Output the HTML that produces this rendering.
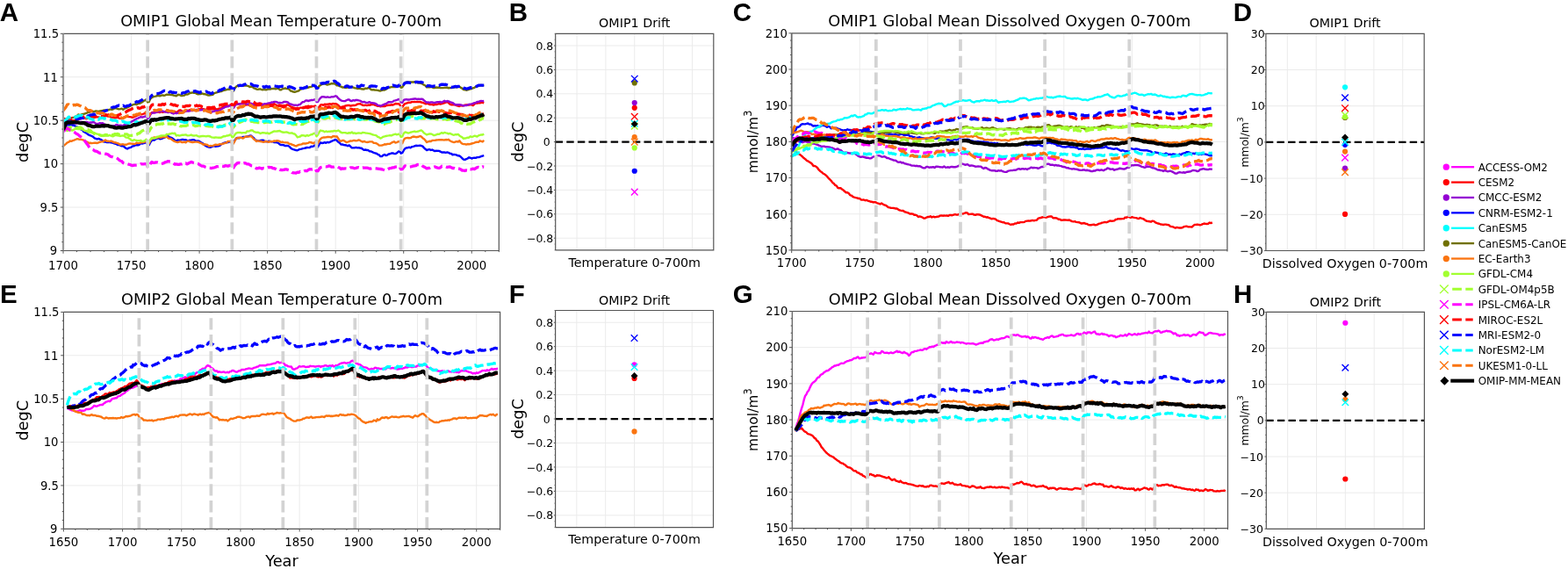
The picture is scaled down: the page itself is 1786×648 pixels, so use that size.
<!DOCTYPE html><html><head><meta charset="utf-8"><title>OMIP drift figure</title><style>html,body{margin:0;padding:0;background:#fff;width:1786px;height:648px;overflow:hidden}svg{display:block}</style></head><body><svg width="1786" height="648" viewBox="0 0 1786 648" font-family="'DejaVu Sans', 'Liberation Sans', sans-serif" fill="#000">
<rect width="1786" height="648" fill="#fff"/>
<clipPath id="c1"><rect x="72" y="38.3" width="496.3" height="247.2"/></clipPath>
<path d="M149.55 38.3V285.5M227.09 38.3V285.5M304.64 38.3V285.5M382.19 38.3V285.5M459.73 38.3V285.5M537.28 38.3V285.5M72 236.06H568.3M72 186.62H568.3M72 137.18H568.3M72 87.74H568.3" stroke="#ebebeb" stroke-width="1" fill="none"/>
<g clip-path="url(#c1)">
<path d="M72 140.68 73.55 139.14 75.1 139.08 76.65 138.8 78.2 137.85 79.75 137.27 81.31 137.3 82.86 137.31 84.41 137.11 85.96 136.92 87.51 136.07 89.06 136.32 90.61 135.26 92.16 135.15 93.71 134.93 95.26 134.14 96.81 134.31 98.37 135.12 99.92 134.64 101.47 133.89 103.02 133.86 104.57 134.18 106.12 134.01 107.67 133.77 109.22 132.99 110.77 133.32 112.32 133.47 113.88 133.9 115.43 134.18 116.98 133.95 118.53 132.72 120.08 132.05 121.63 131.98 123.18 132.62 124.73 132.56 126.28 133.52 127.83 133.67 129.38 133.87 130.94 134.21 132.49 134.17 134.04 133.35 135.59 134.59 137.14 134.89 138.69 135.09 140.24 134.2 141.79 133.18 143.34 132.72 144.89 132.48 146.44 132.99 148 133.17 149.55 133.41 151.1 133.74 152.65 133.08 154.2 132.49 155.75 131.7 157.3 131.1 158.85 130.26 160.4 130.37 161.95 130.23 163.51 129.73 165.06 129.16 166.61 129.27 168.16 133.12 169.71 132.68 171.26 130.3 172.81 128.26 174.36 127.96 175.91 127.74 177.46 127.57 179.01 127.28 180.57 127.5 182.12 127.98 183.67 127.22 185.22 127.79 186.77 127.38 188.32 127.15 189.87 126.22 191.42 125.54 192.97 126.54 194.52 126.33 196.07 127.04 197.63 127.14 199.18 127.28 200.73 127.8 202.28 127.41 203.83 125.71 205.38 125.33 206.93 126.27 208.48 127.24 210.03 126.85 211.58 126.31 213.14 125.63 214.69 126.01 216.24 125.12 217.79 124.77 219.34 125.12 220.89 125.25 222.44 125.1 223.99 125.54 225.54 124.71 227.09 124.18 228.64 124.14 230.2 124.27 231.75 124.11 233.3 125.11 234.85 124.58 236.4 124.81 237.95 124.4 239.5 124.56 241.05 124.32 242.6 124.06 244.15 124.73 245.7 124.2 247.26 124.73 248.81 123.89 250.36 123.45 251.91 123.55 253.46 121.81 255.01 120.93 256.56 120.97 258.11 121.02 259.66 120.9 261.21 120.24 262.77 119.17 264.32 122.85 265.87 122.6 267.42 119.45 268.97 117.79 270.52 118.8 272.07 118.73 273.62 118.16 275.17 118.23 276.72 118.35 278.27 118.81 279.83 119.55 281.38 119.29 282.93 119.39 284.48 120.33 286.03 120.89 287.58 121.63 289.13 120.48 290.68 119.97 292.23 120.5 293.78 119.88 295.33 120.03 296.89 119.9 298.44 119.46 299.99 120.25 301.54 120.07 303.09 119.74 304.64 119.69 306.19 119.85 307.74 119.12 309.29 119 310.84 118.75 312.4 118.22 313.95 119.3 315.5 120.17 317.05 120.76 318.6 119.84 320.15 120.32 321.7 120.53 323.25 120.04 324.8 120.33 326.35 119.57 327.9 119.44 329.46 120.31 331.01 121.26 332.56 122.09 334.11 123.87 335.66 123.67 337.21 123.29 338.76 122.84 340.31 123.69 341.86 122.65 343.41 122.63 344.96 123.18 346.52 122.08 348.07 121.5 349.62 121.3 351.17 120.65 352.72 121.34 354.27 120.9 355.82 121.26 357.37 121.16 358.92 120.79 360.47 124.41 362.03 123.84 363.58 121.93 365.13 119.53 366.68 119.15 368.23 119.76 369.78 118.58 371.33 118.98 372.88 118.77 374.43 118.53 375.98 118.25 377.53 118.87 379.09 117.9 380.64 118.3 382.19 118.3 383.74 118.56 385.29 119.83 386.84 121.47 388.39 122.38 389.94 121.43 391.49 121.38 393.04 120.67 394.59 120.24 396.15 120.01 397.7 119.99 399.25 120.6 400.8 120.26 402.35 119.9 403.9 119.95 405.45 119.69 407 118.6 408.55 118.38 410.1 118.17 411.66 119.02 413.21 119.87 414.76 120.05 416.31 119.61 417.86 120.05 419.41 119.52 420.96 119.75 422.51 119.24 424.06 118.92 425.61 118.99 427.16 119.79 428.72 120.09 430.27 120.89 431.82 120.71 433.37 121.35 434.92 120.77 436.47 121.11 438.02 121.05 439.57 120.3 441.12 119.95 442.67 119.8 444.22 119.74 445.78 119.3 447.33 119.58 448.88 118.97 450.43 117.97 451.98 118.28 453.53 118.27 455.08 118.64 456.63 122.21 458.18 122 459.73 119.72 461.29 118.18 462.84 117.67 464.39 117.04 465.94 116.78 467.49 116.89 469.04 115.92 470.59 116.09 472.14 115.89 473.69 116.11 475.24 115.85 476.79 116.02 478.35 115.94 479.9 116.5 481.45 116.81 483 117.45 484.55 118.26 486.1 118.06 487.65 117.91 489.2 118.94 490.75 119.15 492.3 119.08 493.85 119.49 495.41 119.17 496.96 118.95 498.51 118.79 500.06 118.04 501.61 118.53 503.16 118.1 504.71 117.72 506.26 117.24 507.81 116.66 509.36 116.13 510.92 117.09 512.47 118.72 514.02 119.33 515.57 119.28 517.12 119.12 518.67 119.6 520.22 120.2 521.77 120.49 523.32 121.02 524.87 120.19 526.42 120.49 527.98 120.16 529.53 119.62 531.08 119.37 532.63 119.44 534.18 119.6 535.73 119.33 537.28 119.33 538.83 120.05 540.38 118.6 541.93 117.49 543.48 117.68 545.04 117.24 546.59 117.37 548.14 116.6 549.69 116.84 551.24 117.42" stroke="#ff0000" stroke-width="2.4" fill="none" stroke-linejoin="round"/>
<path d="M72 143.2 73.55 143.69 75.1 143.32 76.65 142.07 78.2 141.4 79.75 141.49 81.31 141.01 82.86 141.13 84.41 139.69 85.96 140.46 87.51 140.69 89.06 139.35 90.61 139.18 92.16 138.95 93.71 138.91 95.26 139.49 96.81 139.18 98.37 138.83 99.92 139.33 101.47 139.92 103.02 139.48 104.57 139.55 106.12 138.83 107.67 139.6 109.22 140.87 110.77 141.01 112.32 140.93 113.88 140.12 115.43 140.53 116.98 140.12 118.53 141.26 120.08 142.52 121.63 143.23 123.18 143.23 124.73 143.5 126.28 143.11 127.83 143.19 129.38 143.24 130.94 143.15 132.49 141.91 134.04 142.47 135.59 142.9 137.14 142.61 138.69 142.96 140.24 143.34 141.79 141.7 143.34 141.83 144.89 141.03 146.44 140.02 148 139.73 149.55 138.72 151.1 137.94 152.65 136.92 154.2 136.14 155.75 135.12 157.3 134.53 158.85 133.87 160.4 133.15 161.95 133.6 163.51 133.05 165.06 132.52 166.61 132.49 168.16 135.18 169.71 134.1 171.26 130.53 172.81 128.8 174.36 128.42 175.91 128.62 177.46 128.16 179.01 127.72 180.57 126.63 182.12 127.12 183.67 126.41 185.22 126.48 186.77 127.19 188.32 127.5 189.87 127.68 191.42 128.11 192.97 127.44 194.52 127.94 196.07 128.86 197.63 129.44 199.18 128.66 200.73 129.14 202.28 128.9 203.83 127.99 205.38 127.15 206.93 127.06 208.48 127.58 210.03 127.35 211.58 126.44 213.14 126.24 214.69 126.6 216.24 126.31 217.79 125.94 219.34 126.1 220.89 125.01 222.44 125.47 223.99 124.9 225.54 125.1 227.09 125.4 228.64 125.31 230.2 124.96 231.75 124.88 233.3 125.88 234.85 125.8 236.4 126.2 237.95 127.22 239.5 128.24 241.05 127.64 242.6 126.85 244.15 126.72 245.7 125.94 247.26 126.37 248.81 126.1 250.36 125.98 251.91 124.42 253.46 123.49 255.01 122.82 256.56 121.77 258.11 121.26 259.66 121.42 261.21 120.41 262.77 119.93 264.32 123.75 265.87 123.19 267.42 120.69 268.97 118.98 270.52 118.45 272.07 118.2 273.62 118.28 275.17 117.9 276.72 117.9 278.27 117.63 279.83 117.7 281.38 118.49 282.93 118.54 284.48 117.7 286.03 117.7 287.58 118.62 289.13 119.29 290.68 118.39 292.23 118.64 293.78 118.64 295.33 117.55 296.89 118.22 298.44 119.44 299.99 118.68 301.54 118.27 303.09 118.48 304.64 117.88 306.19 117.41 307.74 117.35 309.29 116.44 310.84 116.66 312.4 115.87 313.95 115.92 315.5 116.23 317.05 117.24 318.6 116.86 320.15 117.17 321.7 117.01 323.25 115.91 324.8 115.95 326.35 116.04 327.9 116.47 329.46 118.08 331.01 118.52 332.56 119.01 334.11 119.61 335.66 119.78 337.21 119.76 338.76 120.17 340.31 119.15 341.86 118.95 343.41 117.21 344.96 116.1 346.52 115.95 348.07 114.52 349.62 114.46 351.17 115.12 352.72 114.47 354.27 114.06 355.82 114.07 357.37 113.67 358.92 113.23 360.47 115.94 362.03 115.94 363.58 113.35 365.13 111.46 366.68 110.28 368.23 110.22 369.78 110.46 371.33 110.85 372.88 110.43 374.43 110.69 375.98 110.88 377.53 110.24 379.09 110.38 380.64 109.98 382.19 109.24 383.74 109.94 385.29 111.93 386.84 113.23 388.39 114.36 389.94 114.88 391.49 115.14 393.04 115.13 394.59 114.27 396.15 113.51 397.7 113.52 399.25 114.77 400.8 115.04 402.35 114.14 403.9 114.59 405.45 113.82 407 114.02 408.55 114.42 410.1 114.69 411.66 115.59 413.21 116.39 414.76 115.96 416.31 116.64 417.86 116.95 419.41 116.69 420.96 116.16 422.51 117.08 424.06 117.25 425.61 117.51 427.16 117.78 428.72 118.55 430.27 119.81 431.82 120.08 433.37 120.62 434.92 120.08 436.47 119.31 438.02 118.71 439.57 118.15 441.12 117.14 442.67 116.11 444.22 116.2 445.78 116.36 447.33 115.83 448.88 114.6 450.43 114.4 451.98 113.94 453.53 113.26 455.08 112.96 456.63 116.42 458.18 116.82 459.73 114.16 461.29 113.36 462.84 113.17 464.39 113.51 465.94 113.56 467.49 113.19 469.04 112.87 470.59 112.7 472.14 112.54 473.69 112.56 475.24 113 476.79 112.68 478.35 112.84 479.9 112.61 481.45 113.01 483 114.31 484.55 115.66 486.1 116.82 487.65 116.45 489.2 116.91 490.75 116.49 492.3 116.46 493.85 116.84 495.41 116.89 496.96 116.52 498.51 116.15 500.06 116.29 501.61 116.01 503.16 116.83 504.71 115.78 506.26 114.83 507.81 115.68 509.36 115.05 510.92 115.34 512.47 116.15 514.02 116.58 515.57 117.12 517.12 118.14 518.67 119.25 520.22 119.15 521.77 119.3 523.32 119.3 524.87 119.46 526.42 119.8 527.98 120.49 529.53 120.17 531.08 120.07 532.63 119.56 534.18 118.85 535.73 118.62 537.28 118.39 538.83 117.8 540.38 117.22 541.93 117.05 543.48 115.92 545.04 115.97 546.59 115.28 548.14 114.91 549.69 115.12 551.24 114.95" stroke="#9400d3" stroke-width="2.4" fill="none" stroke-linejoin="round"/>
<path d="M72 145.23 73.55 143.69 75.1 143.31 76.65 141.96 78.2 142.44 79.75 142.05 81.31 142.35 82.86 142.74 84.41 142.45 85.96 144.04 87.51 144.3 89.06 144.87 90.61 145.85 92.16 147.33 93.71 147.84 95.26 149.93 96.81 150.78 98.37 151.6 99.92 152.85 101.47 153.78 103.02 154.36 104.57 155 106.12 155.89 107.67 157.3 109.22 157.81 110.77 158.46 112.32 157.89 113.88 158.55 115.43 159.22 116.98 160.6 118.53 161.54 120.08 161.64 121.63 162.06 123.18 162.1 124.73 161.95 126.28 162.31 127.83 162.47 129.38 163.01 130.94 163.61 132.49 163.98 134.04 165.06 135.59 164.96 137.14 165.65 138.69 166.4 140.24 166.19 141.79 167.55 143.34 168.72 144.89 169.5 146.44 168.61 148 168.16 149.55 167.7 151.1 166.33 152.65 166.21 154.2 165.21 155.75 165.22 157.3 165.24 158.85 164.72 160.4 163.14 161.95 163.52 163.51 163 165.06 162.82 166.61 161.81 168.16 164.65 169.71 165.17 171.26 162.18 172.81 159.96 174.36 159.34 175.91 159.45 177.46 158.21 179.01 157.87 180.57 157.26 182.12 158.25 183.67 158.06 185.22 157.35 186.77 156.83 188.32 156.15 189.87 155.5 191.42 155.07 192.97 156.16 194.52 156.67 196.07 157.36 197.63 158.39 199.18 159.9 200.73 160.3 202.28 159.56 203.83 159.62 205.38 159.64 206.93 159.05 208.48 158.95 210.03 159.38 211.58 159.29 213.14 160.17 214.69 160.12 216.24 159.72 217.79 159.65 219.34 159.24 220.89 159.11 222.44 160.23 223.99 160.77 225.54 160.51 227.09 160.84 228.64 162.2 230.2 162.78 231.75 163.88 233.3 165.53 234.85 166.31 236.4 167.13 237.95 167.65 239.5 167.92 241.05 167.18 242.6 166.37 244.15 166.34 245.7 166.89 247.26 166.46 248.81 166.34 250.36 165.88 251.91 164.31 253.46 163.65 255.01 162.93 256.56 162.32 258.11 162.31 259.66 162.16 261.21 161.55 262.77 161.18 264.32 163.42 265.87 163.08 267.42 159.72 268.97 157.66 270.52 156.87 272.07 157.39 273.62 156.83 275.17 156.91 276.72 155.91 278.27 155.88 279.83 155.92 281.38 155.47 282.93 155.08 284.48 154.68 286.03 154.56 287.58 155.91 289.13 157.13 290.68 159.32 292.23 159.98 293.78 160.16 295.33 160.46 296.89 160.01 298.44 159.77 299.99 159.66 301.54 161.03 303.09 160.99 304.64 161.46 306.19 160.65 307.74 160.87 309.29 161.26 310.84 161.3 312.4 162.15 313.95 162.1 315.5 162.26 317.05 162.98 318.6 164.44 320.15 165.17 321.7 165.05 323.25 165.21 324.8 166.13 326.35 165.82 327.9 166 329.46 166.75 331.01 168.47 332.56 169.62 334.11 170.11 335.66 170.54 337.21 171.11 338.76 171.25 340.31 170.48 341.86 169.92 343.41 169.68 344.96 169.17 346.52 168.93 348.07 168.48 349.62 168 351.17 168.11 352.72 168.06 354.27 166.82 355.82 166.95 357.37 166.43 358.92 165.17 360.47 168.32 362.03 167.5 363.58 164.66 365.13 162.3 366.68 163 368.23 162.79 369.78 162.12 371.33 162.78 372.88 161.91 374.43 162.38 375.98 161.73 377.53 160.92 379.09 160.23 380.64 159.54 382.19 159 383.74 160.08 385.29 161.72 386.84 162.63 388.39 164.62 389.94 164.39 391.49 165.15 393.04 165.22 394.59 165.44 396.15 166.26 397.7 165.37 399.25 166.91 400.8 168.33 402.35 168.39 403.9 168.29 405.45 167.78 407 168.37 408.55 168.25 410.1 168.5 411.66 168.69 413.21 170.02 414.76 170.81 416.31 170.49 417.86 171.06 419.41 171.07 420.96 172.29 422.51 172.4 424.06 173.05 425.61 173.93 427.16 174.33 428.72 174.74 430.27 175.8 431.82 176.45 433.37 178.13 434.92 178.12 436.47 176.76 438.02 176.05 439.57 177.01 441.12 176.58 442.67 175.55 444.22 175.24 445.78 174.53 447.33 174.39 448.88 174.97 450.43 175.08 451.98 174.3 453.53 172.8 455.08 172.07 456.63 174.69 458.18 174.18 459.73 171.41 461.29 169.22 462.84 168.36 464.39 168.27 465.94 167.73 467.49 168.27 469.04 167.23 470.59 166.86 472.14 166.42 473.69 165.81 475.24 165.95 476.79 165.87 478.35 165.64 479.9 165.98 481.45 166.64 483 168.32 484.55 169.78 486.1 171.03 487.65 170.44 489.2 170.16 490.75 170.95 492.3 170.56 493.85 171.39 495.41 172.12 496.96 171.65 498.51 171.82 500.06 171.89 501.61 172.64 503.16 173.46 504.71 173.44 506.26 173.53 507.81 173.83 509.36 173.45 510.92 173.87 512.47 174.79 514.02 174.96 515.57 176.23 517.12 175.88 518.67 176.16 520.22 176.61 521.77 177.29 523.32 177.46 524.87 178.66 526.42 180.24 527.98 181.58 529.53 181.92 531.08 181.18 532.63 180.49 534.18 179.31 535.73 179.75 537.28 180.53 538.83 179.92 540.38 179.69 541.93 179.87 543.48 179.15 545.04 179.11 546.59 178.75 548.14 177.97 549.69 177.57 551.24 177.16" stroke="#0000ff" stroke-width="2.4" fill="none" stroke-linejoin="round"/>
<path d="M72 142.74 73.55 141.19 75.1 139.73 76.65 137.2 78.2 135.51 79.75 135.18 81.31 134.32 82.86 133.85 84.41 133.63 85.96 132.81 87.51 132.28 89.06 130.49 90.61 130.91 92.16 130.61 93.71 130.06 95.26 129.98 96.81 129.45 98.37 128.96 99.92 128.01 101.47 127.83 103.02 127.23 104.57 126.92 106.12 127.2 107.67 126.99 109.22 126.33 110.77 126.57 112.32 126.86 113.88 126.55 115.43 126.29 116.98 126 118.53 125.39 120.08 125.77 121.63 125.69 123.18 125.24 124.73 124.85 126.28 124.45 127.83 124.75 129.38 124.08 130.94 122.98 132.49 123.35 134.04 123.98 135.59 124.33 137.14 124.17 138.69 123.62 140.24 124.87 141.79 123.72 143.34 123.2 144.89 122.52 146.44 121.65 148 120.98 149.55 120.04 151.1 119.38 152.65 118.92 154.2 118.57 155.75 119.19 157.3 117.94 158.85 117.83 160.4 117.12 161.95 116.27 163.51 114.99 165.06 114.41 166.61 113.35 168.16 116.44 169.71 115.92 171.26 112.55 172.81 111.05 174.36 110.31 175.91 109.93 177.46 109.65 179.01 109.06 180.57 109.14 182.12 109.27 183.67 108.62 185.22 108.43 186.77 108.73 188.32 108.34 189.87 107.66 191.42 107.77 192.97 107.68 194.52 107.95 196.07 107.82 197.63 108.61 199.18 108.89 200.73 109.32 202.28 108.18 203.83 107.74 205.38 108.56 206.93 109.13 208.48 108.84 210.03 108.57 211.58 107.27 213.14 107.57 214.69 107.09 216.24 106.04 217.79 105.75 219.34 105.43 220.89 105.83 222.44 105.75 223.99 106.85 225.54 107.26 227.09 106.99 228.64 107.09 230.2 106.49 231.75 107.04 233.3 107.19 234.85 107.7 236.4 108.26 237.95 108.65 239.5 108.27 241.05 108.1 242.6 107.8 244.15 106.06 245.7 105.6 247.26 105.26 248.81 104.6 250.36 104.26 251.91 104.1 253.46 103.46 255.01 102.7 256.56 102.55 258.11 102.09 259.66 101.6 261.21 101.88 262.77 101.46 264.32 103.68 265.87 103.7 267.42 100.58 268.97 98.78 270.52 97.63 272.07 97.99 273.62 96.95 275.17 97.1 276.72 97.75 278.27 97.39 279.83 97.64 281.38 97.6 282.93 98.08 284.48 99.08 286.03 98.56 287.58 98.97 289.13 100.4 290.68 100.77 292.23 101.62 293.78 101.87 295.33 101.43 296.89 101.53 298.44 102.28 299.99 102.07 301.54 102.12 303.09 102.28 304.64 101.72 306.19 101.41 307.74 101.46 309.29 101.11 310.84 100.9 312.4 100.95 313.95 101.39 315.5 100.84 317.05 100.71 318.6 102.23 320.15 102.42 321.7 101.18 323.25 101.03 324.8 100.45 326.35 101.11 327.9 100.95 329.46 101.77 331.01 103.47 332.56 103.84 334.11 104.64 335.66 104.74 337.21 104.34 338.76 103.8 340.31 103.36 341.86 101.89 343.41 101.44 344.96 100.17 346.52 99.96 348.07 99.6 349.62 100.05 351.17 99.74 352.72 99.2 354.27 98.79 355.82 98.24 357.37 97.96 358.92 97.46 360.47 100.79 362.03 100.29 363.58 97.98 365.13 96.82 366.68 96.03 368.23 95.64 369.78 95.11 371.33 96.1 372.88 96.5 374.43 96.19 375.98 95.76 377.53 95.02 379.09 95.33 380.64 95.07 382.19 96 383.74 97.2 385.29 97.2 386.84 98.1 388.39 98.61 389.94 99.43 391.49 99.36 393.04 99.89 394.59 99.94 396.15 99.46 397.7 99.84 399.25 99.26 400.8 98.8 402.35 99.69 403.9 100.24 405.45 100.38 407 100.96 408.55 100.68 410.1 100.81 411.66 101.28 413.21 101.49 414.76 101.44 416.31 100.55 417.86 100.89 419.41 100.15 420.96 100.43 422.51 102 424.06 102.43 425.61 102.21 427.16 102.59 428.72 102.64 430.27 102.91 431.82 103.21 433.37 103.47 434.92 102.88 436.47 102.49 438.02 102.59 439.57 101.63 441.12 100.79 442.67 99.57 444.22 99.64 445.78 99 447.33 99.17 448.88 99.13 450.43 99.17 451.98 98.08 453.53 97.33 455.08 96.77 456.63 99.73 458.18 99.47 459.73 96.98 461.29 94.25 462.84 93.72 464.39 93.42 465.94 93.69 467.49 93.34 469.04 93.43 470.59 93.34 472.14 93.47 473.69 92.84 475.24 94.23 476.79 94.6 478.35 94.54 479.9 95 481.45 95.66 483 96.78 484.55 97.51 486.1 99.36 487.65 99.09 489.2 99.27 490.75 98.96 492.3 99.44 493.85 100.04 495.41 99.93 496.96 99.49 498.51 99.71 500.06 99.71 501.61 100.1 503.16 100.08 504.71 100.1 506.26 99.88 507.81 99.73 509.36 99.74 510.92 100.26 512.47 100.03 514.02 100.14 515.57 99.76 517.12 99.58 518.67 99.1 520.22 99.22 521.77 99.09 523.32 98.71 524.87 99.83 526.42 100.66 527.98 102.06 529.53 102.22 531.08 102.7 532.63 102.39 534.18 101.78 535.73 101.35 537.28 100.98 538.83 100.23 540.38 99.81 541.93 98.83 543.48 98.27 545.04 97.93 546.59 97.29 548.14 97 549.69 97.4 551.24 97.06" stroke="#707000" stroke-width="2.4" fill="none" stroke-linejoin="round"/>
<path d="M72 166.41 73.55 165.1 75.1 163.88 76.65 162.32 78.2 161.87 79.75 160.51 81.31 160.82 82.86 160.17 84.41 159.67 85.96 158.97 87.51 158.25 89.06 158.32 90.61 158.86 92.16 158.92 93.71 159.16 95.26 159.59 96.81 160.6 98.37 161.42 99.92 161.86 101.47 162.98 103.02 162.75 104.57 163.14 106.12 162.83 107.67 162.67 109.22 162.78 110.77 162.96 112.32 162.29 113.88 161.72 115.43 161.37 116.98 161.4 118.53 160.34 120.08 159.47 121.63 160.7 123.18 160.66 124.73 161.07 126.28 160.52 127.83 161.19 129.38 161.95 130.94 162.24 132.49 162.65 134.04 163.17 135.59 163.87 137.14 164.73 138.69 164.38 140.24 164.3 141.79 164.78 143.34 164.8 144.89 164.26 146.44 163.62 148 163.46 149.55 163.67 151.1 163.81 152.65 163.92 154.2 163.69 155.75 162.58 157.3 163.1 158.85 162.93 160.4 162.37 161.95 161.93 163.51 162.1 165.06 161.32 166.61 160.5 168.16 163.46 169.71 163.52 171.26 159.85 172.81 158.4 174.36 156.83 175.91 156.45 177.46 156.63 179.01 157.03 180.57 156.08 182.12 156.48 183.67 156.72 185.22 156.1 186.77 156.08 188.32 156.2 189.87 155.53 191.42 157.28 192.97 157.84 194.52 157.91 196.07 159.21 197.63 160.32 199.18 161.05 200.73 161.57 202.28 161.98 203.83 161.54 205.38 161.06 206.93 162.05 208.48 162.01 210.03 161.6 211.58 162.32 213.14 160.92 214.69 160.69 216.24 161.43 217.79 161.71 219.34 161.96 220.89 161.74 222.44 161.6 223.99 161.6 225.54 161.73 227.09 162.34 228.64 163.01 230.2 163.7 231.75 164.76 233.3 164.16 234.85 164.8 236.4 164.99 237.95 166.52 239.5 166.06 241.05 166.13 242.6 165.91 244.15 165.26 245.7 164.74 247.26 164.96 248.81 164.88 250.36 164.06 251.91 164.46 253.46 163.7 255.01 163.43 256.56 162.82 258.11 162.49 259.66 160.89 261.21 161.13 262.77 160.75 264.32 163.78 265.87 163.51 267.42 160.71 268.97 157.68 270.52 157.28 272.07 156.7 273.62 156.58 275.17 156.98 276.72 157.58 278.27 156.48 279.83 155.66 281.38 155.57 282.93 155.6 284.48 155.33 286.03 154.98 287.58 156.8 289.13 158.49 290.68 159.6 292.23 161.02 293.78 160.32 295.33 160.7 296.89 160.98 298.44 161.43 299.99 161.83 301.54 161.3 303.09 161.14 304.64 161.33 306.19 161.92 307.74 161.16 309.29 161.3 310.84 161.12 312.4 160.46 313.95 160.71 315.5 160.13 317.05 160.48 318.6 160.84 320.15 162.1 321.7 161.55 323.25 162.09 324.8 162.32 326.35 162.39 327.9 162.52 329.46 163.81 331.01 163.85 332.56 164.78 334.11 165.09 335.66 165.82 337.21 166.43 338.76 165.69 340.31 164.92 341.86 164.68 343.41 164.43 344.96 163.39 346.52 163.44 348.07 163.57 349.62 163.11 351.17 162.81 352.72 161.86 354.27 162.26 355.82 162.74 357.37 163.24 358.92 161.78 360.47 164.9 362.03 163.21 363.58 160.25 365.13 158.1 366.68 156.94 368.23 156.57 369.78 156.54 371.33 156.41 372.88 156.02 374.43 155.88 375.98 156.19 377.53 156.61 379.09 155.25 380.64 155.26 382.19 155.53 383.74 155.32 385.29 157.62 386.84 160.04 388.39 160.83 389.94 159.92 391.49 160.06 393.04 160.98 394.59 162.15 396.15 161.67 397.7 161.15 399.25 160.37 400.8 160.61 402.35 160 403.9 160.01 405.45 160.42 407 160.15 408.55 159.41 410.1 159.97 411.66 160.91 413.21 161.66 414.76 160.9 416.31 161.59 417.86 161.93 419.41 161.82 420.96 161.4 422.51 161.39 424.06 161.39 425.61 162.85 427.16 162.9 428.72 163.28 430.27 164.2 431.82 165.54 433.37 165.66 434.92 165.51 436.47 165.17 438.02 164.28 439.57 164.55 441.12 163.98 442.67 163.92 444.22 163.87 445.78 162.82 447.33 161.88 448.88 161.31 450.43 162.5 451.98 162.18 453.53 161.23 455.08 161.14 456.63 163.2 458.18 163.26 459.73 159.66 461.29 157.54 462.84 157.14 464.39 157.05 465.94 157.22 467.49 157.17 469.04 156.14 470.59 155.54 472.14 155.69 473.69 156.2 475.24 155.97 476.79 155.71 478.35 154.96 479.9 155.64 481.45 157.16 483 158.28 484.55 159.9 486.1 161.94 487.65 161.29 489.2 160.77 490.75 161.05 492.3 159.93 493.85 159.89 495.41 159.85 496.96 159.48 498.51 159.35 500.06 159.23 501.61 159.31 503.16 159.1 504.71 159.33 506.26 159.44 507.81 159.04 509.36 159.3 510.92 158.79 512.47 160.26 514.02 161.01 515.57 161.61 517.12 162.06 518.67 161.54 520.22 161.18 521.77 161.61 523.32 160.27 524.87 162.32 526.42 163.67 527.98 164.14 529.53 164.08 531.08 164.66 532.63 164.04 534.18 164.29 535.73 164 537.28 163.51 538.83 163.02 540.38 162.54 541.93 161.97 543.48 161.8 545.04 161.83 546.59 160.29 548.14 160.86 549.69 161.43 551.24 159.79" stroke="#fa7410" stroke-width="2.4" fill="none" stroke-linejoin="round"/>
<path d="M72 148.7 73.55 147.74 75.1 148.03 76.65 149.06 78.2 148.14 79.75 148.57 81.31 148.2 82.86 148.46 84.41 147.43 85.96 146.51 87.51 146.8 89.06 146.99 90.61 147.04 92.16 146.54 93.71 146.64 95.26 147.96 96.81 149.01 98.37 148.86 99.92 150.06 101.47 150.56 103.02 150.48 104.57 150.74 106.12 151.17 107.67 151.27 109.22 152.23 110.77 152.59 112.32 153.02 113.88 154.01 115.43 154.58 116.98 154.2 118.53 154.74 120.08 154.22 121.63 154.45 123.18 154.68 124.73 153.9 126.28 154.52 127.83 155.24 129.38 154.95 130.94 154 132.49 154.05 134.04 154.36 135.59 154.68 137.14 154.95 138.69 154.55 140.24 154.45 141.79 155.04 143.34 156.5 144.89 156.59 146.44 157.14 148 158.16 149.55 159.68 151.1 160.2 152.65 159.21 154.2 159.65 155.75 159.98 157.3 160.16 158.85 160.26 160.4 159.83 161.95 161.02 163.51 160.69 165.06 160.05 166.61 158.75 168.16 161.68 169.71 161.53 171.26 158.88 172.81 156.95 174.36 157.41 175.91 157.54 177.46 157.11 179.01 155.73 180.57 155.6 182.12 154.83 183.67 154.46 185.22 154.36 186.77 154.33 188.32 154.48 189.87 152.81 191.42 153.13 192.97 152.54 194.52 152.3 196.07 151.59 197.63 152.2 199.18 151.66 200.73 154.54 202.28 153.93 203.83 154.45 205.38 154.36 206.93 153.82 208.48 153.8 210.03 153.59 211.58 153.36 213.14 154.26 214.69 154.36 216.24 154.14 217.79 153.49 219.34 154.38 220.89 154.44 222.44 154.38 223.99 154.15 225.54 155.17 227.09 155.66 228.64 155.29 230.2 155.05 231.75 155.02 233.3 155.17 234.85 155.38 236.4 154.89 237.95 155.01 239.5 155.48 241.05 156.33 242.6 156.66 244.15 156.73 245.7 156.37 247.26 156.67 248.81 156.73 250.36 156.7 251.91 156.74 253.46 155.86 255.01 155.08 256.56 155.27 258.11 154.51 259.66 154.43 261.21 153.99 262.77 152.85 264.32 156.26 265.87 155.95 267.42 153.47 268.97 151.65 270.52 151.03 272.07 150.95 273.62 150.86 275.17 151.46 276.72 151.16 278.27 151.16 279.83 151.37 281.38 149.56 282.93 149.65 284.48 149.07 286.03 148.42 287.58 148.43 289.13 149.78 290.68 150.47 292.23 150.79 293.78 150.63 295.33 151.35 296.89 152.04 298.44 151.29 299.99 151.24 301.54 151.41 303.09 151.77 304.64 151.39 306.19 152.31 307.74 151.56 309.29 150.86 310.84 150.08 312.4 149.35 313.95 149.66 315.5 149.44 317.05 149.2 318.6 149 320.15 149.88 321.7 150.53 323.25 150.72 324.8 150.66 326.35 150.33 327.9 150.96 329.46 151.58 331.01 151.53 332.56 151.37 334.11 152.25 335.66 152.44 337.21 154.13 338.76 156.3 340.31 155.88 341.86 155.49 343.41 154.3 344.96 154.2 346.52 154.36 348.07 155.11 349.62 153.92 351.17 154.73 352.72 154 354.27 153.27 355.82 153.01 357.37 151.84 358.92 151.65 360.47 155.35 362.03 153.52 363.58 150.59 365.13 148.53 366.68 149.02 368.23 149.3 369.78 150.3 371.33 149.48 372.88 150.07 374.43 149.63 375.98 149.76 377.53 149.44 379.09 149.56 380.64 148.83 382.19 149.22 383.74 149.27 385.29 148.48 386.84 149.46 388.39 150.76 389.94 151.29 391.49 151.16 393.04 151.09 394.59 151.48 396.15 151.75 397.7 151.21 399.25 151.53 400.8 150.49 402.35 151.82 403.9 151.4 405.45 152.08 407 151.61 408.55 151.37 410.1 151.61 411.66 151.7 413.21 150.92 414.76 151.09 416.31 151.45 417.86 151.64 419.41 151.83 420.96 152.08 422.51 152.47 424.06 153.29 425.61 153.64 427.16 153.93 428.72 154.32 430.27 155.86 431.82 156.39 433.37 157.59 434.92 156.78 436.47 155.78 438.02 155.39 439.57 154.96 441.12 154.59 442.67 154.38 444.22 154.1 445.78 154.45 447.33 153.61 448.88 153.16 450.43 152.68 451.98 153.35 453.53 152.81 455.08 152.44 456.63 156.1 458.18 155.42 459.73 152.02 461.29 150.5 462.84 150.78 464.39 151.44 465.94 151.47 467.49 150.77 469.04 150.31 470.59 149.95 472.14 149.55 473.69 150.2 475.24 149.79 476.79 149.47 478.35 148.87 479.9 148.34 481.45 149.69 483 151.57 484.55 152.48 486.1 153.42 487.65 152.84 489.2 152.51 490.75 152.34 492.3 153.02 493.85 153.96 495.41 153.95 496.96 153.43 498.51 152.64 500.06 152.9 501.61 152 503.16 151.18 504.71 151.82 506.26 150.93 507.81 151.44 509.36 151.69 510.92 152.47 512.47 151.88 514.02 152.72 515.57 153.33 517.12 153.76 518.67 153.13 520.22 153.28 521.77 152.87 523.32 154.45 524.87 155.4 526.42 156.33 527.98 157.85 529.53 157.46 531.08 157.2 532.63 156.68 534.18 156.74 535.73 155.27 537.28 155.86 538.83 155.56 540.38 154.67 541.93 155.04 543.48 155.58 545.04 154.37 546.59 153.87 548.14 153.42 549.69 153.52 551.24 152.65" stroke="#a2ff30" stroke-width="2.4" fill="none" stroke-linejoin="round"/>
<path d="M72 146.89 73.55 146.34 75.1 146.74 76.65 145.66 78.2 145.72 79.75 145.87 81.31 144.72 82.86 144.65 84.41 144.94 85.96 145.87 87.51 145.31 89.06 145.48 90.61 144.98 92.16 145.32 93.71 146.78 95.26 147.54 96.81 147.05 98.37 147.16 99.92 147.38 101.47 148.19 103.02 148.57 104.57 150.5 106.12 151.17 107.67 152.64 109.22 152.68 110.77 152.96 112.32 153.19 113.88 153.7 115.43 154.26 116.98 154.48 118.53 154 120.08 153.44 121.63 153.61 123.18 153.99 124.73 154.04 126.28 153.34 127.83 153.74 129.38 153.35 130.94 152.54 132.49 152.81 134.04 152.38 135.59 153.23 137.14 153.31 138.69 152.93 140.24 152.82 141.79 152.96 143.34 152.86 144.89 152.86 146.44 154.26 148 154.28 149.55 154.38 151.1 154.03 152.65 154.14 154.2 153.66 155.75 153.17 157.3 151.91 158.85 151.76 160.4 150.3 161.95 149.05 163.51 148.34 165.06 147.55 166.61 147.11 168.16 150.78 169.71 149.58 171.26 146.94 172.81 144.57 174.36 143.33 175.91 142.27 177.46 142.1 179.01 141.47 180.57 141.14 182.12 141.27 183.67 140.95 185.22 141.23 186.77 140.16 188.32 139.76 189.87 141.02 191.42 140.99 192.97 140.92 194.52 141.37 196.07 140.95 197.63 140.9 199.18 141.86 200.73 141.51 202.28 142.74 203.83 142.62 205.38 143.66 206.93 143.75 208.48 143.46 210.03 143.46 211.58 143.35 213.14 142.72 214.69 142.22 216.24 142.39 217.79 142.81 219.34 142.45 220.89 142.71 222.44 143.58 223.99 143.27 225.54 143.07 227.09 142.35 228.64 143.19 230.2 143.02 231.75 142.83 233.3 142.53 234.85 143.4 236.4 143.57 237.95 143.89 239.5 143.9 241.05 143.62 242.6 144.11 244.15 144.54 245.7 144.38 247.26 144.19 248.81 143.9 250.36 143.41 251.91 143.73 253.46 144.02 255.01 142.99 256.56 142.04 258.11 142.01 259.66 141.57 261.21 141.41 262.77 141.27 264.32 145.06 265.87 145 267.42 142.87 268.97 141.6 270.52 139.79 272.07 139.55 273.62 139.15 275.17 138.53 276.72 137.7 278.27 136.52 279.83 136.12 281.38 136.7 282.93 136.59 284.48 137.83 286.03 138.28 287.58 138.31 289.13 138.91 290.68 139.03 292.23 138.92 293.78 139.64 295.33 139.66 296.89 139.67 298.44 139.68 299.99 139.63 301.54 139.65 303.09 139.2 304.64 138.99 306.19 139.17 307.74 139.1 309.29 139.14 310.84 138.42 312.4 138.37 313.95 138.16 315.5 138.33 317.05 138.89 318.6 138.87 320.15 139.12 321.7 139.06 323.25 139.16 324.8 138.99 326.35 138.73 327.9 138.65 329.46 139.23 331.01 140.45 332.56 141.49 334.11 141.87 335.66 141.56 337.21 141.51 338.76 141.74 340.31 140.84 341.86 140.84 343.41 141.72 344.96 141.31 346.52 140.27 348.07 139.72 349.62 138.62 351.17 138.41 352.72 138.08 354.27 137.73 355.82 137.34 357.37 136.93 358.92 136.94 360.47 139.99 362.03 139.27 363.58 136.73 365.13 134.1 366.68 133.94 368.23 134.81 369.78 135 371.33 134.76 372.88 133.93 374.43 133.72 375.98 134.47 377.53 133.91 379.09 133.47 380.64 133.64 382.19 134.24 383.74 134.48 385.29 135.08 386.84 134.67 388.39 135.44 389.94 135.37 391.49 135.79 393.04 135.22 394.59 135.79 396.15 135.7 397.7 135.91 399.25 135.5 400.8 134.97 402.35 135.14 403.9 135.66 405.45 135.58 407 135.4 408.55 135.33 410.1 136.02 411.66 135.8 413.21 135.22 414.76 135.98 416.31 135.88 417.86 136 419.41 135.25 420.96 135.36 422.51 135.69 424.06 136.23 425.61 136.98 427.16 137.98 428.72 138.43 430.27 138.66 431.82 138.62 433.37 140.04 434.92 140.74 436.47 141.28 438.02 141.24 439.57 140.02 441.12 139.77 442.67 139.48 444.22 139.2 445.78 138.07 447.33 137.41 448.88 136.47 450.43 136.64 451.98 136.14 453.53 135.26 455.08 134.57 456.63 137.8 458.18 137 459.73 134.41 461.29 132.91 462.84 133.15 464.39 133.12 465.94 133.18 467.49 132.81 469.04 132.69 470.59 132.29 472.14 132.99 473.69 133.34 475.24 133.36 476.79 134.62 478.35 134.39 479.9 134.9 481.45 134.76 483 134.89 484.55 134.34 486.1 134.59 487.65 135.06 489.2 134.15 490.75 135.13 492.3 134.79 493.85 134.93 495.41 134.97 496.96 135.63 498.51 135.9 500.06 135.61 501.61 135.51 503.16 135.88 504.71 135.74 506.26 135.64 507.81 135.71 509.36 136.4 510.92 135.85 512.47 135.56 514.02 136.15 515.57 136.18 517.12 136.36 518.67 137.55 520.22 137.96 521.77 138.29 523.32 138.58 524.87 140.05 526.42 140.48 527.98 141.67 529.53 141.68 531.08 140.99 532.63 141.4 534.18 141.01 535.73 141.05 537.28 140.13 538.83 139.16 540.38 138.66 541.93 137.97 543.48 138.05 545.04 137.7 546.59 136.41 548.14 135.84 549.69 134.54 551.24 134.85" stroke="#a2ff30" stroke-width="3.3" fill="none" stroke-linejoin="round" stroke-dasharray="10.6 4.3"/>
<path d="M72 149.66 73.55 148.45 75.1 146.62 76.65 145.99 78.2 147.21 79.75 148.1 81.31 148.67 82.86 149.4 84.41 150.31 85.96 151.52 87.51 152.62 89.06 153.33 90.61 154.83 92.16 155.96 93.71 156.93 95.26 158.56 96.81 160.84 98.37 162.9 99.92 164.92 101.47 167.35 103.02 169.24 104.57 170.01 106.12 170.54 107.67 171.85 109.22 172.14 110.77 172.64 112.32 173.76 113.88 174.44 115.43 174.08 116.98 174.72 118.53 174.91 120.08 175.25 121.63 175.39 123.18 176.09 124.73 177.46 126.28 178.27 127.83 178.55 129.38 179.15 130.94 179.52 132.49 179.69 134.04 180.65 135.59 182.12 137.14 183.24 138.69 183.58 140.24 185.45 141.79 186.13 143.34 186.1 144.89 186.61 146.44 187.16 148 187.47 149.55 188.12 151.1 188.6 152.65 188.17 154.2 188.11 155.75 188.04 157.3 187.71 158.85 187.14 160.4 186.56 161.95 186.79 163.51 186.79 165.06 186.65 166.61 186.53 168.16 189.93 169.71 189.53 171.26 186.54 172.81 184.43 174.36 185.27 175.91 185.4 177.46 184.91 179.01 184.83 180.57 185.3 182.12 186.02 183.67 186.31 185.22 186.07 186.77 185.58 188.32 184.52 189.87 184.28 191.42 183.65 192.97 183.93 194.52 184.03 196.07 185.25 197.63 185.87 199.18 187.1 200.73 186.78 202.28 187.26 203.83 187.35 205.38 186.91 206.93 186.95 208.48 186.43 210.03 186.88 211.58 185.87 213.14 186.95 214.69 186.03 216.24 185.15 217.79 184.38 219.34 184.94 220.89 185.5 222.44 185.75 223.99 186.1 225.54 186.33 227.09 187.51 228.64 188.39 230.2 189.16 231.75 189.05 233.3 190.01 234.85 190.39 236.4 191.1 237.95 191.21 239.5 191.3 241.05 191.54 242.6 191.02 244.15 190.77 245.7 190.34 247.26 189.59 248.81 189.63 250.36 189.07 251.91 189.08 253.46 189.24 255.01 189.57 256.56 188.73 258.11 188.91 259.66 189.23 261.21 188.65 262.77 188.22 264.32 191.46 265.87 191.18 267.42 188.47 268.97 186.9 270.52 185.57 272.07 185.4 273.62 185.77 275.17 186.49 276.72 185.97 278.27 185.63 279.83 185.9 281.38 186.81 282.93 186.79 284.48 187.6 286.03 188.69 287.58 188.84 289.13 190 290.68 190.81 292.23 191.93 293.78 191.69 295.33 191.11 296.89 191.53 298.44 192.11 299.99 191.49 301.54 191.67 303.09 191.07 304.64 190.96 306.19 190.33 307.74 190.63 309.29 190.63 310.84 191.66 312.4 191.77 313.95 192.4 315.5 193.15 317.05 192.31 318.6 193.41 320.15 193.5 321.7 193.64 323.25 193.46 324.8 192.86 326.35 192.87 327.9 193.45 329.46 193.87 331.01 195.07 332.56 196.4 334.11 196.8 335.66 196.92 337.21 197.2 338.76 196.22 340.31 196.41 341.86 195.43 343.41 195.87 344.96 195.45 346.52 194.74 348.07 194.33 349.62 194.78 351.17 193.51 352.72 192.61 354.27 192.83 355.82 192.77 357.37 192.08 358.92 192.05 360.47 195.05 362.03 194.94 363.58 192.36 365.13 190.65 366.68 190.38 368.23 189.92 369.78 189.79 371.33 189.87 372.88 189.69 374.43 188.93 375.98 189.12 377.53 190.17 379.09 190.2 380.64 190.03 382.19 189.6 383.74 189.35 385.29 190.4 386.84 191.11 388.39 192.52 389.94 191.8 391.49 192.04 393.04 191.8 394.59 191.95 396.15 191.73 397.7 191.98 399.25 190.89 400.8 190.95 402.35 191.2 403.9 191.74 405.45 191.37 407 190.94 408.55 190.7 410.1 191.14 411.66 191.28 413.21 190.98 414.76 191.08 416.31 191.06 417.86 191.23 419.41 191.41 420.96 192.03 422.51 192.02 424.06 191.55 425.61 191.79 427.16 191.69 428.72 191.85 430.27 192.09 431.82 192.44 433.37 192.5 434.92 192.75 436.47 193.26 438.02 193.66 439.57 194.11 441.12 193.22 442.67 192.28 444.22 191.58 445.78 191.41 447.33 190.82 448.88 190.82 450.43 190.06 451.98 189.96 453.53 190.51 455.08 189.61 456.63 192.73 458.18 192.65 459.73 190.75 461.29 188.85 462.84 189.35 464.39 189.83 465.94 190.16 467.49 189.97 469.04 189.65 470.59 189.05 472.14 188.85 473.69 188.66 475.24 187.42 476.79 187.54 478.35 187.53 479.9 187.53 481.45 189.24 483 189.96 484.55 190.88 486.1 191.84 487.65 191.48 489.2 191.38 490.75 190.48 492.3 190.24 493.85 190.36 495.41 189.84 496.96 190.69 498.51 191.07 500.06 191.31 501.61 190.91 503.16 189.28 504.71 189.66 506.26 189.36 507.81 189.9 509.36 190.48 510.92 190.13 512.47 189.97 514.02 190.79 515.57 191.48 517.12 191.52 518.67 192.18 520.22 192.54 521.77 192.24 523.32 192.27 524.87 192.91 526.42 194.09 527.98 194.09 529.53 194.49 531.08 193.92 532.63 194.13 534.18 192.48 535.73 192.74 537.28 192.65 538.83 192.21 540.38 192.59 541.93 191.55 543.48 190.72 545.04 190.37 546.59 190.81 548.14 190.97 549.69 190.01 551.24 190.14" stroke="#ff00ff" stroke-width="3.3" fill="none" stroke-linejoin="round" stroke-dasharray="10.6 4.3"/>
<path d="M72 135.65 73.55 135.51 75.1 135.85 76.65 135.43 78.2 134.56 79.75 134.54 81.31 134.71 82.86 135.07 84.41 135.52 85.96 134.34 87.51 133.91 89.06 133.79 90.61 134.12 92.16 133.8 93.71 133.4 95.26 133.29 96.81 132.76 98.37 132.65 99.92 132.99 101.47 132.95 103.02 132.33 104.57 131.74 106.12 132.67 107.67 133.18 109.22 132.71 110.77 132.3 112.32 132.41 113.88 132.42 115.43 132.52 116.98 132.68 118.53 132.04 120.08 130.55 121.63 131.14 123.18 131.1 124.73 130.51 126.28 131.28 127.83 132.22 129.38 131.87 130.94 132.18 132.49 132 134.04 131.34 135.59 130.84 137.14 129.94 138.69 129.19 140.24 128.59 141.79 128.23 143.34 127.65 144.89 126.49 146.44 125.55 148 125.08 149.55 124.44 151.1 123.53 152.65 123.01 154.2 122.36 155.75 123 157.3 122.58 158.85 123.51 160.4 123.02 161.95 121.9 163.51 122.02 165.06 121.4 166.61 120.91 168.16 124.14 169.71 124.7 171.26 122.08 172.81 119.83 174.36 119.05 175.91 119.01 177.46 119.24 179.01 119.23 180.57 119.48 182.12 119.36 183.67 119.53 185.22 118.45 186.77 119.26 188.32 118.28 189.87 118.06 191.42 117.78 192.97 117.97 194.52 118.71 196.07 119.03 197.63 119.85 199.18 119.35 200.73 120.44 202.28 120.52 203.83 121.37 205.38 121.29 206.93 121.31 208.48 121.26 210.03 121.62 211.58 120.54 213.14 120.34 214.69 120.55 216.24 120.23 217.79 120.93 219.34 120.12 220.89 121.03 222.44 120.66 223.99 119.89 225.54 120.81 227.09 120.21 228.64 120.73 230.2 121.7 231.75 122.31 233.3 122.64 234.85 122.51 236.4 122.73 237.95 122.33 239.5 122.56 241.05 122.73 242.6 122.17 244.15 122.27 245.7 121.46 247.26 120.61 248.81 119.8 250.36 119.88 251.91 119.38 253.46 119.13 255.01 118.85 256.56 118.36 258.11 118.35 259.66 118.11 261.21 117.32 262.77 116.78 264.32 119.72 265.87 119.61 267.42 118.21 268.97 116.08 270.52 116.39 272.07 115.66 273.62 115.78 275.17 116.16 276.72 116.01 278.27 116 279.83 116.43 281.38 115.35 282.93 115.45 284.48 115.79 286.03 115.98 287.58 115.21 289.13 116.17 290.68 117.86 292.23 118.38 293.78 118.41 295.33 118.42 296.89 118.06 298.44 119.25 299.99 120.15 301.54 120.81 303.09 120.82 304.64 120.47 306.19 120.29 307.74 120.44 309.29 120.2 310.84 120.68 312.4 120.18 313.95 120.03 315.5 120.56 317.05 120.44 318.6 120.2 320.15 120.39 321.7 121.45 323.25 121.97 324.8 121.49 326.35 122.1 327.9 122.17 329.46 123 331.01 123 332.56 122.98 334.11 123.02 335.66 123.43 337.21 124.37 338.76 123.81 340.31 124.11 341.86 123.27 343.41 123.17 344.96 122.49 346.52 122.7 348.07 121.88 349.62 122.64 351.17 122.59 352.72 121.85 354.27 121.54 355.82 120.91 357.37 121.43 358.92 121.13 360.47 124.98 362.03 123.98 363.58 122.29 365.13 120.67 366.68 121.44 368.23 121.46 369.78 121.74 371.33 122.22 372.88 122.46 374.43 121.82 375.98 122.17 377.53 122.46 379.09 122.55 380.64 121.74 382.19 122.07 383.74 122.11 385.29 122.77 386.84 122.74 388.39 122.89 389.94 123.2 391.49 123.54 393.04 123.68 394.59 123.23 396.15 123.14 397.7 124.02 399.25 124.44 400.8 124.42 402.35 125.31 403.9 124.76 405.45 125.4 407 124.73 408.55 124.56 410.1 125.04 411.66 125.29 413.21 126.04 414.76 125.78 416.31 125.46 417.86 126.19 419.41 126.76 420.96 126.01 422.51 125.02 424.06 124.89 425.61 126.52 427.16 126.44 428.72 127.62 430.27 128.34 431.82 128.8 433.37 130.07 434.92 130.2 436.47 130.99 438.02 130.58 439.57 129.9 441.12 128.48 442.67 127.75 444.22 127.65 445.78 126.99 447.33 126.47 448.88 126.97 450.43 127.14 451.98 127.44 453.53 127.29 455.08 127.49 456.63 130.74 458.18 131.5 459.73 129.3 461.29 127.73 462.84 127.15 464.39 126.71 465.94 126.47 467.49 126.54 469.04 125.58 470.59 125.4 472.14 125.61 473.69 125.71 475.24 125.47 476.79 125.81 478.35 126.68 479.9 126.16 481.45 126.59 483 126.02 484.55 126.08 486.1 126.9 487.65 127.33 489.2 127.19 490.75 127.01 492.3 128.05 493.85 126.73 495.41 127.42 496.96 127 498.51 126.26 500.06 127.33 501.61 127.07 503.16 127.59 504.71 127.49 506.26 128.21 507.81 128.36 509.36 129.14 510.92 128.79 512.47 128.63 514.02 128.07 515.57 129.11 517.12 129.48 518.67 129.55 520.22 129.5 521.77 130.01 523.32 130.11 524.87 130.32 526.42 130.36 527.98 131.6 529.53 131.36 531.08 131.04 532.63 130.31 534.18 131.03 535.73 131.34 537.28 131.43 538.83 131.69 540.38 131.94 541.93 131.11 543.48 130.18 545.04 129.38 546.59 130.25 548.14 129.84 549.69 130.26 551.24 129.91" stroke="#ff0000" stroke-width="3.3" fill="none" stroke-linejoin="round" stroke-dasharray="10.6 4.3"/>
<path d="M72 140.91 73.55 139.97 75.1 139.59 76.65 138.76 78.2 138.38 79.75 138.94 81.31 138.15 82.86 137.84 84.41 136.81 85.96 136 87.51 136.14 89.06 135.3 90.61 134.67 92.16 134.77 93.71 134.29 95.26 134.35 96.81 133.57 98.37 133.71 99.92 132.13 101.47 131.61 103.02 130.89 104.57 130.96 106.12 130.05 107.67 130.43 109.22 129.57 110.77 129.74 112.32 129.2 113.88 129.02 115.43 128.67 116.98 127.41 118.53 126.73 120.08 126.32 121.63 125.55 123.18 125.33 124.73 124.93 126.28 123.79 127.83 122.25 129.38 121.92 130.94 122.15 132.49 121.32 134.04 120.56 135.59 119.93 137.14 120.05 138.69 121.02 140.24 120.27 141.79 121.16 143.34 121.28 144.89 120.47 146.44 120.45 148 119.56 149.55 118.58 151.1 117.92 152.65 116.8 154.2 116.63 155.75 115.74 157.3 116.13 158.85 115.5 160.4 114.44 161.95 113.66 163.51 112.45 165.06 112.11 166.61 111.62 168.16 113.39 169.71 112.95 171.26 110.52 172.81 108.72 174.36 107.74 175.91 107.03 177.46 106.73 179.01 106.73 180.57 106.45 182.12 105.98 183.67 105.28 185.22 104.4 186.77 103.39 188.32 103.46 189.87 102.92 191.42 103.35 192.97 105.01 194.52 104.39 196.07 105.41 197.63 105.22 199.18 105.56 200.73 105.58 202.28 105.77 203.83 106.1 205.38 106.01 206.93 106.45 208.48 105.59 210.03 105.63 211.58 104.91 213.14 104.17 214.69 103.98 216.24 103.1 217.79 103.67 219.34 104.09 220.89 103.99 222.44 103.62 223.99 104.43 225.54 104.83 227.09 105.48 228.64 104.7 230.2 104.45 231.75 104.29 233.3 104.69 234.85 104.19 236.4 105.23 237.95 105.56 239.5 106.32 241.05 106.61 242.6 105.24 244.15 104.25 245.7 104.09 247.26 103.64 248.81 103.94 250.36 102.49 251.91 102.61 253.46 101.44 255.01 100.88 256.56 99.74 258.11 98.84 259.66 98.83 261.21 99.29 262.77 98.85 264.32 101.86 265.87 102.36 267.42 98.73 268.97 97.54 270.52 97.86 272.07 97.33 273.62 97.17 275.17 97.5 276.72 97.09 278.27 96.05 279.83 95.93 281.38 95.05 282.93 95.39 284.48 95.51 286.03 95.53 287.58 96.8 289.13 97.6 290.68 97.7 292.23 97.96 293.78 98.24 295.33 98.89 296.89 98.78 298.44 99.36 299.99 98.77 301.54 99.4 303.09 98.25 304.64 99.04 306.19 98.89 307.74 99.01 309.29 98.53 310.84 97.92 312.4 97.85 313.95 98.11 315.5 98.28 317.05 99.12 318.6 98.54 320.15 98.47 321.7 98.1 323.25 98.34 324.8 98.86 326.35 99.46 327.9 99.28 329.46 98.73 331.01 99.02 332.56 99.65 334.11 100.23 335.66 100.95 337.21 101.57 338.76 101.18 340.31 100.77 341.86 100.35 343.41 100.36 344.96 100.78 346.52 100.02 348.07 99.93 349.62 98.54 351.17 98.12 352.72 97.92 354.27 97.44 355.82 97.26 357.37 97.38 358.92 97.05 360.47 100.52 362.03 100.17 363.58 97.77 365.13 95.37 366.68 94.88 368.23 94.52 369.78 94.8 371.33 94.17 372.88 93.7 374.43 93.3 375.98 93.72 377.53 93.33 379.09 92.76 380.64 92.25 382.19 92.75 383.74 94.6 385.29 95.17 386.84 96.77 388.39 97.75 389.94 97.5 391.49 97.95 393.04 98.69 394.59 97.88 396.15 97.92 397.7 99.31 399.25 99.09 400.8 99.14 402.35 99.55 403.9 98.88 405.45 98.39 407 98 408.55 98.84 410.1 98.32 411.66 96.96 413.21 97.44 414.76 97.57 416.31 97.91 417.86 98.22 419.41 98.26 420.96 98.79 422.51 97.86 424.06 98.01 425.61 98.16 427.16 98.17 428.72 98.5 430.27 99.45 431.82 100.21 433.37 100.55 434.92 101.32 436.47 100.42 438.02 100.65 439.57 100.68 441.12 99.63 442.67 99.27 444.22 99.03 445.78 97.53 447.33 97.02 448.88 97.36 450.43 97.82 451.98 98.54 453.53 98.22 455.08 96.75 456.63 99.12 458.18 98.33 459.73 96.08 461.29 94.52 462.84 94.11 464.39 93.88 465.94 94.16 467.49 94.5 469.04 94.84 470.59 94.08 472.14 94.33 473.69 93.37 475.24 93.33 476.79 93.68 478.35 93.65 479.9 93.39 481.45 94.19 483 95.34 484.55 96.7 486.1 97.98 487.65 97.66 489.2 97.66 490.75 98.25 492.3 98.33 493.85 98.14 495.41 97.98 496.96 98 498.51 97.2 500.06 97.42 501.61 96.64 503.16 96.12 504.71 96.23 506.26 96.49 507.81 96.22 509.36 96.8 510.92 97.4 512.47 98.19 514.02 99.45 515.57 99.23 517.12 98.82 518.67 98.43 520.22 98.92 521.77 98.35 523.32 98.42 524.87 98.15 526.42 99.51 527.98 100.27 529.53 100.48 531.08 101.14 532.63 100.9 534.18 100.42 535.73 99.62 537.28 100.08 538.83 99.41 540.38 98.97 541.93 98.63 543.48 97.97 545.04 97.07 546.59 97.13 548.14 97.07 549.69 97.04 551.24 97.07" stroke="#0000ff" stroke-width="3.3" fill="none" stroke-linejoin="round" stroke-dasharray="10.6 4.3"/>
<path d="M72 138.44 73.55 137.85 75.1 136.16 76.65 135.02 78.2 133.18 79.75 133.59 81.31 132.63 82.86 132.61 84.41 132.3 85.96 133.36 87.51 132.98 89.06 132.03 90.61 131.73 92.16 131.28 93.71 131.52 95.26 132.31 96.81 132.31 98.37 133.64 99.92 133.33 101.47 134.32 103.02 135.48 104.57 135.75 106.12 136.48 107.67 136.04 109.22 136.16 110.77 135.35 112.32 136.08 113.88 134.24 115.43 134.51 116.98 134.23 118.53 135.19 120.08 134.92 121.63 135.35 123.18 135.99 124.73 135.8 126.28 136.3 127.83 137 129.38 137.04 130.94 137.05 132.49 137.49 134.04 138.87 135.59 138.43 137.14 139.19 138.69 138.21 140.24 138.3 141.79 138.94 143.34 139.78 144.89 139.79 146.44 140.15 148 139.5 149.55 139.14 151.1 139.74 152.65 139.72 154.2 139.51 155.75 138.61 157.3 139.64 158.85 139.97 160.4 139.22 161.95 139.04 163.51 137.94 165.06 138.19 166.61 137.91 168.16 140.89 169.71 139.6 171.26 137.23 172.81 135.2 174.36 136.07 175.91 135.76 177.46 136.71 179.01 136.62 180.57 135.88 182.12 136.47 183.67 136.73 185.22 136.39 186.77 135.29 188.32 136.06 189.87 136.66 191.42 136.96 192.97 136.49 194.52 136.03 196.07 135.7 197.63 135.46 199.18 135.88 200.73 137.22 202.28 138.27 203.83 138.12 205.38 137.97 206.93 138.71 208.48 138.99 210.03 139.51 211.58 139.39 213.14 139.21 214.69 140.02 216.24 139.39 217.79 139.91 219.34 139.43 220.89 139.71 222.44 139.65 223.99 139.8 225.54 139.66 227.09 140.68 228.64 140.57 230.2 140.59 231.75 140.77 233.3 142.03 234.85 141.83 236.4 141.59 237.95 141.4 239.5 142.17 241.05 142.42 242.6 142.6 244.15 143.12 245.7 144.33 247.26 144.38 248.81 144.73 250.36 144.16 251.91 144.08 253.46 143.8 255.01 143.27 256.56 142.86 258.11 141.49 259.66 141.74 261.21 140.93 262.77 139.91 264.32 143.12 265.87 142.87 267.42 140.17 268.97 138.58 270.52 138.59 272.07 138.02 273.62 137.46 275.17 137.23 276.72 136.99 278.27 136.72 279.83 137.38 281.38 138.17 282.93 136.65 284.48 136.78 286.03 136.49 287.58 136.33 289.13 136.89 290.68 137.42 292.23 137 293.78 137.65 295.33 138.07 296.89 137.72 298.44 138.25 299.99 138.27 301.54 137.89 303.09 137.65 304.64 138.04 306.19 137.98 307.74 139.14 309.29 138.85 310.84 138.35 312.4 138.91 313.95 138.37 315.5 138.28 317.05 138.1 318.6 138.31 320.15 138.25 321.7 139.54 323.25 139.14 324.8 139.14 326.35 139.5 327.9 140.43 329.46 139.86 331.01 139.47 332.56 140.33 334.11 140.07 335.66 139.75 337.21 139.36 338.76 139.64 340.31 139.51 341.86 137.76 343.41 138.39 344.96 138.68 346.52 138.5 348.07 137.71 349.62 137.86 351.17 136.27 352.72 137.41 354.27 136.82 355.82 136.24 357.37 136.27 358.92 136.69 360.47 138.78 362.03 138.2 363.58 135 365.13 132.84 366.68 132.94 368.23 133.75 369.78 133.11 371.33 132.5 372.88 132.21 374.43 132.03 375.98 131.74 377.53 131.85 379.09 131.61 380.64 131.88 382.19 132.33 383.74 134.11 385.29 133.73 386.84 135.07 388.39 135.08 389.94 135.28 391.49 135.7 393.04 136.21 394.59 135.56 396.15 135.11 397.7 135.32 399.25 135.49 400.8 135.39 402.35 135.47 403.9 135.33 405.45 134.86 407 135.23 408.55 136.12 410.1 136.25 411.66 135.59 413.21 135.46 414.76 135.17 416.31 134.61 417.86 134.58 419.41 134.68 420.96 135.88 422.51 136.2 424.06 135.78 425.61 136.17 427.16 136.82 428.72 136.88 430.27 137.62 431.82 137.62 433.37 138.64 434.92 139.66 436.47 139.02 438.02 138.86 439.57 138.61 441.12 138.34 442.67 138.34 444.22 137.12 445.78 136.86 447.33 136.55 448.88 133.96 450.43 134.69 451.98 134.67 453.53 135.31 455.08 135.2 456.63 138.89 458.18 139.05 459.73 136.63 461.29 135.44 462.84 135.08 464.39 133.96 465.94 133.98 467.49 134.16 469.04 134.83 470.59 134.52 472.14 134.54 473.69 134.84 475.24 135.14 476.79 133.82 478.35 133.98 479.9 133.6 481.45 134.26 483 134.95 484.55 134.97 486.1 134.17 487.65 133.84 489.2 134.62 490.75 134.53 492.3 133.91 493.85 134.26 495.41 134.3 496.96 133.56 498.51 133.8 500.06 133.37 501.61 133.83 503.16 134 504.71 134.35 506.26 133.27 507.81 134.07 509.36 134.33 510.92 135.66 512.47 135.71 514.02 135.9 515.57 135.19 517.12 134.28 518.67 134.1 520.22 134.51 521.77 133.63 523.32 134.52 524.87 135.28 526.42 135.1 527.98 136.36 529.53 135.36 531.08 135.12 532.63 134.12 534.18 133.81 535.73 133.85 537.28 132.8 538.83 132.83 540.38 131.81 541.93 131.34 543.48 131.67 545.04 131.47 546.59 131.36 548.14 130.17 549.69 130.98 551.24 129.92" stroke="#00ffff" stroke-width="3.3" fill="none" stroke-linejoin="round" stroke-dasharray="10.6 4.3"/>
<path d="M72 125.86 73.55 124.01 75.1 121.92 76.65 119.05 78.2 118.87 79.75 119.9 81.31 120.53 82.86 120.08 84.41 119.35 85.96 119.84 87.51 119.12 89.06 119.48 90.61 120.32 92.16 120.91 93.71 121.95 95.26 122.19 96.81 122.54 98.37 124.06 99.92 125.53 101.47 125.74 103.02 125.68 104.57 126.44 106.12 127.43 107.67 127.61 109.22 127.38 110.77 128.54 112.32 128.96 113.88 128.78 115.43 128.85 116.98 128.67 118.53 129.65 120.08 129.58 121.63 129.48 123.18 130.03 124.73 131.49 126.28 130.14 127.83 130.13 129.38 131.14 130.94 131.61 132.49 131.89 134.04 132.37 135.59 132.78 137.14 133.58 138.69 134.27 140.24 134.65 141.79 133.64 143.34 132.95 144.89 131.94 146.44 131.97 148 131.58 149.55 131.64 151.1 131.75 152.65 131.04 154.2 130.77 155.75 130.13 157.3 130.15 158.85 129.28 160.4 129.25 161.95 128.95 163.51 128.93 165.06 128.59 166.61 127.69 168.16 131.62 169.71 131.12 171.26 128.17 172.81 126.75 174.36 126.06 175.91 125.4 177.46 125.87 179.01 125.79 180.57 124.98 182.12 124.79 183.67 125.09 185.22 124.87 186.77 125.15 188.32 125.16 189.87 125.57 191.42 126.27 192.97 126.42 194.52 126.37 196.07 126.45 197.63 126.95 199.18 127.19 200.73 127.77 202.28 128.23 203.83 128.63 205.38 128.41 206.93 128.33 208.48 128.22 210.03 126.18 211.58 125.45 213.14 125.62 214.69 125.81 216.24 125.84 217.79 125.13 219.34 125.17 220.89 125.04 222.44 125.95 223.99 126.08 225.54 125.42 227.09 125.78 228.64 125.77 230.2 126.4 231.75 126.15 233.3 125.96 234.85 125.93 236.4 126.86 237.95 127.16 239.5 127.84 241.05 128.46 242.6 128.44 244.15 128.76 245.7 128.59 247.26 128.81 248.81 128.36 250.36 127.68 251.91 127.87 253.46 127.12 255.01 127.32 256.56 126.79 258.11 125.72 259.66 125.98 261.21 125.54 262.77 125.37 264.32 128.6 265.87 128.02 267.42 125.1 268.97 123.93 270.52 123.22 272.07 122.66 273.62 121.66 275.17 121.76 276.72 121.7 278.27 120.16 279.83 119.21 281.38 118.95 282.93 118.94 284.48 119.34 286.03 119.97 287.58 121.35 289.13 122.32 290.68 122.23 292.23 123.15 293.78 123.39 295.33 123.03 296.89 122.42 298.44 122.54 299.99 122.15 301.54 121.13 303.09 121.6 304.64 121.49 306.19 121.44 307.74 121.09 309.29 121.1 310.84 121.26 312.4 122.01 313.95 122.53 315.5 122.54 317.05 124.51 318.6 124.4 320.15 124.03 321.7 124.66 323.25 124.1 324.8 123.89 326.35 124.39 327.9 123.9 329.46 124.39 331.01 125.08 332.56 125.8 334.11 126.56 335.66 127.17 337.21 129.11 338.76 129.35 340.31 128.68 341.86 128.29 343.41 127.98 344.96 127.74 346.52 127.85 348.07 127.59 349.62 127.89 351.17 127.8 352.72 126.77 354.27 127.78 355.82 127.88 357.37 127.22 358.92 125.83 360.47 128.6 362.03 127.57 363.58 124.9 365.13 123.5 366.68 123.34 368.23 123.73 369.78 124.04 371.33 123.55 372.88 123.4 374.43 123.05 375.98 122.59 377.53 122.16 379.09 121.4 380.64 121.35 382.19 121.12 383.74 121.98 385.29 123.34 386.84 124.1 388.39 124.71 389.94 125.76 391.49 125.77 393.04 125.57 394.59 126.16 396.15 126.25 397.7 125.88 399.25 126.04 400.8 125.67 402.35 125.13 403.9 124.87 405.45 124.84 407 124.69 408.55 125.32 410.1 125.83 411.66 125.99 413.21 126.52 414.76 126.85 416.31 127.53 417.86 128.56 419.41 127.95 420.96 128.75 422.51 128.83 424.06 128.99 425.61 129.56 427.16 131.35 428.72 131.66 430.27 133.07 431.82 133.08 433.37 132.1 434.92 131.79 436.47 131.95 438.02 131.79 439.57 130.7 441.12 130.24 442.67 129.65 444.22 128.96 445.78 128.52 447.33 128.04 448.88 126.62 450.43 126.52 451.98 125.42 453.53 125.15 455.08 125.52 456.63 128.33 458.18 127.84 459.73 125.75 461.29 123.77 462.84 123.04 464.39 123.08 465.94 123.01 467.49 122.82 469.04 122.36 470.59 123.37 472.14 123.24 473.69 122.59 475.24 122.28 476.79 121.91 478.35 121.52 479.9 121.72 481.45 123.25 483 124.14 484.55 125.32 486.1 126.44 487.65 126.17 489.2 128.08 490.75 127.68 492.3 127.57 493.85 127.73 495.41 126.94 496.96 126.08 498.51 126.74 500.06 126.1 501.61 126.36 503.16 125.89 504.71 126.8 506.26 126.65 507.81 126.11 509.36 125.81 510.92 126.17 512.47 126.06 514.02 126.79 515.57 127.09 517.12 128.06 518.67 128.54 520.22 128.81 521.77 130.25 523.32 130.09 524.87 130.72 526.42 131.18 527.98 131.22 529.53 131.28 531.08 132.52 532.63 132.01 534.18 132.38 535.73 132.35 537.28 132.88 538.83 133.01 540.38 131.4 541.93 130.74 543.48 130.44 545.04 129.07 546.59 128.25 548.14 128.12 549.69 127.98 551.24 128.16" stroke="#fa7410" stroke-width="3.3" fill="none" stroke-linejoin="round" stroke-dasharray="10.6 4.3"/>
<path d="M72 147.87 73.55 144.18 75.1 140.05 76.65 139.34 78.2 139.69 79.75 139.58 81.31 139.33 82.86 139.35 84.41 139.23 85.96 139.14 87.51 139.26 89.06 139.56 90.61 140.04 92.16 140.25 93.71 140.05 95.26 140.02 96.81 140.58 98.37 141.3 99.92 142.45 101.47 143.02 103.02 143.16 104.57 143.9 106.12 144.25 107.67 144.14 109.22 143.6 110.77 143.56 112.32 143.74 113.88 143.75 115.43 143.34 116.98 143.07 118.53 143.57 120.08 142.74 121.63 143.24 123.18 143.06 124.73 143.84 126.28 144.19 127.83 144.54 129.38 144.74 130.94 145.48 132.49 145.53 134.04 145.45 135.59 145.02 137.14 145.42 138.69 145.68 140.24 145.67 141.79 145.02 143.34 144.81 144.89 144.59 146.44 144.12 148 144.27 149.55 143.82 151.1 142.69 152.65 142.03 154.2 142.38 155.75 141.89 157.3 141.5 158.85 140.75 160.4 140.29 161.95 139.8 163.51 139.05 165.06 138.31 166.61 138.03 168.16 141.22 169.71 140.61 171.26 138.25 172.81 136.29 174.36 136.85 175.91 136.05 177.46 136.66 179.01 136.11 180.57 135.76 182.12 135.3 183.67 135.05 185.22 134.96 186.77 134.61 188.32 134.3 189.87 134.15 191.42 134.01 192.97 134.38 194.52 135.17 196.07 134.95 197.63 135.3 199.18 135.53 200.73 135.47 202.28 135.28 203.83 135.08 205.38 134.99 206.93 134.9 208.48 135.58 210.03 136.1 211.58 135.73 213.14 135.99 214.69 134.93 216.24 135.31 217.79 134.75 219.34 134.75 220.89 134.81 222.44 135.29 223.99 135.98 225.54 136.09 227.09 136.65 228.64 136.9 230.2 136.88 231.75 136.63 233.3 136.33 234.85 136.5 236.4 137.15 237.95 137.68 239.5 137.99 241.05 137.61 242.6 137.22 244.15 137.54 245.7 137.11 247.26 136.97 248.81 136.22 250.36 135.77 251.91 135.5 253.46 135.17 255.01 135.11 256.56 134.34 258.11 134.46 259.66 134.44 261.21 134.05 262.77 133.56 264.32 137.02 265.87 136.85 267.42 134.11 268.97 132.92 270.52 132.17 272.07 131.88 273.62 132.16 275.17 131.76 276.72 130.95 278.27 131.21 279.83 130.11 281.38 130.07 282.93 129.58 284.48 129.83 286.03 129.82 287.58 130.89 289.13 131.63 290.68 132.68 292.23 132.69 293.78 132.63 295.33 133.13 296.89 133.63 298.44 133.25 299.99 133.21 301.54 133.2 303.09 133.51 304.64 133.23 306.19 132.96 307.74 132.97 309.29 132.92 310.84 132.47 312.4 132.42 313.95 132.47 315.5 132.43 317.05 132.51 318.6 132.34 320.15 132.54 321.7 132.98 323.25 132.91 324.8 133.2 326.35 133.14 327.9 133.49 329.46 133.61 331.01 134.17 332.56 134.54 334.11 135.5 335.66 136.16 337.21 135.46 338.76 135.19 340.31 134.77 341.86 134.86 343.41 134.56 344.96 135 346.52 134.8 348.07 134.81 349.62 134.25 351.17 134.41 352.72 133.4 354.27 132.81 355.82 132.93 357.37 132.67 358.92 132.45 360.47 135.28 362.03 134.81 363.58 131.55 365.13 130.12 366.68 130.08 368.23 130.07 369.78 129.67 371.33 129.44 372.88 129.04 374.43 128.62 375.98 128.73 377.53 129.01 379.09 128.6 380.64 128.02 382.19 127.97 383.74 128.85 385.29 130.25 386.84 131.67 388.39 132.97 389.94 132.79 391.49 132.93 393.04 133.4 394.59 133.44 396.15 133.57 397.7 133.49 399.25 132.91 400.8 132.89 402.35 133.19 403.9 132.92 405.45 132.11 407 131.74 408.55 131.96 410.1 132.63 411.66 133.29 413.21 133.08 414.76 133.82 416.31 133.93 417.86 134.06 419.41 133.89 420.96 134.33 422.51 133.76 424.06 134 425.61 134.95 427.16 135.47 428.72 136.26 430.27 137.51 431.82 137.69 433.37 137.64 434.92 136.97 436.47 136.27 438.02 135.51 439.57 135.68 441.12 135.29 442.67 135.19 444.22 134.64 445.78 134.15 447.33 134 448.88 134.11 450.43 133.81 451.98 134.11 453.53 133.44 455.08 132.76 456.63 136.72 458.18 136.24 459.73 133.08 461.29 130.65 462.84 129.8 464.39 129.38 465.94 129.47 467.49 129.34 469.04 129.04 470.59 129.01 472.14 128.95 473.69 129.19 475.24 128.82 476.79 128.93 478.35 128.32 479.9 128.58 481.45 129.63 483 130.29 484.55 131.33 486.1 132.46 487.65 132.45 489.2 133.04 490.75 133.66 492.3 133.27 493.85 133.75 495.41 133.56 496.96 133.04 498.51 133.42 500.06 133 501.61 132.9 503.16 132.45 504.71 131.99 506.26 131.26 507.81 131.15 509.36 132.57 510.92 132.76 512.47 133.15 514.02 133.57 515.57 134.47 517.12 134.27 518.67 134.23 520.22 134.21 521.77 134.19 523.32 134.62 524.87 135.08 526.42 135.47 527.98 136.64 529.53 137.01 531.08 136.92 532.63 136.44 534.18 135.55 535.73 135.89 537.28 135.39 538.83 134.59 540.38 134.3 541.93 134.44 543.48 133.21 545.04 132.72 546.59 132.15 548.14 131.41 549.69 131.34 551.24 130.35" stroke="#000" stroke-width="4.2" fill="none" stroke-linejoin="round"/>
</g>
<path d="M168.16 285.5V38.3M264.32 285.5V38.3M360.47 285.5V38.3M456.63 285.5V38.3" stroke="#d3d3d3" stroke-width="3.7" stroke-dasharray="13.3 5.6" fill="none"/>
<path d="M72 38.3H568.3V285.5H72" stroke="#555555" stroke-width="1.2" fill="none"/>
<path d="M72 38.3V285.5" stroke="#9a9a9a" stroke-width="2.2" fill="none"/>
<path d="M68.8 285.5H72M68.8 236.06H72M68.8 186.62H72M68.8 137.18H72M68.8 87.74H72M68.8 38.3H72M70.4 275.61H72M70.4 265.72H72M70.4 255.84H72M70.4 245.95H72M70.4 226.17H72M70.4 216.28H72M70.4 206.4H72M70.4 196.51H72M70.4 176.73H72M70.4 166.84H72M70.4 156.96H72M70.4 147.07H72M70.4 127.29H72M70.4 117.4H72M70.4 107.52H72M70.4 97.63H72M70.4 77.85H72M70.4 67.96H72M70.4 58.08H72M70.4 48.19H72" stroke="#555555" stroke-width="1" fill="none"/>
<text x="65.1" y="290.3" font-size="13.2" text-anchor="end">9</text>
<text x="66.5" y="240.86" font-size="13.2" text-anchor="end">9.5</text>
<text x="66.1" y="191.42" font-size="13.2" text-anchor="end">10</text>
<text x="67.1" y="141.98" font-size="13.2" text-anchor="end">10.5</text>
<text x="65.9" y="92.54" font-size="13.2" text-anchor="end">11</text>
<text x="67.1" y="43.1" font-size="13.2" text-anchor="end">11.5</text>
<path d="M72 285.5V288.7M149.55 285.5V288.7M227.09 285.5V288.7M304.64 285.5V288.7M382.19 285.5V288.7M459.73 285.5V288.7M537.28 285.5V288.7M87.51 285.5V287.1M103.02 285.5V287.1M118.53 285.5V287.1M134.04 285.5V287.1M165.06 285.5V287.1M180.57 285.5V287.1M196.07 285.5V287.1M211.58 285.5V287.1M242.6 285.5V287.1M258.11 285.5V287.1M273.62 285.5V287.1M289.13 285.5V287.1M320.15 285.5V287.1M335.66 285.5V287.1M351.17 285.5V287.1M366.68 285.5V287.1M397.7 285.5V287.1M413.21 285.5V287.1M428.72 285.5V287.1M444.22 285.5V287.1M475.24 285.5V287.1M490.75 285.5V287.1M506.26 285.5V287.1M521.77 285.5V287.1M552.79 285.5V287.1M568.3 285.5V287.1" stroke="#555555" stroke-width="1" fill="none"/>
<text x="72" y="307" font-size="13.3" text-anchor="middle">1700</text>
<text x="149.55" y="307" font-size="13.3" text-anchor="middle">1750</text>
<text x="227.09" y="307" font-size="13.3" text-anchor="middle">1800</text>
<text x="304.64" y="307" font-size="13.3" text-anchor="middle">1850</text>
<text x="382.19" y="307" font-size="13.3" text-anchor="middle">1900</text>
<text x="459.73" y="307" font-size="13.3" text-anchor="middle">1950</text>
<text x="537.28" y="307" font-size="13.3" text-anchor="middle">2000</text>
<text x="320.15" y="30.2" font-size="17.8" text-anchor="middle">OMIP1 Global Mean Temperature 0-700m</text>
<text x="32.2" y="161.9" font-size="17.8" text-anchor="middle" transform="rotate(-90 32.2 161.9)">degC</text>
<clipPath id="c2"><rect x="901.7" y="37.8" width="496.2" height="247.1"/></clipPath>
<path d="M979.23 37.8V284.9M1056.76 37.8V284.9M1134.29 37.8V284.9M1211.83 37.8V284.9M1289.36 37.8V284.9M1366.89 37.8V284.9M901.7 243.72H1397.9M901.7 202.53H1397.9M901.7 161.35H1397.9M901.7 120.17H1397.9M901.7 78.98H1397.9" stroke="#ebebeb" stroke-width="1" fill="none"/>
<g clip-path="url(#c2)">
<path d="M901.7 171.91 903.25 171.48 904.8 171.17 906.35 171.9 907.9 173.84 909.45 174.93 911 175.9 912.55 177.18 914.11 178.5 915.66 180.1 917.21 181.13 918.76 182.81 920.31 183.43 921.86 184.51 923.41 185.41 924.96 186.73 926.51 188.96 928.06 189.01 929.61 189.77 931.16 191.2 932.71 193.47 934.26 194.98 935.81 195.91 937.36 197.46 938.92 198.25 940.47 199.37 942.02 200.82 943.57 202.86 945.12 204.24 946.67 205.82 948.22 207.9 949.77 208.9 951.32 210.91 952.87 211.54 954.42 214.02 955.97 214.31 957.52 214.19 959.07 215.59 960.62 216.58 962.17 217.99 963.73 219.22 965.28 219.18 966.83 220.21 968.38 222.42 969.93 222.69 971.48 224.21 973.03 224.69 974.58 225.11 976.13 225.36 977.68 226.06 979.23 226.03 980.78 227.46 982.33 227.59 983.88 227.46 985.43 228.26 986.98 227.9 988.54 228.54 990.09 229.12 991.64 229.68 993.19 229.8 994.74 230.44 996.29 230.18 997.84 230.51 999.39 231.43 1000.94 231.72 1002.49 232.44 1004.04 231.39 1005.59 232.49 1007.14 233.36 1008.69 233.72 1010.24 234.73 1011.79 236.08 1013.35 236.4 1014.9 236.92 1016.45 236.85 1018 236.93 1019.55 237.48 1021.1 237.46 1022.65 238.17 1024.2 239.26 1025.75 239.63 1027.3 239.95 1028.85 240.07 1030.4 241.25 1031.95 241.65 1033.5 242.1 1035.05 242.72 1036.6 243.58 1038.15 243.31 1039.71 243.59 1041.26 244.7 1042.81 244.76 1044.36 245.43 1045.91 247.04 1047.46 246.34 1049.01 246.83 1050.56 247.53 1052.11 248.55 1053.66 248.59 1055.21 247.67 1056.76 247.06 1058.31 247.07 1059.86 246.28 1061.41 247.5 1062.97 246.72 1064.52 247.24 1066.07 247.17 1067.62 246.79 1069.17 246.65 1070.72 245.61 1072.27 245.44 1073.82 245.69 1075.37 245.57 1076.92 245.59 1078.47 245.5 1080.02 245.83 1081.57 245.01 1083.12 244.95 1084.67 245.23 1086.22 244.72 1087.78 244.19 1089.33 244.49 1090.88 244.62 1092.43 243.88 1093.98 243.23 1095.53 243.33 1097.08 243.55 1098.63 242.77 1100.18 242.15 1101.73 242.41 1103.28 244.12 1104.83 243.87 1106.38 243.75 1107.93 243.61 1109.48 244.66 1111.03 244.77 1112.59 244.26 1114.14 244.25 1115.69 244.45 1117.24 245.1 1118.79 245.85 1120.34 246.82 1121.89 246.72 1123.44 247.56 1124.99 247.27 1126.54 248.2 1128.09 248.68 1129.64 249.29 1131.19 248.94 1132.74 249.19 1134.29 249.84 1135.84 251.14 1137.39 251.58 1138.95 252.27 1140.5 252.56 1142.05 253.24 1143.6 253.29 1145.15 254.22 1146.7 254.37 1148.25 254.38 1149.8 255.24 1151.35 255.87 1152.9 255.39 1154.45 255.5 1156 254.53 1157.55 254.61 1159.1 253.49 1160.65 253.83 1162.21 253.08 1163.76 253.15 1165.31 253.17 1166.86 252.87 1168.41 251.82 1169.96 251.61 1171.51 251.53 1173.06 251.66 1174.61 251.28 1176.16 250.89 1177.71 251.37 1179.26 250.91 1180.81 250.81 1182.36 248.96 1183.91 248.25 1185.46 248 1187.02 247.5 1188.57 247.07 1190.12 247.38 1191.67 247.74 1193.22 247.16 1194.77 246.61 1196.32 246.34 1197.87 246.56 1199.42 248.26 1200.97 248.21 1202.52 248.22 1204.07 248.59 1205.62 249.75 1207.17 249.75 1208.72 250.81 1210.27 250.69 1211.83 250.44 1213.38 250.5 1214.93 250.64 1216.48 250.73 1218.03 250.56 1219.58 251.37 1221.13 252.17 1222.68 252.4 1224.23 252.23 1225.78 252.88 1227.33 253.13 1228.88 253.18 1230.43 253.83 1231.98 254.63 1233.53 254.28 1235.08 254 1236.64 254.91 1238.19 255.06 1239.74 256.1 1241.29 256.26 1242.84 256.26 1244.39 255.89 1245.94 255.59 1247.49 256.39 1249.04 256.07 1250.59 255.36 1252.14 254.71 1253.69 254.32 1255.24 253.63 1256.79 253.4 1258.34 252.87 1259.89 253.2 1261.45 252.91 1263 252.06 1264.55 251.42 1266.1 251.81 1267.65 251.65 1269.2 251.31 1270.75 250.02 1272.3 249.73 1273.85 249.23 1275.4 249.2 1276.95 249.2 1278.5 249.16 1280.05 249.05 1281.6 247.57 1283.15 247.8 1284.7 246.82 1286.26 247.19 1287.81 247.96 1289.36 247.2 1290.91 247.65 1292.46 247.92 1294.01 248.15 1295.56 248.71 1297.11 249.03 1298.66 248.07 1300.21 248.68 1301.76 249.13 1303.31 249.93 1304.86 251.14 1306.41 251.86 1307.96 252.03 1309.51 252.24 1311.07 252.64 1312.62 251.59 1314.17 251.86 1315.72 253.07 1317.27 253.85 1318.82 254.49 1320.37 254.77 1321.92 255.48 1323.47 255.67 1325.02 256.03 1326.57 255.62 1328.12 255.61 1329.67 256.07 1331.22 256.17 1332.77 257.69 1334.32 258.14 1335.88 258.21 1337.43 259.07 1338.98 259.54 1340.53 258.91 1342.08 259.39 1343.63 259.43 1345.18 259.43 1346.73 259.37 1348.28 258.35 1349.83 257.88 1351.38 257.63 1352.93 258.21 1354.48 258.39 1356.03 258.41 1357.58 258.57 1359.13 257.12 1360.69 255.83 1362.24 255.87 1363.79 255.57 1365.34 255.92 1366.89 256.26 1368.44 255.81 1369.99 255.07 1371.54 254.52 1373.09 254.86 1374.64 255 1376.19 254.74 1377.74 253.53 1379.29 254.1 1380.84 253.37" stroke="#ff0000" stroke-width="2.4" fill="none" stroke-linejoin="round"/>
<path d="M901.7 156.92 903.25 157.15 904.8 157.57 906.35 158.51 907.9 159.13 909.45 160.98 911 161.44 912.55 161.67 914.11 162.22 915.66 161.71 917.21 161.14 918.76 161.63 920.31 162.11 921.86 162.01 923.41 162.69 924.96 163.64 926.51 163.44 928.06 163.79 929.61 164.34 931.16 164.91 932.71 165.68 934.26 166.14 935.81 166.96 937.36 166.62 938.92 166.61 940.47 167.31 942.02 167.29 943.57 167.35 945.12 167.74 946.67 168.32 948.22 168.54 949.77 169.34 951.32 170.37 952.87 169.75 954.42 169.34 955.97 170.64 957.52 170.91 959.07 172.27 960.62 173.9 962.17 173.72 963.73 173.69 965.28 173.98 966.83 174.34 968.38 174.54 969.93 174.4 971.48 175.02 973.03 174.44 974.58 175.44 976.13 176.41 977.68 177.84 979.23 178.49 980.78 178.88 982.33 178.44 983.88 178.74 985.43 179.25 986.98 179.73 988.54 179.67 990.09 180.24 991.64 180.42 993.19 179.66 994.74 178.4 996.29 178.25 997.84 177.9 999.39 177.38 1000.94 177.12 1002.49 177.56 1004.04 178.49 1005.59 178.59 1007.14 178.11 1008.69 178.79 1010.24 179.95 1011.79 179.96 1013.35 180.79 1014.9 181.43 1016.45 181.89 1018 182.59 1019.55 182.64 1021.1 183.35 1022.65 184.59 1024.2 184.69 1025.75 184.43 1027.3 185.57 1028.85 185.14 1030.4 186.37 1031.95 186.53 1033.5 187 1035.05 187.36 1036.6 187.65 1038.15 188.49 1039.71 188.66 1041.26 188.61 1042.81 189.16 1044.36 188.79 1045.91 189.36 1047.46 189.11 1049.01 189.88 1050.56 190.78 1052.11 191.41 1053.66 191.29 1055.21 189.9 1056.76 190 1058.31 190.78 1059.86 190.33 1061.41 190.53 1062.97 190.14 1064.52 190.95 1066.07 189.78 1067.62 189.79 1069.17 189.86 1070.72 190.3 1072.27 190.35 1073.82 190.44 1075.37 189.39 1076.92 190.68 1078.47 190.65 1080.02 190.26 1081.57 190.82 1083.12 189.95 1084.67 190.02 1086.22 190.29 1087.78 190.29 1089.33 190 1090.88 189.41 1092.43 188.42 1093.98 187.72 1095.53 186.35 1097.08 186.83 1098.63 187.5 1100.18 187.71 1101.73 187.13 1103.28 188.08 1104.83 188.79 1106.38 188.44 1107.93 188.62 1109.48 189.07 1111.03 189.68 1112.59 189.65 1114.14 189.52 1115.69 189.66 1117.24 189.64 1118.79 191 1120.34 191.98 1121.89 190.96 1123.44 191.21 1124.99 192.36 1126.54 193.1 1128.09 193.92 1129.64 194.22 1131.19 194.17 1132.74 194.19 1134.29 194.81 1135.84 194.89 1137.39 194.13 1138.95 194.59 1140.5 194.14 1142.05 195.15 1143.6 195.66 1145.15 195.88 1146.7 195.79 1148.25 194.66 1149.8 194.41 1151.35 194.09 1152.9 194.08 1154.45 193.82 1156 193.71 1157.55 193.54 1159.1 192.59 1160.65 192.11 1162.21 192.82 1163.76 192.3 1165.31 192.23 1166.86 192.56 1168.41 192.19 1169.96 193.02 1171.51 192.08 1173.06 191.59 1174.61 190.61 1176.16 191.23 1177.71 190.99 1179.26 191.15 1180.81 191.09 1182.36 191.82 1183.91 191.31 1185.46 190.47 1187.02 189.85 1188.57 189.94 1190.12 188.04 1191.67 187.26 1193.22 186.59 1194.77 186.68 1196.32 187.81 1197.87 187.61 1199.42 187.77 1200.97 188.51 1202.52 187.98 1204.07 188.51 1205.62 188.32 1207.17 188.93 1208.72 189.09 1210.27 189.93 1211.83 190.03 1213.38 190.43 1214.93 191.2 1216.48 191.15 1218.03 191.88 1219.58 192.17 1221.13 192.56 1222.68 192.18 1224.23 192.48 1225.78 192.61 1227.33 193.02 1228.88 193.49 1230.43 193.79 1231.98 193.86 1233.53 193.47 1235.08 193.46 1236.64 194.02 1238.19 193.74 1239.74 194.06 1241.29 194.48 1242.84 195.04 1244.39 195.12 1245.94 194.34 1247.49 194.62 1249.04 193.58 1250.59 193.45 1252.14 193.99 1253.69 193.56 1255.24 193.51 1256.79 194.28 1258.34 193.4 1259.89 192.76 1261.45 191.47 1263 191.93 1264.55 192.69 1266.1 192.6 1267.65 192.49 1269.2 193.71 1270.75 193.17 1272.3 192.76 1273.85 192.44 1275.4 191.71 1276.95 192.03 1278.5 192.41 1280.05 192.47 1281.6 192.32 1283.15 191.31 1284.7 190.52 1286.26 190.82 1287.81 188.98 1289.36 188.08 1290.91 188.37 1292.46 188.05 1294.01 188.06 1295.56 188.05 1297.11 188.27 1298.66 188.91 1300.21 189.81 1301.76 190.17 1303.31 190.73 1304.86 190.58 1306.41 189.54 1307.96 189.82 1309.51 189.62 1311.07 190.45 1312.62 191.21 1314.17 191.41 1315.72 191.89 1317.27 192.67 1318.82 193.55 1320.37 193.37 1321.92 194.17 1323.47 194.16 1325.02 194.93 1326.57 193.96 1328.12 194.49 1329.67 195.28 1331.22 195.17 1332.77 194.66 1334.32 195.08 1335.88 195.88 1337.43 196.81 1338.98 197.58 1340.53 197.6 1342.08 196.61 1343.63 196.07 1345.18 196.35 1346.73 196.58 1348.28 196.23 1349.83 196.79 1351.38 195.97 1352.93 195.68 1354.48 195.55 1356.03 195.22 1357.58 194.46 1359.13 193.93 1360.69 194.18 1362.24 194.44 1363.79 195.16 1365.34 194.74 1366.89 193.17 1368.44 192.74 1369.99 192.29 1371.54 192.26 1373.09 192.8 1374.64 192.97 1376.19 193.15 1377.74 192.5 1379.29 192.59 1380.84 192.79" stroke="#9400d3" stroke-width="2.4" fill="none" stroke-linejoin="round"/>
<path d="M901.7 155.86 903.25 153 904.8 150.47 906.35 148.04 907.9 144.78 909.45 144.77 911 143.72 912.55 141.84 914.11 141.17 915.66 141.37 917.21 141.34 918.76 140.93 920.31 140.5 921.86 141.61 923.41 141.46 924.96 142.63 926.51 143.64 928.06 143.04 929.61 143.63 931.16 143.08 932.71 144 934.26 144 935.81 142.85 937.36 142.8 938.92 143.13 940.47 143.73 942.02 144.77 943.57 143.91 945.12 144.4 946.67 146.25 948.22 145.86 949.77 145.62 951.32 145.99 952.87 145.67 954.42 146.59 955.97 146.96 957.52 147.54 959.07 148.04 960.62 148.82 962.17 148.21 963.73 148.26 965.28 147.24 966.83 147.97 968.38 148 969.93 148.14 971.48 147.83 973.03 147.78 974.58 148.34 976.13 148.22 977.68 148.33 979.23 148.27 980.78 148.38 982.33 148.95 983.88 148.72 985.43 148.82 986.98 148.9 988.54 149.25 990.09 149.74 991.64 149.87 993.19 150.11 994.74 150.68 996.29 150.3 997.84 150.91 999.39 152.27 1000.94 152.23 1002.49 152.51 1004.04 151.9 1005.59 152.05 1007.14 153.48 1008.69 153.6 1010.24 153.45 1011.79 153.52 1013.35 152.98 1014.9 152.78 1016.45 153.05 1018 153.64 1019.55 152.65 1021.1 154.21 1022.65 153.72 1024.2 153.66 1025.75 152.71 1027.3 152.72 1028.85 153.37 1030.4 154.05 1031.95 153.85 1033.5 153.78 1035.05 153.96 1036.6 155.34 1038.15 155.23 1039.71 155.95 1041.26 156.11 1042.81 156.92 1044.36 157.01 1045.91 156.58 1047.46 156.23 1049.01 157 1050.56 157.13 1052.11 157.36 1053.66 157.9 1055.21 157.67 1056.76 157.74 1058.31 157.17 1059.86 156.59 1061.41 156.26 1062.97 156.38 1064.52 157.5 1066.07 157.72 1067.62 157.71 1069.17 157.36 1070.72 157.64 1072.27 158.68 1073.82 159.08 1075.37 158.99 1076.92 158.87 1078.47 159.26 1080.02 159.23 1081.57 159.59 1083.12 159.76 1084.67 159.93 1086.22 159.26 1087.78 158.61 1089.33 159.48 1090.88 158.77 1092.43 158.4 1093.98 158.54 1095.53 158.93 1097.08 158.87 1098.63 159.41 1100.18 158.85 1101.73 158.7 1103.28 158.98 1104.83 159.89 1106.38 160.49 1107.93 160.56 1109.48 161.16 1111.03 161.32 1112.59 161.26 1114.14 161.06 1115.69 161.48 1117.24 161.38 1118.79 161.66 1120.34 161.46 1121.89 161.61 1123.44 161.93 1124.99 162.03 1126.54 162.57 1128.09 162.82 1129.64 162.89 1131.19 163.45 1132.74 162.87 1134.29 163.75 1135.84 163.02 1137.39 163.92 1138.95 164.59 1140.5 165.17 1142.05 165.08 1143.6 165.26 1145.15 165.46 1146.7 165.2 1148.25 165.1 1149.8 165.28 1151.35 165.13 1152.9 164.86 1154.45 164.84 1156 164.8 1157.55 165.33 1159.1 164.63 1160.65 164.3 1162.21 164.73 1163.76 164.41 1165.31 164.02 1166.86 164.24 1168.41 164.61 1169.96 165.21 1171.51 164.62 1173.06 164.6 1174.61 164.91 1176.16 165.24 1177.71 165.65 1179.26 165.68 1180.81 165.45 1182.36 164.87 1183.91 164.92 1185.46 165.88 1187.02 166.33 1188.57 166.21 1190.12 164.24 1191.67 162.82 1193.22 163 1194.77 162.34 1196.32 162.47 1197.87 163.29 1199.42 162.85 1200.97 163.93 1202.52 164.15 1204.07 165.68 1205.62 165.7 1207.17 166.15 1208.72 166.48 1210.27 167.38 1211.83 167.22 1213.38 167.54 1214.93 167.37 1216.48 166.73 1218.03 167.13 1219.58 167.5 1221.13 167.43 1222.68 167.34 1224.23 167.89 1225.78 168.22 1227.33 168.3 1228.88 169.78 1230.43 169.45 1231.98 169.89 1233.53 169.16 1235.08 170.05 1236.64 169.73 1238.19 169.44 1239.74 169.41 1241.29 169.58 1242.84 169.46 1244.39 168.97 1245.94 169 1247.49 168.58 1249.04 168.6 1250.59 168.54 1252.14 168.16 1253.69 168.37 1255.24 168.3 1256.79 168.13 1258.34 167.62 1259.89 166.61 1261.45 168.26 1263 168.71 1264.55 168.74 1266.1 169.26 1267.65 169.5 1269.2 169.7 1270.75 169.27 1272.3 169.17 1273.85 170.15 1275.4 171.05 1276.95 171.78 1278.5 171.13 1280.05 171.54 1281.6 172.52 1283.15 172.21 1284.7 171.98 1286.26 171 1287.81 169.01 1289.36 169.38 1290.91 169.86 1292.46 169.8 1294.01 169.56 1295.56 169.66 1297.11 170.14 1298.66 170.88 1300.21 170.94 1301.76 171.18 1303.31 171.32 1304.86 171.24 1306.41 171.18 1307.96 171.79 1309.51 172.09 1311.07 172.56 1312.62 173.96 1314.17 174.1 1315.72 173.29 1317.27 173.76 1318.82 173.93 1320.37 174.98 1321.92 175.02 1323.47 175.49 1325.02 175.57 1326.57 175.59 1328.12 174.5 1329.67 175.25 1331.22 176.15 1332.77 175.63 1334.32 176.35 1335.88 175.41 1337.43 175.61 1338.98 175.84 1340.53 176.27 1342.08 176.3 1343.63 175.57 1345.18 176.27 1346.73 175.02 1348.28 174.55 1349.83 174.25 1351.38 173.29 1352.93 173.1 1354.48 173.49 1356.03 174.53 1357.58 174.88 1359.13 174.67 1360.69 175.21 1362.24 174.24 1363.79 175.21 1365.34 176.08 1366.89 175.44 1368.44 175.99 1369.99 175.24 1371.54 175.4 1373.09 175.64 1374.64 176.03 1376.19 176.33 1377.74 177.05 1379.29 177.21 1380.84 176.95" stroke="#0000ff" stroke-width="2.4" fill="none" stroke-linejoin="round"/>
<path d="M901.7 178.77 903.25 176.57 904.8 175.14 906.35 172.83 907.9 170.03 909.45 166.91 911 163.4 912.55 160.59 914.11 156.62 915.66 154.77 917.21 152.82 918.76 151.33 920.31 150.58 921.86 150.46 923.41 149.72 924.96 149.49 926.51 148.61 928.06 146.93 929.61 146.04 931.16 144.65 932.71 144.84 934.26 143.11 935.81 142.36 937.36 140.93 938.92 140.89 940.47 141.19 942.02 141.01 943.57 140.82 945.12 140.7 946.67 139.66 948.22 138.85 949.77 138.32 951.32 138.15 952.87 137.57 954.42 136.57 955.97 136.73 957.52 135.97 959.07 135.96 960.62 135.21 962.17 134.08 963.73 134.18 965.28 134.2 966.83 133.59 968.38 132.81 969.93 131.73 971.48 132.26 973.03 131.09 974.58 131.49 976.13 133.17 977.68 133.54 979.23 133.2 980.78 133.23 982.33 132.49 983.88 132.17 985.43 130.35 986.98 130.31 988.54 128.94 990.09 128.91 991.64 129.37 993.19 129.34 994.74 128.61 996.29 127.88 997.84 126.99 999.39 125.98 1000.94 125.87 1002.49 125.87 1004.04 125.24 1005.59 125.29 1007.14 125.76 1008.69 125.23 1010.24 125.87 1011.79 126.42 1013.35 125.94 1014.9 126.1 1016.45 125.81 1018 124.69 1019.55 125.28 1021.1 125.44 1022.65 124.62 1024.2 124.42 1025.75 124.01 1027.3 124.53 1028.85 124.07 1030.4 124.34 1031.95 124.31 1033.5 123.3 1035.05 124 1036.6 123.96 1038.15 124.46 1039.71 125.38 1041.26 125.39 1042.81 125.05 1044.36 125.03 1045.91 124.71 1047.46 125.2 1049.01 125.66 1050.56 124.05 1052.11 124.01 1053.66 123.57 1055.21 123.43 1056.76 122.42 1058.31 122.34 1059.86 122.18 1061.41 120.76 1062.97 120.13 1064.52 119.68 1066.07 118.67 1067.62 118.34 1069.17 117.77 1070.72 118.09 1072.27 117.82 1073.82 119.02 1075.37 121 1076.92 121.01 1078.47 120.19 1080.02 118.88 1081.57 119.08 1083.12 118.76 1084.67 117.98 1086.22 116.97 1087.78 116.49 1089.33 115.65 1090.88 115.82 1092.43 115.02 1093.98 114.42 1095.53 114.53 1097.08 114.16 1098.63 114.55 1100.18 114.8 1101.73 114.64 1103.28 114.11 1104.83 113.95 1106.38 115.35 1107.93 116.11 1109.48 116.59 1111.03 115.69 1112.59 115.26 1114.14 115.08 1115.69 115.6 1117.24 114.54 1118.79 114.6 1120.34 114.18 1121.89 113.68 1123.44 114.63 1124.99 114.28 1126.54 114.8 1128.09 114.73 1129.64 113.97 1131.19 114.87 1132.74 114.86 1134.29 113.97 1135.84 115.35 1137.39 116.76 1138.95 116.21 1140.5 116.13 1142.05 116.05 1143.6 115.62 1145.15 116.1 1146.7 115.16 1148.25 114.94 1149.8 115.95 1151.35 115.93 1152.9 115.61 1154.45 115.49 1156 114.97 1157.55 114.19 1159.1 113.76 1160.65 112.87 1162.21 111.83 1163.76 112.11 1165.31 111.59 1166.86 111.78 1168.41 112.09 1169.96 113.08 1171.51 114.25 1173.06 114.09 1174.61 113.47 1176.16 113.09 1177.71 112.62 1179.26 112.63 1180.81 111.95 1182.36 112.39 1183.91 111.83 1185.46 111.7 1187.02 111.69 1188.57 111.14 1190.12 110.85 1191.67 109.96 1193.22 110.4 1194.77 110.79 1196.32 111.01 1197.87 110.72 1199.42 111.44 1200.97 110.8 1202.52 110.62 1204.07 109.92 1205.62 109.71 1207.17 109.53 1208.72 109.85 1210.27 110.12 1211.83 109.92 1213.38 110.06 1214.93 111.34 1216.48 111.8 1218.03 111.85 1219.58 112.4 1221.13 112.55 1222.68 112.23 1224.23 111.95 1225.78 112.41 1227.33 111.78 1228.88 112.32 1230.43 112.59 1231.98 113.45 1233.53 113.98 1235.08 113.48 1236.64 113.42 1238.19 114.22 1239.74 114 1241.29 113.07 1242.84 112.66 1244.39 112.59 1245.94 111.82 1247.49 111.15 1249.04 110.82 1250.59 110.25 1252.14 110.16 1253.69 110.27 1255.24 109.48 1256.79 109.11 1258.34 108.13 1259.89 108.06 1261.45 107.25 1263 108.47 1264.55 109.87 1266.1 110.49 1267.65 110.99 1269.2 111.28 1270.75 110.62 1272.3 109.42 1273.85 108.95 1275.4 109.53 1276.95 109.63 1278.5 109.37 1280.05 108.7 1281.6 108.59 1283.15 107.47 1284.7 108.04 1286.26 107.73 1287.81 106.83 1289.36 106.75 1290.91 106.05 1292.46 105.65 1294.01 106.07 1295.56 106.98 1297.11 107.59 1298.66 107.96 1300.21 107.62 1301.76 107.97 1303.31 108.89 1304.86 108.1 1306.41 107.65 1307.96 107.17 1309.51 107.32 1311.07 106.87 1312.62 107.85 1314.17 107.7 1315.72 107.55 1317.27 108.32 1318.82 109.33 1320.37 109.42 1321.92 108.58 1323.47 109.25 1325.02 109.95 1326.57 109.74 1328.12 110.44 1329.67 110.46 1331.22 110.88 1332.77 111.28 1334.32 110.82 1335.88 110.69 1337.43 110.88 1338.98 111.15 1340.53 110.5 1342.08 110.05 1343.63 110.13 1345.18 110.27 1346.73 108.88 1348.28 108.79 1349.83 109.25 1351.38 109.69 1352.93 108.36 1354.48 107.53 1356.03 107.11 1357.58 107.06 1359.13 107.3 1360.69 107.7 1362.24 107.97 1363.79 108.32 1365.34 108.09 1366.89 108.15 1368.44 108.69 1369.99 108.44 1371.54 108.04 1373.09 107.3 1374.64 107.11 1376.19 105.83 1377.74 106.12 1379.29 106.4 1380.84 105.98" stroke="#00ffff" stroke-width="2.4" fill="none" stroke-linejoin="round"/>
<path d="M901.7 159.64 903.25 160.47 904.8 160.89 906.35 160.42 907.9 160 909.45 159.46 911 159.4 912.55 159.52 914.11 159.04 915.66 159.36 917.21 158.91 918.76 158.84 920.31 157.44 921.86 158.42 923.41 157.79 924.96 157.97 926.51 157.15 928.06 158.09 929.61 157.39 931.16 156.13 932.71 155.75 934.26 155.97 935.81 155.45 937.36 156 938.92 155.8 940.47 154.48 942.02 154.12 943.57 154.03 945.12 154.22 946.67 154.25 948.22 153.88 949.77 153.28 951.32 153.15 952.87 153.67 954.42 153.28 955.97 152.78 957.52 152.75 959.07 153.66 960.62 153.53 962.17 152.2 963.73 152.94 965.28 153.22 966.83 152.92 968.38 152.28 969.93 152.45 971.48 150.91 973.03 151.92 974.58 151.7 976.13 151.72 977.68 152.29 979.23 152.19 980.78 151.77 982.33 151.08 983.88 151.5 985.43 151.04 986.98 151.18 988.54 150.87 990.09 151.35 991.64 150.94 993.19 151.69 994.74 150.63 996.29 150.6 997.84 150.08 999.39 150.31 1000.94 150.7 1002.49 150.39 1004.04 151.12 1005.59 151.26 1007.14 151.39 1008.69 150.89 1010.24 150.7 1011.79 150.72 1013.35 150.68 1014.9 149.87 1016.45 149.57 1018 150.31 1019.55 150.19 1021.1 150.76 1022.65 150.96 1024.2 151.48 1025.75 151.36 1027.3 150.91 1028.85 151.53 1030.4 151.88 1031.95 151.58 1033.5 151.29 1035.05 151.97 1036.6 151.27 1038.15 151.42 1039.71 151.67 1041.26 151.84 1042.81 152.15 1044.36 152.48 1045.91 151.91 1047.46 151.73 1049.01 152.16 1050.56 152.39 1052.11 152.32 1053.66 151.74 1055.21 151.68 1056.76 151.46 1058.31 151.69 1059.86 151.19 1061.41 150.91 1062.97 151.32 1064.52 151.86 1066.07 151.04 1067.62 150.66 1069.17 150.99 1070.72 149.43 1072.27 149.78 1073.82 149.75 1075.37 149.75 1076.92 149 1078.47 149.03 1080.02 148.42 1081.57 147.74 1083.12 148.37 1084.67 148.6 1086.22 148.02 1087.78 148.1 1089.33 146.91 1090.88 147.11 1092.43 147.54 1093.98 146.63 1095.53 145.51 1097.08 144.72 1098.63 144.61 1100.18 144.23 1101.73 144.32 1103.28 145.05 1104.83 145.44 1106.38 145.2 1107.93 145.54 1109.48 146.61 1111.03 146.6 1112.59 146.55 1114.14 146.52 1115.69 146.12 1117.24 145.76 1118.79 145.24 1120.34 146.57 1121.89 146.26 1123.44 145.61 1124.99 145.89 1126.54 146.74 1128.09 146.04 1129.64 145.48 1131.19 145.26 1132.74 146.02 1134.29 146.53 1135.84 147.47 1137.39 147.03 1138.95 146.88 1140.5 146.87 1142.05 147.06 1143.6 147.6 1145.15 147.37 1146.7 146.51 1148.25 146.5 1149.8 146.14 1151.35 146.53 1152.9 147.04 1154.45 146.87 1156 147.35 1157.55 147.58 1159.1 146.89 1160.65 146.04 1162.21 146.9 1163.76 146.46 1165.31 146.96 1166.86 146.06 1168.41 145.09 1169.96 145.22 1171.51 144.75 1173.06 144.6 1174.61 144.6 1176.16 145.54 1177.71 145.05 1179.26 145.84 1180.81 145 1182.36 144.59 1183.91 144.82 1185.46 145.27 1187.02 144.39 1188.57 144.2 1190.12 143.24 1191.67 143.13 1193.22 142.38 1194.77 142.17 1196.32 143.62 1197.87 144.23 1199.42 144.03 1200.97 143.74 1202.52 143.56 1204.07 143.25 1205.62 142.86 1207.17 142.97 1208.72 143.72 1210.27 144.21 1211.83 145.05 1213.38 144.73 1214.93 144.16 1216.48 144.6 1218.03 145.28 1219.58 144.16 1221.13 144.48 1222.68 145.23 1224.23 145.13 1225.78 144.26 1227.33 145.39 1228.88 144.37 1230.43 144.71 1231.98 145.72 1233.53 145.48 1235.08 146.67 1236.64 146.69 1238.19 146.33 1239.74 145.39 1241.29 146.1 1242.84 146.04 1244.39 146.49 1245.94 145.14 1247.49 145.67 1249.04 145.46 1250.59 144.61 1252.14 144.7 1253.69 144.15 1255.24 143.12 1256.79 143.21 1258.34 144 1259.89 142.34 1261.45 142.44 1263 142.78 1264.55 142.88 1266.1 143.79 1267.65 143.76 1269.2 144.23 1270.75 144.13 1272.3 144.56 1273.85 144.95 1275.4 144.76 1276.95 144.6 1278.5 144.93 1280.05 145.06 1281.6 144.38 1283.15 143.66 1284.7 143.79 1286.26 143.16 1287.81 141.56 1289.36 141.36 1290.91 141.37 1292.46 141.55 1294.01 140.91 1295.56 140.25 1297.11 141.1 1298.66 141.24 1300.21 141.45 1301.76 141.69 1303.31 142.08 1304.86 142.21 1306.41 141.82 1307.96 142.26 1309.51 142.22 1311.07 143.06 1312.62 142.94 1314.17 142.84 1315.72 142.47 1317.27 142.38 1318.82 142.98 1320.37 143.32 1321.92 143.84 1323.47 143.64 1325.02 144.03 1326.57 143.52 1328.12 144.24 1329.67 144.4 1331.22 144.51 1332.77 143.6 1334.32 145.14 1335.88 144.42 1337.43 144.47 1338.98 144.93 1340.53 144.13 1342.08 144.63 1343.63 144.87 1345.18 144.89 1346.73 143.77 1348.28 144.44 1349.83 144.91 1351.38 144.61 1352.93 144.6 1354.48 143.78 1356.03 143.4 1357.58 141.29 1359.13 141.65 1360.69 142.54 1362.24 142.15 1363.79 143.49 1365.34 142.84 1366.89 142.45 1368.44 142.74 1369.99 142.1 1371.54 142.01 1373.09 141.75 1374.64 141.59 1376.19 142.21 1377.74 140.86 1379.29 141.71 1380.84 141.09" stroke="#707000" stroke-width="2.4" fill="none" stroke-linejoin="round"/>
<path d="M901.7 150.87 903.25 150.56 904.8 150.97 906.35 150.76 907.9 150.25 909.45 149.78 911 149.11 912.55 148.68 914.11 149.3 915.66 150.33 917.21 150.23 918.76 150.09 920.31 150.44 921.86 151.2 923.41 151.87 924.96 153.12 926.51 152.68 928.06 153.18 929.61 153.21 931.16 152.84 932.71 153.55 934.26 153.42 935.81 153.31 937.36 153.68 938.92 153.3 940.47 153.66 942.02 153.97 943.57 154.04 945.12 153.51 946.67 153.37 948.22 154.42 949.77 154.03 951.32 153.66 952.87 154.29 954.42 154.61 955.97 154.28 957.52 153.69 959.07 153.21 960.62 152.17 962.17 152.12 963.73 152.88 965.28 152.98 966.83 153.01 968.38 153.13 969.93 153.28 971.48 153.73 973.03 153.46 974.58 153.58 976.13 153.7 977.68 152.93 979.23 152.78 980.78 152.66 982.33 152.38 983.88 153.04 985.43 153.11 986.98 152.79 988.54 152.63 990.09 152.47 991.64 153.39 993.19 153.88 994.74 154.37 996.29 155.34 997.84 155.04 999.39 153.82 1000.94 154.06 1002.49 153.85 1004.04 153.28 1005.59 153.2 1007.14 154.22 1008.69 154.71 1010.24 154.6 1011.79 155 1013.35 155.6 1014.9 155.4 1016.45 155.5 1018 154.79 1019.55 155.19 1021.1 155.19 1022.65 155.91 1024.2 156.05 1025.75 156.84 1027.3 156.5 1028.85 156.48 1030.4 156.71 1031.95 157.17 1033.5 157.49 1035.05 157.52 1036.6 157.17 1038.15 157.72 1039.71 158.39 1041.26 158.3 1042.81 157.38 1044.36 158.39 1045.91 158.5 1047.46 158.66 1049.01 158.07 1050.56 157.85 1052.11 158.1 1053.66 157.33 1055.21 157.3 1056.76 157.18 1058.31 157.55 1059.86 157.32 1061.41 156.76 1062.97 156.53 1064.52 156.76 1066.07 156.44 1067.62 154.96 1069.17 154.94 1070.72 154.84 1072.27 155.28 1073.82 155.49 1075.37 155.49 1076.92 156.11 1078.47 156.27 1080.02 156.14 1081.57 156.08 1083.12 156.25 1084.67 155.57 1086.22 155.53 1087.78 155.06 1089.33 154.85 1090.88 154.88 1092.43 155.54 1093.98 155.72 1095.53 155.79 1097.08 155.76 1098.63 155.29 1100.18 154.66 1101.73 155.62 1103.28 155.36 1104.83 155.66 1106.38 155.02 1107.93 155.89 1109.48 154.93 1111.03 154.69 1112.59 155.32 1114.14 156.67 1115.69 156.96 1117.24 157.54 1118.79 157.45 1120.34 158.55 1121.89 158.99 1123.44 159.34 1124.99 158.87 1126.54 159.33 1128.09 159.31 1129.64 159.54 1131.19 159.36 1132.74 158.8 1134.29 158.83 1135.84 159.3 1137.39 159.18 1138.95 159.36 1140.5 159.82 1142.05 159.58 1143.6 159.54 1145.15 159.35 1146.7 159.65 1148.25 160.41 1149.8 160 1151.35 158.81 1152.9 158.98 1154.45 158.61 1156 158.45 1157.55 157.91 1159.1 158.41 1160.65 157.55 1162.21 157.08 1163.76 157.73 1165.31 157.64 1166.86 157.83 1168.41 157.54 1169.96 156.86 1171.51 156.87 1173.06 156.92 1174.61 156.88 1176.16 156.89 1177.71 156.54 1179.26 156.49 1180.81 156.81 1182.36 157.3 1183.91 158.02 1185.46 157.03 1187.02 156.67 1188.57 156.77 1190.12 156.61 1191.67 156.77 1193.22 157.18 1194.77 157.06 1196.32 157.05 1197.87 157.1 1199.42 157.03 1200.97 157.86 1202.52 158.37 1204.07 158.56 1205.62 159.41 1207.17 159.57 1208.72 158.55 1210.27 158.69 1211.83 158.9 1213.38 158.94 1214.93 159.52 1216.48 159.71 1218.03 159.41 1219.58 159.59 1221.13 159.72 1222.68 160.28 1224.23 160.12 1225.78 160.13 1227.33 161.9 1228.88 161.65 1230.43 161 1231.98 161.58 1233.53 161.76 1235.08 162 1236.64 161.34 1238.19 160.79 1239.74 161.87 1241.29 161.53 1242.84 160.13 1244.39 160.08 1245.94 160.74 1247.49 161.06 1249.04 160.26 1250.59 159.47 1252.14 159.6 1253.69 158.7 1255.24 158.37 1256.79 158.53 1258.34 158.4 1259.89 157.69 1261.45 157.74 1263 158.11 1264.55 157.54 1266.1 157.34 1267.65 158.09 1269.2 157.26 1270.75 157.28 1272.3 158.13 1273.85 158.31 1275.4 158.87 1276.95 159.07 1278.5 158.98 1280.05 159.56 1281.6 159.46 1283.15 158.98 1284.7 157.62 1286.26 156.78 1287.81 157.4 1289.36 157.38 1290.91 157.39 1292.46 157.46 1294.01 157.99 1295.56 158.34 1297.11 158.37 1298.66 159.27 1300.21 159.36 1301.76 159.93 1303.31 158.67 1304.86 158.84 1306.41 160.16 1307.96 159.76 1309.51 159.82 1311.07 159.61 1312.62 159.77 1314.17 159.87 1315.72 159.39 1317.27 160.26 1318.82 161.42 1320.37 162.23 1321.92 162.08 1323.47 162 1325.02 162.44 1326.57 162.16 1328.12 162.95 1329.67 162.01 1331.22 162.28 1332.77 162.47 1334.32 162.81 1335.88 162.15 1337.43 161.97 1338.98 162.59 1340.53 161.93 1342.08 162.77 1343.63 162.99 1345.18 162.62 1346.73 161.16 1348.28 161.38 1349.83 160.97 1351.38 160.51 1352.93 159.95 1354.48 159.73 1356.03 160.12 1357.58 159.37 1359.13 160.38 1360.69 159.8 1362.24 158.86 1363.79 159.81 1365.34 158.78 1366.89 158.01 1368.44 157.86 1369.99 158.45 1371.54 158.47 1373.09 158.62 1374.64 158.69 1376.19 158.23 1377.74 159.12 1379.29 159.24 1380.84 159.54" stroke="#fa7410" stroke-width="2.4" fill="none" stroke-linejoin="round"/>
<path d="M901.7 172.99 903.25 171.66 904.8 171.32 906.35 170.45 907.9 169.62 909.45 169.62 911 168.7 912.55 168.44 914.11 167.4 915.66 167.81 917.21 167.32 918.76 166.56 920.31 165.82 921.86 164.62 923.41 164.04 924.96 162.65 926.51 162.09 928.06 160.61 929.61 161.04 931.16 160.62 932.71 160.2 934.26 159.84 935.81 160.41 937.36 160.65 938.92 160.25 940.47 160.59 942.02 160.43 943.57 159.55 945.12 159.22 946.67 159.14 948.22 158.15 949.77 157.88 951.32 157.91 952.87 157.09 954.42 156.93 955.97 156.85 957.52 156.63 959.07 156.62 960.62 156.45 962.17 156.44 963.73 155.95 965.28 155.15 966.83 154.52 968.38 153.91 969.93 154.19 971.48 153.17 973.03 153.24 974.58 153.29 976.13 153.44 977.68 153.59 979.23 153.36 980.78 152.69 982.33 151.95 983.88 151.77 985.43 152.07 986.98 152.74 988.54 153.11 990.09 153.22 991.64 153.58 993.19 152.96 994.74 151.47 996.29 150.8 997.84 150.81 999.39 150.37 1000.94 150.23 1002.49 149.7 1004.04 149.57 1005.59 149.42 1007.14 148.99 1008.69 148.93 1010.24 148.97 1011.79 148.85 1013.35 149.07 1014.9 148.83 1016.45 149.49 1018 149.37 1019.55 149.07 1021.1 149.2 1022.65 149.28 1024.2 149.6 1025.75 150.11 1027.3 151.04 1028.85 150.8 1030.4 150.5 1031.95 150.95 1033.5 150.18 1035.05 149.55 1036.6 150.47 1038.15 149.33 1039.71 149.86 1041.26 150.59 1042.81 151.04 1044.36 151.59 1045.91 151.64 1047.46 151.58 1049.01 150.73 1050.56 151.74 1052.11 151.94 1053.66 152.13 1055.21 151.69 1056.76 151 1058.31 151.47 1059.86 150.98 1061.41 150.95 1062.97 150.58 1064.52 149.57 1066.07 149.92 1067.62 150.49 1069.17 150.08 1070.72 149.74 1072.27 150.99 1073.82 150.98 1075.37 150.73 1076.92 151.05 1078.47 151.29 1080.02 151 1081.57 151.06 1083.12 151.49 1084.67 151.17 1086.22 150.35 1087.78 150.36 1089.33 150.57 1090.88 150.27 1092.43 150.28 1093.98 148.5 1095.53 147.14 1097.08 145.98 1098.63 145.72 1100.18 144.76 1101.73 145.38 1103.28 145.01 1104.83 145.49 1106.38 145.31 1107.93 146.48 1109.48 146.59 1111.03 146.3 1112.59 146.27 1114.14 145.87 1115.69 145.94 1117.24 146.71 1118.79 147.39 1120.34 147.66 1121.89 147.56 1123.44 147.5 1124.99 147.32 1126.54 147.82 1128.09 147.53 1129.64 147.06 1131.19 147.2 1132.74 146.96 1134.29 147.71 1135.84 148.18 1137.39 147.39 1138.95 147.12 1140.5 147.07 1142.05 147.14 1143.6 146.67 1145.15 146.64 1146.7 147.32 1148.25 147.43 1149.8 147.49 1151.35 147.72 1152.9 147.28 1154.45 147.61 1156 147.39 1157.55 148.51 1159.1 148.17 1160.65 146.85 1162.21 147.46 1163.76 146.31 1165.31 147.18 1166.86 146.93 1168.41 146.44 1169.96 146.89 1171.51 147.35 1173.06 147.23 1174.61 147.19 1176.16 146.45 1177.71 146.52 1179.26 146.73 1180.81 147.14 1182.36 147.35 1183.91 147 1185.46 147.26 1187.02 146.49 1188.57 145.55 1190.12 145.08 1191.67 144.74 1193.22 144.14 1194.77 144.49 1196.32 145.01 1197.87 144.43 1199.42 144.97 1200.97 145.47 1202.52 145.34 1204.07 145.22 1205.62 145.01 1207.17 144.77 1208.72 145.15 1210.27 144.91 1211.83 144.6 1213.38 144.66 1214.93 144.45 1216.48 145.48 1218.03 146.05 1219.58 145.87 1221.13 144.98 1222.68 145.15 1224.23 145.51 1225.78 145.64 1227.33 145.65 1228.88 145.62 1230.43 144.93 1231.98 144.33 1233.53 144.77 1235.08 144.55 1236.64 145.29 1238.19 145.92 1239.74 146.2 1241.29 146.49 1242.84 145.27 1244.39 145.25 1245.94 146.13 1247.49 145.93 1249.04 145.38 1250.59 145.89 1252.14 146.11 1253.69 146.33 1255.24 145.87 1256.79 145.61 1258.34 145.93 1259.89 144.53 1261.45 144.64 1263 144.53 1264.55 144.88 1266.1 143.98 1267.65 144.05 1269.2 144.19 1270.75 144.7 1272.3 144.42 1273.85 145 1275.4 145.35 1276.95 145.78 1278.5 145.49 1280.05 144.28 1281.6 144.05 1283.15 144.03 1284.7 143.9 1286.26 143.16 1287.81 142.95 1289.36 142.91 1290.91 143.17 1292.46 142.7 1294.01 142.27 1295.56 142.13 1297.11 142.52 1298.66 142.38 1300.21 143 1301.76 143.56 1303.31 143.34 1304.86 143.42 1306.41 143.44 1307.96 143.84 1309.51 144.94 1311.07 144.03 1312.62 144.11 1314.17 144.89 1315.72 145.32 1317.27 146.08 1318.82 145.35 1320.37 144.9 1321.92 144.44 1323.47 144.39 1325.02 144.56 1326.57 143.86 1328.12 143.47 1329.67 144.39 1331.22 144.38 1332.77 144.93 1334.32 144.88 1335.88 146.05 1337.43 145.83 1338.98 145.57 1340.53 145.96 1342.08 145.57 1343.63 145.99 1345.18 145.05 1346.73 145.18 1348.28 144.38 1349.83 144.49 1351.38 145.08 1352.93 144.15 1354.48 144.03 1356.03 142.98 1357.58 143.27 1359.13 143.69 1360.69 143.3 1362.24 143.66 1363.79 143.49 1365.34 143.41 1366.89 144.1 1368.44 144 1369.99 143.76 1371.54 143.89 1373.09 144.07 1374.64 143.24 1376.19 142.6 1377.74 141.99 1379.29 141.49 1380.84 141.6" stroke="#a2ff30" stroke-width="2.4" fill="none" stroke-linejoin="round"/>
<path d="M901.7 172.65 903.25 171.36 904.8 170.33 906.35 170.45 907.9 169.61 909.45 168.84 911 168.73 912.55 167.23 914.11 166.97 915.66 166.13 917.21 166.53 918.76 165.81 920.31 164.72 921.86 165.36 923.41 164.98 924.96 164.54 926.51 162.94 928.06 161.87 929.61 162.1 931.16 161.97 932.71 160.85 934.26 160.78 935.81 159.98 937.36 159.8 938.92 160.29 940.47 158.7 942.02 157.63 943.57 157.36 945.12 157.43 946.67 157.37 948.22 156.87 949.77 157.1 951.32 156.35 952.87 156.02 954.42 156.51 955.97 156.06 957.52 155.81 959.07 154.81 960.62 155.56 962.17 155.66 963.73 154.62 965.28 154.36 966.83 153.62 968.38 153.24 969.93 153.96 971.48 153.99 973.03 154.54 974.58 154.22 976.13 154.33 977.68 153.88 979.23 153.77 980.78 154.21 982.33 153.89 983.88 154.24 985.43 154.3 986.98 153.94 988.54 154.12 990.09 153.82 991.64 155.08 993.19 154.59 994.74 153.95 996.29 153.66 997.84 154.06 999.39 154.66 1000.94 155.37 1002.49 155.67 1004.04 155.98 1005.59 156.55 1007.14 156.1 1008.69 155.41 1010.24 156.62 1011.79 157.56 1013.35 157.29 1014.9 157.33 1016.45 158.07 1018 158.69 1019.55 158.41 1021.1 158.58 1022.65 158.52 1024.2 158.18 1025.75 159.45 1027.3 159.33 1028.85 158.64 1030.4 158.31 1031.95 159.23 1033.5 159.98 1035.05 160.29 1036.6 160.15 1038.15 160.7 1039.71 161.55 1041.26 161.05 1042.81 161.1 1044.36 161.44 1045.91 160.61 1047.46 160.9 1049.01 160.78 1050.56 161.13 1052.11 161.41 1053.66 161.19 1055.21 160.6 1056.76 160.3 1058.31 160.04 1059.86 159.88 1061.41 160.22 1062.97 160.03 1064.52 159.73 1066.07 160.29 1067.62 159.82 1069.17 159.66 1070.72 158.89 1072.27 158.17 1073.82 159.06 1075.37 159.17 1076.92 158.54 1078.47 158.48 1080.02 157.78 1081.57 157.1 1083.12 157.24 1084.67 157.26 1086.22 156.24 1087.78 156.32 1089.33 156.16 1090.88 155.14 1092.43 154.19 1093.98 152.24 1095.53 151.66 1097.08 151.35 1098.63 151.47 1100.18 151.66 1101.73 151.3 1103.28 151.04 1104.83 150.95 1106.38 151.38 1107.93 151.65 1109.48 152.7 1111.03 153.04 1112.59 151.78 1114.14 152.53 1115.69 152.45 1117.24 152.71 1118.79 151.86 1120.34 151.99 1121.89 152.47 1123.44 152.75 1124.99 152.08 1126.54 152.15 1128.09 152.81 1129.64 153.64 1131.19 153.87 1132.74 153.38 1134.29 153.62 1135.84 154.24 1137.39 153.86 1138.95 153.85 1140.5 153.9 1142.05 154.48 1143.6 153.36 1145.15 152.23 1146.7 152.38 1148.25 151.61 1149.8 152.37 1151.35 152.66 1152.9 151.33 1154.45 151.5 1156 151.51 1157.55 151.58 1159.1 152.16 1160.65 151.66 1162.21 151.43 1163.76 150.42 1165.31 149.39 1166.86 149.51 1168.41 149.3 1169.96 149.85 1171.51 150.24 1173.06 150.5 1174.61 150.55 1176.16 149.88 1177.71 149.8 1179.26 150.4 1180.81 149.16 1182.36 148.88 1183.91 148.28 1185.46 148.6 1187.02 148.46 1188.57 148.68 1190.12 148.31 1191.67 147.63 1193.22 147.66 1194.77 147.62 1196.32 147.66 1197.87 147.62 1199.42 147.82 1200.97 147.64 1202.52 147.89 1204.07 147.76 1205.62 147.58 1207.17 147.34 1208.72 146.45 1210.27 146.03 1211.83 146.21 1213.38 146.9 1214.93 147.1 1216.48 147.93 1218.03 148.59 1219.58 148.48 1221.13 149.2 1222.68 148.76 1224.23 147.71 1225.78 148.13 1227.33 148.88 1228.88 148.7 1230.43 149.08 1231.98 149.89 1233.53 149.52 1235.08 150.14 1236.64 148.99 1238.19 148.85 1239.74 148.42 1241.29 147.83 1242.84 147.59 1244.39 147.71 1245.94 147.49 1247.49 147.19 1249.04 147.18 1250.59 147.47 1252.14 147.59 1253.69 147.28 1255.24 146.24 1256.79 146.22 1258.34 146.62 1259.89 146.99 1261.45 146.34 1263 145.92 1264.55 145.55 1266.1 145.52 1267.65 144.71 1269.2 144.91 1270.75 144.62 1272.3 144.66 1273.85 145.31 1275.4 144.44 1276.95 144.98 1278.5 143.94 1280.05 144.44 1281.6 144.6 1283.15 144.11 1284.7 144.01 1286.26 142.61 1287.81 141.96 1289.36 142.56 1290.91 143.52 1292.46 143.95 1294.01 143.8 1295.56 143.32 1297.11 143.6 1298.66 143.14 1300.21 143.66 1301.76 143.77 1303.31 144 1304.86 144.1 1306.41 143.81 1307.96 143.8 1309.51 144.59 1311.07 143.74 1312.62 144.21 1314.17 144.76 1315.72 143.84 1317.27 144.51 1318.82 144.23 1320.37 143.6 1321.92 144.08 1323.47 144.7 1325.02 144.56 1326.57 144.33 1328.12 143.72 1329.67 144.65 1331.22 144.99 1332.77 144.85 1334.32 144.62 1335.88 144.85 1337.43 145.39 1338.98 145.07 1340.53 145.25 1342.08 145.75 1343.63 144.74 1345.18 144.17 1346.73 144.31 1348.28 144.04 1349.83 144.08 1351.38 144.2 1352.93 145.29 1354.48 144.29 1356.03 143.9 1357.58 144.42 1359.13 144.33 1360.69 143.77 1362.24 144.41 1363.79 142.99 1365.34 143.83 1366.89 143.82 1368.44 144.42 1369.99 144.83 1371.54 145.02 1373.09 143.83 1374.64 143.06 1376.19 143.07 1377.74 142.53 1379.29 142.69 1380.84 142.75" stroke="#a2ff30" stroke-width="3.3" fill="none" stroke-linejoin="round" stroke-dasharray="10.6 4.3"/>
<path d="M901.7 161.53 903.25 160.3 904.8 158.49 906.35 157.51 907.9 156.45 909.45 154.34 911 153.57 912.55 152.69 914.11 152.78 915.66 151.96 917.21 150.87 918.76 151.31 920.31 151.75 921.86 151.74 923.41 151.49 924.96 150.62 926.51 150.79 928.06 149.87 929.61 150.7 931.16 151.18 932.71 151.51 934.26 151.99 935.81 151.39 937.36 152.47 938.92 152.87 940.47 152.93 942.02 153.52 943.57 153.83 945.12 154.01 946.67 153.99 948.22 155.47 949.77 156.4 951.32 156.44 952.87 157.18 954.42 157.84 955.97 158.7 957.52 158.24 959.07 158.25 960.62 158.68 962.17 158.62 963.73 157.43 965.28 157.9 966.83 158.19 968.38 159.17 969.93 159.84 971.48 159.55 973.03 160.84 974.58 161.05 976.13 163.51 977.68 163.97 979.23 163.51 980.78 163.58 982.33 164.33 983.88 165.04 985.43 164.55 986.98 164.43 988.54 164.91 990.09 165.03 991.64 164.49 993.19 163.39 994.74 162.87 996.29 162.92 997.84 163.5 999.39 164.53 1000.94 164.58 1002.49 164.45 1004.04 164.13 1005.59 166.08 1007.14 166.77 1008.69 167 1010.24 166.92 1011.79 166.88 1013.35 166.96 1014.9 167.58 1016.45 167.86 1018 168.67 1019.55 169 1021.1 169.57 1022.65 169.85 1024.2 169.7 1025.75 169.87 1027.3 170.08 1028.85 169.99 1030.4 170.78 1031.95 170.29 1033.5 171.11 1035.05 171.68 1036.6 171.92 1038.15 172.39 1039.71 171.79 1041.26 172.36 1042.81 172.86 1044.36 172.67 1045.91 172.51 1047.46 172.79 1049.01 173.16 1050.56 173.93 1052.11 174.22 1053.66 174.27 1055.21 173.89 1056.76 173.5 1058.31 173.54 1059.86 173.47 1061.41 173.61 1062.97 174.21 1064.52 173.66 1066.07 172.92 1067.62 172.07 1069.17 172.1 1070.72 172.95 1072.27 172.87 1073.82 172.65 1075.37 172.96 1076.92 173.23 1078.47 172.49 1080.02 173.24 1081.57 173.33 1083.12 173.78 1084.67 173.95 1086.22 174.64 1087.78 175.6 1089.33 175.34 1090.88 175.56 1092.43 175.53 1093.98 175.45 1095.53 174.54 1097.08 174.35 1098.63 174.78 1100.18 174.11 1101.73 175.08 1103.28 175.25 1104.83 176.14 1106.38 175.79 1107.93 176.06 1109.48 176.37 1111.03 177.15 1112.59 177.89 1114.14 178.32 1115.69 178.53 1117.24 178.11 1118.79 177.94 1120.34 178.29 1121.89 179.09 1123.44 179.5 1124.99 179.79 1126.54 180.33 1128.09 180.08 1129.64 179.91 1131.19 179.62 1132.74 180.04 1134.29 180.38 1135.84 181.12 1137.39 181.42 1138.95 180.85 1140.5 181.26 1142.05 180.38 1143.6 180.29 1145.15 180.05 1146.7 181.03 1148.25 180.79 1149.8 180.72 1151.35 181.16 1152.9 181.13 1154.45 180.15 1156 180.5 1157.55 181.19 1159.1 180.25 1160.65 179.82 1162.21 179.74 1163.76 179.76 1165.31 179.84 1166.86 180.57 1168.41 180.15 1169.96 180.07 1171.51 179.72 1173.06 180.54 1174.61 180.86 1176.16 180.81 1177.71 180.63 1179.26 180.47 1180.81 180.39 1182.36 180.78 1183.91 180.41 1185.46 180 1187.02 180.6 1188.57 180.89 1190.12 180.75 1191.67 179.26 1193.22 179.49 1194.77 179.99 1196.32 179.83 1197.87 180.01 1199.42 180.55 1200.97 181.33 1202.52 181.15 1204.07 181.37 1205.62 181.01 1207.17 181.44 1208.72 181.94 1210.27 182.53 1211.83 183.24 1213.38 183.84 1214.93 184.82 1216.48 183.92 1218.03 183.85 1219.58 183.82 1221.13 183.64 1222.68 184.12 1224.23 184.49 1225.78 185.26 1227.33 185.8 1228.88 186.56 1230.43 185.81 1231.98 185.35 1233.53 185.52 1235.08 185.91 1236.64 186.3 1238.19 185.88 1239.74 185.79 1241.29 186.6 1242.84 187.7 1244.39 187.66 1245.94 187.25 1247.49 186.93 1249.04 185.88 1250.59 185.93 1252.14 185.52 1253.69 185.96 1255.24 185.86 1256.79 186.06 1258.34 185.56 1259.89 184.86 1261.45 184.72 1263 184.95 1264.55 184.84 1266.1 184.78 1267.65 185.13 1269.2 185.62 1270.75 185.58 1272.3 185.59 1273.85 185.56 1275.4 185.64 1276.95 186.41 1278.5 186.39 1280.05 186.12 1281.6 186.51 1283.15 185.79 1284.7 186.07 1286.26 184.9 1287.81 184.3 1289.36 183.69 1290.91 184.48 1292.46 183.45 1294.01 182.9 1295.56 182.77 1297.11 183.52 1298.66 184.94 1300.21 185.26 1301.76 186.11 1303.31 185.59 1304.86 187.4 1306.41 186.69 1307.96 186.86 1309.51 186.58 1311.07 186.89 1312.62 186.38 1314.17 186.79 1315.72 187.42 1317.27 188.06 1318.82 187.74 1320.37 187.75 1321.92 187.52 1323.47 188.84 1325.02 188.65 1326.57 189.29 1328.12 189.62 1329.67 188.6 1331.22 188.56 1332.77 189.22 1334.32 189.78 1335.88 189.19 1337.43 189.44 1338.98 189.23 1340.53 189.22 1342.08 189.92 1343.63 189.21 1345.18 188.68 1346.73 188.7 1348.28 187.99 1349.83 188.13 1351.38 188.79 1352.93 189.06 1354.48 187.97 1356.03 188.14 1357.58 186.92 1359.13 187.52 1360.69 187.09 1362.24 187.17 1363.79 186.96 1365.34 187.36 1366.89 187.83 1368.44 188.13 1369.99 187.84 1371.54 187.84 1373.09 188.27 1374.64 188.3 1376.19 187.96 1377.74 187.98 1379.29 187.69 1380.84 187.89" stroke="#ff00ff" stroke-width="3.3" fill="none" stroke-linejoin="round" stroke-dasharray="10.6 4.3"/>
<path d="M901.7 164.87 903.25 163.41 904.8 162.36 906.35 161.48 907.9 159.55 909.45 158.23 911 156.57 912.55 157.02 914.11 156.47 915.66 156.78 917.21 155.82 918.76 156.2 920.31 155.44 921.86 155.74 923.41 155.86 924.96 154.77 926.51 154.81 928.06 155.63 929.61 155.77 931.16 154.95 932.71 153.86 934.26 153.66 935.81 153.23 937.36 152.64 938.92 153.23 940.47 154.29 942.02 153.86 943.57 154.15 945.12 153.52 946.67 154.06 948.22 153.88 949.77 154.05 951.32 153.92 952.87 154.16 954.42 153.07 955.97 153.15 957.52 151.96 959.07 151.81 960.62 151.72 962.17 151.04 963.73 150.85 965.28 149.74 966.83 149.09 968.38 149.24 969.93 149.17 971.48 148.48 973.03 147.91 974.58 147.95 976.13 147.66 977.68 148.43 979.23 147.48 980.78 146.31 982.33 146.11 983.88 146.54 985.43 146.28 986.98 145.97 988.54 144.39 990.09 144.99 991.64 144.38 993.19 143.11 994.74 142.49 996.29 141.23 997.84 141.34 999.39 140.5 1000.94 140.03 1002.49 140.38 1004.04 139.87 1005.59 139.84 1007.14 140.78 1008.69 141.33 1010.24 142.1 1011.79 142.06 1013.35 142.07 1014.9 141.35 1016.45 140.72 1018 140.71 1019.55 141.61 1021.1 142.06 1022.65 141.38 1024.2 141.84 1025.75 141.77 1027.3 141.55 1028.85 142.11 1030.4 142.29 1031.95 142.95 1033.5 142.94 1035.05 143.84 1036.6 142.92 1038.15 144.11 1039.71 143.1 1041.26 143.04 1042.81 143.34 1044.36 142.1 1045.91 142.19 1047.46 142.55 1049.01 142.47 1050.56 141.46 1052.11 142.29 1053.66 141.99 1055.21 141.35 1056.76 140.55 1058.31 140.56 1059.86 139.76 1061.41 138.92 1062.97 139.06 1064.52 139.06 1066.07 139.58 1067.62 139.05 1069.17 138.08 1070.72 137.87 1072.27 136.97 1073.82 136.17 1075.37 136.44 1076.92 136.97 1078.47 137.58 1080.02 137.21 1081.57 136.15 1083.12 135.05 1084.67 135.75 1086.22 135.32 1087.78 134.37 1089.33 135.04 1090.88 134.2 1092.43 133.74 1093.98 132.1 1095.53 131.36 1097.08 131.6 1098.63 131.72 1100.18 132.64 1101.73 133.02 1103.28 133.71 1104.83 134.51 1106.38 133.99 1107.93 134.28 1109.48 134.03 1111.03 134.56 1112.59 135.4 1114.14 135.27 1115.69 135.02 1117.24 135.22 1118.79 136.21 1120.34 134.86 1121.89 135.12 1123.44 135.41 1124.99 135.19 1126.54 136.06 1128.09 136.39 1129.64 136.3 1131.19 136.13 1132.74 135.06 1134.29 134.73 1135.84 134.8 1137.39 135.71 1138.95 136.95 1140.5 137.05 1142.05 136.55 1143.6 136.65 1145.15 136.62 1146.7 137.3 1148.25 136.86 1149.8 136.27 1151.35 136.47 1152.9 136.4 1154.45 136.19 1156 135.45 1157.55 135.18 1159.1 134.94 1160.65 135.07 1162.21 135.04 1163.76 135.32 1165.31 133.94 1166.86 133.58 1168.41 133.64 1169.96 133.92 1171.51 133.64 1173.06 133.31 1174.61 133.49 1176.16 132.79 1177.71 132.64 1179.26 132.04 1180.81 132.2 1182.36 132.47 1183.91 132.02 1185.46 131.33 1187.02 130.42 1188.57 130.25 1190.12 129.87 1191.67 130.33 1193.22 129.86 1194.77 129.96 1196.32 130.94 1197.87 130.05 1199.42 129.54 1200.97 129.75 1202.52 131.36 1204.07 131.62 1205.62 132.33 1207.17 132.16 1208.72 132.4 1210.27 131.25 1211.83 131.51 1213.38 131.73 1214.93 132.25 1216.48 133.01 1218.03 132.56 1219.58 133.13 1221.13 133.48 1222.68 134.3 1224.23 134.23 1225.78 135.39 1227.33 135.8 1228.88 136.36 1230.43 135.85 1231.98 135.38 1233.53 133.66 1235.08 134.34 1236.64 133.78 1238.19 133.66 1239.74 133.88 1241.29 133.68 1242.84 134.58 1244.39 134.71 1245.94 134.29 1247.49 133.78 1249.04 134.51 1250.59 134.44 1252.14 134.34 1253.69 133.54 1255.24 132.68 1256.79 132.46 1258.34 131.87 1259.89 131.06 1261.45 131 1263 131.38 1264.55 130.15 1266.1 130.95 1267.65 131.28 1269.2 132.01 1270.75 131.4 1272.3 130.8 1273.85 130.46 1275.4 131.23 1276.95 131.46 1278.5 131.11 1280.05 130.75 1281.6 130.59 1283.15 129.34 1284.7 128.46 1286.26 128.76 1287.81 128.82 1289.36 128.34 1290.91 128.18 1292.46 128.13 1294.01 128.89 1295.56 130.23 1297.11 129.96 1298.66 130.23 1300.21 129.29 1301.76 130.34 1303.31 130.22 1304.86 130.25 1306.41 131.04 1307.96 131.95 1309.51 132.16 1311.07 132.54 1312.62 133.82 1314.17 133.97 1315.72 133.56 1317.27 133.45 1318.82 133.7 1320.37 134.75 1321.92 134.03 1323.47 134.59 1325.02 134.11 1326.57 133.62 1328.12 133.74 1329.67 134.1 1331.22 134.32 1332.77 134.38 1334.32 135.12 1335.88 135.22 1337.43 135.29 1338.98 136.08 1340.53 135.22 1342.08 134.47 1343.63 134.95 1345.18 134.13 1346.73 133.82 1348.28 133.64 1349.83 133.66 1351.38 132.99 1352.93 132.77 1354.48 133.11 1356.03 132.23 1357.58 132.6 1359.13 132.15 1360.69 132.42 1362.24 132.19 1363.79 131.52 1365.34 131.23 1366.89 131.82 1368.44 132.42 1369.99 132.49 1371.54 132.47 1373.09 132.8 1374.64 132.56 1376.19 131.77 1377.74 131.64 1379.29 131.73 1380.84 131.87" stroke="#ff0000" stroke-width="3.3" fill="none" stroke-linejoin="round" stroke-dasharray="10.6 4.3"/>
<path d="M901.7 172.19 903.25 170.32 904.8 167.62 906.35 165.76 907.9 163.83 909.45 160.84 911 160.94 912.55 160.84 914.11 158.92 915.66 158.56 917.21 158.34 918.76 157.99 920.31 157.88 921.86 157.55 923.41 157.57 924.96 157.68 926.51 157.81 928.06 158.24 929.61 158.86 931.16 158.57 932.71 158.66 934.26 158.68 935.81 157.94 937.36 157.6 938.92 156.93 940.47 157.14 942.02 156.96 943.57 156.57 945.12 156.81 946.67 156.69 948.22 156.31 949.77 155.86 951.32 155.59 952.87 154.86 954.42 154.8 955.97 154.39 957.52 154.63 959.07 154.49 960.62 153.78 962.17 153.37 963.73 151.99 965.28 152.45 966.83 151.89 968.38 151.53 969.93 151.11 971.48 149.61 973.03 150.26 974.58 150.79 976.13 150.18 977.68 149.79 979.23 149.75 980.78 149.08 982.33 149.41 983.88 147.86 985.43 147.52 986.98 147.89 988.54 147.34 990.09 146.94 991.64 146.05 993.19 145.14 994.74 144.62 996.29 143.77 997.84 143.17 999.39 143.39 1000.94 143.66 1002.49 142.81 1004.04 142.53 1005.59 142.92 1007.14 143.61 1008.69 142.73 1010.24 143.28 1011.79 142.91 1013.35 143.87 1014.9 144.2 1016.45 145.06 1018 145.29 1019.55 145.24 1021.1 144.83 1022.65 144.32 1024.2 144.15 1025.75 144.29 1027.3 144.35 1028.85 145.04 1030.4 145.28 1031.95 144.68 1033.5 145.54 1035.05 145.42 1036.6 144.05 1038.15 144.45 1039.71 144.59 1041.26 145.01 1042.81 146.21 1044.36 144.75 1045.91 144.68 1047.46 144.76 1049.01 145.66 1050.56 144.96 1052.11 144.63 1053.66 143.76 1055.21 142.6 1056.76 142.88 1058.31 142.89 1059.86 141.97 1061.41 141.92 1062.97 141.37 1064.52 140.31 1066.07 140.22 1067.62 140.55 1069.17 140.15 1070.72 139.48 1072.27 139.67 1073.82 139.6 1075.37 138.73 1076.92 137.33 1078.47 136.77 1080.02 137.16 1081.57 137.34 1083.12 137 1084.67 136.74 1086.22 136.57 1087.78 136.23 1089.33 134.99 1090.88 134.94 1092.43 133.89 1093.98 133.62 1095.53 132.2 1097.08 132.78 1098.63 132.5 1100.18 132.64 1101.73 133.68 1103.28 134.15 1104.83 134.94 1106.38 135.8 1107.93 135.6 1109.48 135.13 1111.03 135.57 1112.59 135.97 1114.14 136.14 1115.69 135.75 1117.24 135.84 1118.79 136.2 1120.34 136.04 1121.89 135.83 1123.44 136.46 1124.99 136.72 1126.54 136.08 1128.09 136.45 1129.64 136.69 1131.19 137.31 1132.74 136.93 1134.29 136.23 1135.84 136.62 1137.39 137.32 1138.95 137.08 1140.5 137.75 1142.05 137.34 1143.6 137.11 1145.15 137.46 1146.7 137.48 1148.25 136.09 1149.8 135.72 1151.35 135.5 1152.9 134.9 1154.45 135.01 1156 133.81 1157.55 133.41 1159.1 132.39 1160.65 133.07 1162.21 132.05 1163.76 132.33 1165.31 131.46 1166.86 131.05 1168.41 131.37 1169.96 130.52 1171.51 130.39 1173.06 130.77 1174.61 130.83 1176.16 129.79 1177.71 129.89 1179.26 129.99 1180.81 129.68 1182.36 129.28 1183.91 129.9 1185.46 129.77 1187.02 129.06 1188.57 127.88 1190.12 126.87 1191.67 126.86 1193.22 126.92 1194.77 127.4 1196.32 127.34 1197.87 127.77 1199.42 128.79 1200.97 128.54 1202.52 128.34 1204.07 127.98 1205.62 128.33 1207.17 127.28 1208.72 127.71 1210.27 128.43 1211.83 128.92 1213.38 128.84 1214.93 129.16 1216.48 129.14 1218.03 129.21 1219.58 129.7 1221.13 129.46 1222.68 129.3 1224.23 129.82 1225.78 131.15 1227.33 131.17 1228.88 130.39 1230.43 130.84 1231.98 131.16 1233.53 130.83 1235.08 131.86 1236.64 131.67 1238.19 131.76 1239.74 131.27 1241.29 131.12 1242.84 130.88 1244.39 131.28 1245.94 131.92 1247.49 131.61 1249.04 131.04 1250.59 129.82 1252.14 128.5 1253.69 128.65 1255.24 128.47 1256.79 128.08 1258.34 127.76 1259.89 128.91 1261.45 128.18 1263 127.52 1264.55 127.27 1266.1 127.29 1267.65 126.87 1269.2 127.19 1270.75 127.39 1272.3 126.62 1273.85 126.65 1275.4 126.26 1276.95 125.75 1278.5 125.67 1280.05 126.18 1281.6 124.72 1283.15 124.36 1284.7 123.3 1286.26 122.24 1287.81 121.76 1289.36 121.33 1290.91 122.84 1292.46 122.92 1294.01 123.17 1295.56 123.58 1297.11 123.02 1298.66 123.66 1300.21 125.24 1301.76 125.73 1303.31 126.38 1304.86 126.81 1306.41 126.77 1307.96 127.13 1309.51 127.63 1311.07 127.65 1312.62 126.85 1314.17 127.55 1315.72 128.37 1317.27 128.46 1318.82 127.41 1320.37 126.73 1321.92 127.43 1323.47 127.65 1325.02 127.84 1326.57 127.81 1328.12 128.12 1329.67 129.39 1331.22 129.52 1332.77 129.76 1334.32 129.16 1335.88 129.81 1337.43 129.43 1338.98 129.45 1340.53 128.93 1342.08 128.7 1343.63 128.7 1345.18 129.04 1346.73 129.51 1348.28 128.57 1349.83 127.43 1351.38 126.77 1352.93 125.81 1354.48 125.24 1356.03 124.32 1357.58 124.9 1359.13 125.46 1360.69 124.95 1362.24 124.53 1363.79 124.14 1365.34 124.42 1366.89 124.06 1368.44 124.3 1369.99 124.39 1371.54 125.03 1373.09 124.67 1374.64 124.03 1376.19 123.84 1377.74 123.72 1379.29 123.5 1380.84 123.34" stroke="#0000ff" stroke-width="3.3" fill="none" stroke-linejoin="round" stroke-dasharray="10.6 4.3"/>
<path d="M901.7 178.15 903.25 176.7 904.8 176.59 906.35 175.73 907.9 175.2 909.45 173.91 911 173.81 912.55 172.56 914.11 171.04 915.66 171 917.21 169.6 918.76 168.54 920.31 169.91 921.86 169.07 923.41 169.26 924.96 168.51 926.51 168.39 928.06 168.63 929.61 168.87 931.16 169.99 932.71 169.21 934.26 169.79 935.81 169.7 937.36 170.43 938.92 170.67 940.47 170.59 942.02 170.04 943.57 170.5 945.12 169.99 946.67 170.12 948.22 171.92 949.77 172.49 951.32 172.12 952.87 172.41 954.42 172.34 955.97 173.22 957.52 173.36 959.07 173.71 960.62 174.38 962.17 174.99 963.73 174.29 965.28 174.44 966.83 175.06 968.38 175.08 969.93 174.82 971.48 174.53 973.03 173.95 974.58 174.09 976.13 174.15 977.68 175.38 979.23 174.45 980.78 175.13 982.33 174.81 983.88 175.03 985.43 175.17 986.98 175.91 988.54 175.43 990.09 175.12 991.64 175.36 993.19 175.55 994.74 175.45 996.29 174.72 997.84 173.78 999.39 173.35 1000.94 173.22 1002.49 172.89 1004.04 172.82 1005.59 174.13 1007.14 174.16 1008.69 173.89 1010.24 174.31 1011.79 173.93 1013.35 174.73 1014.9 174.31 1016.45 175.1 1018 174.96 1019.55 175.53 1021.1 176.46 1022.65 176.61 1024.2 175.8 1025.75 176.21 1027.3 175.33 1028.85 176.15 1030.4 176.54 1031.95 176.68 1033.5 176.45 1035.05 177.28 1036.6 177.46 1038.15 177.67 1039.71 176.9 1041.26 177.71 1042.81 177.67 1044.36 177.99 1045.91 178.53 1047.46 178.1 1049.01 178.33 1050.56 178.21 1052.11 177.35 1053.66 177.02 1055.21 177.49 1056.76 178.16 1058.31 178.43 1059.86 177.94 1061.41 178.53 1062.97 177.47 1064.52 176.46 1066.07 177.04 1067.62 177.43 1069.17 176.67 1070.72 176.5 1072.27 176.52 1073.82 176 1075.37 176.55 1076.92 177.63 1078.47 176.89 1080.02 177.18 1081.57 176.59 1083.12 175.92 1084.67 175.94 1086.22 176.04 1087.78 176.09 1089.33 175.79 1090.88 175.1 1092.43 174.18 1093.98 173.22 1095.53 173.22 1097.08 173.76 1098.63 172.46 1100.18 172.93 1101.73 173.09 1103.28 173.37 1104.83 173.82 1106.38 174.05 1107.93 174.03 1109.48 175.01 1111.03 175.27 1112.59 175.29 1114.14 176.21 1115.69 176.27 1117.24 175.79 1118.79 176.11 1120.34 176.18 1121.89 177.37 1123.44 176.65 1124.99 176.94 1126.54 177.01 1128.09 177.44 1129.64 177.46 1131.19 177.34 1132.74 176.99 1134.29 177.92 1135.84 178.22 1137.39 177.58 1138.95 177.97 1140.5 178.31 1142.05 178.79 1143.6 178.36 1145.15 178.41 1146.7 178.09 1148.25 178.81 1149.8 178.43 1151.35 177.94 1152.9 177.32 1154.45 177.07 1156 177.43 1157.55 176.7 1159.1 177 1160.65 176.66 1162.21 176.26 1163.76 175.99 1165.31 177.3 1166.86 177.11 1168.41 177.14 1169.96 176.74 1171.51 177.86 1173.06 177.05 1174.61 176.55 1176.16 176.87 1177.71 176.15 1179.26 176.95 1180.81 177.92 1182.36 177.45 1183.91 176.27 1185.46 175.85 1187.02 176.11 1188.57 175.35 1190.12 174.87 1191.67 174.55 1193.22 174.46 1194.77 174.22 1196.32 173.58 1197.87 174.5 1199.42 174.4 1200.97 175.26 1202.52 174.96 1204.07 175.97 1205.62 175.64 1207.17 176.31 1208.72 175.16 1210.27 175.88 1211.83 175.41 1213.38 175.36 1214.93 176.13 1216.48 175.95 1218.03 176.43 1219.58 176.1 1221.13 175.74 1222.68 176.1 1224.23 176.47 1225.78 177.29 1227.33 177.15 1228.88 176.74 1230.43 175.89 1231.98 176.6 1233.53 176.89 1235.08 177.02 1236.64 177.63 1238.19 176.81 1239.74 177.29 1241.29 177.45 1242.84 178.1 1244.39 177.69 1245.94 176.81 1247.49 176.18 1249.04 176.73 1250.59 176.33 1252.14 176.43 1253.69 176.64 1255.24 177.04 1256.79 177.39 1258.34 176.66 1259.89 176.68 1261.45 176.43 1263 176.25 1264.55 176.15 1266.1 175.82 1267.65 176.5 1269.2 176.61 1270.75 176.27 1272.3 176.31 1273.85 177.12 1275.4 176.41 1276.95 176.38 1278.5 176.13 1280.05 176.51 1281.6 175.19 1283.15 174.74 1284.7 174.61 1286.26 174.1 1287.81 173.23 1289.36 173.05 1290.91 172.97 1292.46 172.51 1294.01 173.07 1295.56 173.77 1297.11 174.63 1298.66 174.89 1300.21 175.07 1301.76 175.75 1303.31 176.11 1304.86 175.6 1306.41 175.76 1307.96 175.45 1309.51 176.16 1311.07 176.19 1312.62 175.86 1314.17 174.36 1315.72 174.43 1317.27 174.71 1318.82 174.7 1320.37 175.03 1321.92 174.94 1323.47 175.95 1325.02 176.52 1326.57 176.78 1328.12 176.9 1329.67 176.67 1331.22 177.19 1332.77 176.96 1334.32 178.13 1335.88 178.13 1337.43 177.81 1338.98 177.69 1340.53 176.61 1342.08 177.04 1343.63 177.19 1345.18 176.6 1346.73 176.47 1348.28 176.53 1349.83 176.97 1351.38 176.4 1352.93 175.73 1354.48 175.04 1356.03 175.27 1357.58 176.18 1359.13 175.38 1360.69 174.48 1362.24 174.44 1363.79 175.14 1365.34 174.91 1366.89 174.82 1368.44 174.54 1369.99 174.2 1371.54 174.06 1373.09 173.88 1374.64 174.1 1376.19 174.09 1377.74 174.6 1379.29 174.27 1380.84 174.02" stroke="#00ffff" stroke-width="3.3" fill="none" stroke-linejoin="round" stroke-dasharray="10.6 4.3"/>
<path d="M901.7 152.52 903.25 148.49 904.8 144.66 906.35 142.1 907.9 140.08 909.45 137.1 911 135.91 912.55 136.15 914.11 135.35 915.66 134.13 917.21 133.4 918.76 133.38 920.31 134.39 921.86 134.7 923.41 134.65 924.96 134.42 926.51 134.39 928.06 135.38 929.61 136.27 931.16 136.6 932.71 137.69 934.26 138.46 935.81 140.18 937.36 140.47 938.92 140.26 940.47 141.84 942.02 142.19 943.57 142.17 945.12 143.67 946.67 143.86 948.22 145.4 949.77 146 951.32 145.94 952.87 147.13 954.42 148.26 955.97 148.45 957.52 149.91 959.07 150.46 960.62 150.57 962.17 150.92 963.73 151.85 965.28 152.92 966.83 154.33 968.38 154.26 969.93 155.56 971.48 154.76 973.03 154.55 974.58 154.61 976.13 155.08 977.68 153.74 979.23 153.64 980.78 154.05 982.33 153.9 983.88 154.88 985.43 154.88 986.98 154.91 988.54 155.4 990.09 155.16 991.64 155.34 993.19 155.25 994.74 155.37 996.29 156.64 997.84 158.96 999.39 160.85 1000.94 160.98 1002.49 162.28 1004.04 161.68 1005.59 163.08 1007.14 164.39 1008.69 164.02 1010.24 165.45 1011.79 166.05 1013.35 166.64 1014.9 166.84 1016.45 166.42 1018 167.78 1019.55 167.9 1021.1 169.17 1022.65 170.18 1024.2 170.05 1025.75 171.51 1027.3 172.41 1028.85 171.52 1030.4 173.59 1031.95 174.64 1033.5 176.79 1035.05 176.67 1036.6 177.67 1038.15 177.05 1039.71 176.89 1041.26 178.14 1042.81 178.14 1044.36 178.07 1045.91 178.67 1047.46 178.38 1049.01 177.47 1050.56 178.07 1052.11 177.98 1053.66 178.25 1055.21 178.15 1056.76 177.82 1058.31 175.94 1059.86 175.39 1061.41 174.85 1062.97 174.9 1064.52 174.9 1066.07 173.53 1067.62 172.85 1069.17 172.96 1070.72 172.29 1072.27 172.12 1073.82 172.15 1075.37 172.01 1076.92 171.05 1078.47 170.83 1080.02 171.76 1081.57 172.06 1083.12 171.7 1084.67 171.46 1086.22 170.5 1087.78 170.23 1089.33 171.64 1090.88 171.48 1092.43 170.92 1093.98 169.76 1095.53 168.47 1097.08 169.13 1098.63 169.5 1100.18 170.74 1101.73 171.96 1103.28 173.73 1104.83 175.19 1106.38 176.66 1107.93 177.56 1109.48 178.63 1111.03 179.72 1112.59 179.63 1114.14 180 1115.69 180.47 1117.24 181.88 1118.79 182.46 1120.34 182.18 1121.89 182.34 1123.44 182.73 1124.99 182.48 1126.54 183.69 1128.09 184.81 1129.64 184.85 1131.19 185.59 1132.74 185.7 1134.29 185.02 1135.84 185.35 1137.39 185.03 1138.95 185.81 1140.5 185.92 1142.05 186.45 1143.6 187.02 1145.15 186.13 1146.7 186.11 1148.25 185.19 1149.8 183.72 1151.35 183.33 1152.9 182.8 1154.45 182.37 1156 180.71 1157.55 180.35 1159.1 179.43 1160.65 177.87 1162.21 177.39 1163.76 176.61 1165.31 176.87 1166.86 175.77 1168.41 175.87 1169.96 176.14 1171.51 176.2 1173.06 176.04 1174.61 176.4 1176.16 176.1 1177.71 175.27 1179.26 175.14 1180.81 175.45 1182.36 175.33 1183.91 175.02 1185.46 174.89 1187.02 175.1 1188.57 174.13 1190.12 174.74 1191.67 176.42 1193.22 177.52 1194.77 176.88 1196.32 176.61 1197.87 178.22 1199.42 178.41 1200.97 178.46 1202.52 178.96 1204.07 179.75 1205.62 179.71 1207.17 180.28 1208.72 181.6 1210.27 182.21 1211.83 182.78 1213.38 183.13 1214.93 184.03 1216.48 183.8 1218.03 184.95 1219.58 184.85 1221.13 186.64 1222.68 186.21 1224.23 186.14 1225.78 186.67 1227.33 187.53 1228.88 188.47 1230.43 188.39 1231.98 188.58 1233.53 188.93 1235.08 188.66 1236.64 188.61 1238.19 188.29 1239.74 188.23 1241.29 189.13 1242.84 189.32 1244.39 187.96 1245.94 187.07 1247.49 186.42 1249.04 186.14 1250.59 185.55 1252.14 184.27 1253.69 183.89 1255.24 184.1 1256.79 183.06 1258.34 182.7 1259.89 182.74 1261.45 181.95 1263 181.94 1264.55 181.4 1266.1 180.78 1267.65 180.93 1269.2 180.5 1270.75 180.41 1272.3 180.47 1273.85 179.84 1275.4 179.58 1276.95 179.95 1278.5 179.71 1280.05 179.05 1281.6 177.87 1283.15 177.76 1284.7 177.1 1286.26 178.54 1287.81 181.02 1289.36 180.83 1290.91 180.71 1292.46 181.34 1294.01 182.1 1295.56 182.82 1297.11 183.02 1298.66 183.55 1300.21 185.18 1301.76 185.73 1303.31 186.32 1304.86 186.32 1306.41 185.92 1307.96 184.98 1309.51 186.79 1311.07 187.65 1312.62 187.9 1314.17 188.42 1315.72 188.77 1317.27 189.12 1318.82 189.43 1320.37 189.26 1321.92 189.38 1323.47 189.94 1325.02 190.09 1326.57 190.84 1328.12 191.82 1329.67 191.74 1331.22 191.35 1332.77 191.08 1334.32 190.27 1335.88 191.59 1337.43 191.94 1338.98 191.82 1340.53 191.29 1342.08 191.04 1343.63 191.01 1345.18 190.69 1346.73 189.77 1348.28 189.53 1349.83 188.29 1351.38 187.4 1352.93 186.93 1354.48 185.29 1356.03 184.16 1357.58 183.93 1359.13 184.18 1360.69 183.95 1362.24 183.6 1363.79 183.24 1365.34 182.48 1366.89 183.65 1368.44 183.58 1369.99 183.63 1371.54 183.05 1373.09 182.99 1374.64 182.71 1376.19 182.21 1377.74 181.2 1379.29 180.72 1380.84 180.97" stroke="#fa7410" stroke-width="3.3" fill="none" stroke-linejoin="round" stroke-dasharray="10.6 4.3"/>
<path d="M901.7 165.93 903.25 163.7 904.8 161.53 906.35 159.68 907.9 158.61 909.45 158.06 911 157.34 912.55 157.5 914.11 158.11 915.66 158.51 917.21 158.96 918.76 158.81 920.31 158.84 921.86 158.83 923.41 158.4 924.96 158.69 926.51 159.09 928.06 158.81 929.61 158.54 931.16 158.26 932.71 158.76 934.26 158.38 935.81 157.78 937.36 157.92 938.92 158.2 940.47 158.23 942.02 158.45 943.57 158.87 945.12 159.16 946.67 158.71 948.22 159.04 949.77 159.55 951.32 159.86 952.87 160.07 954.42 160.65 955.97 161.83 957.52 161.63 959.07 160.52 960.62 160.87 962.17 160.63 963.73 160.79 965.28 160.6 966.83 160.05 968.38 160.23 969.93 160.37 971.48 160.15 973.03 160.48 974.58 160.17 976.13 160.39 977.68 160.47 979.23 160.08 980.78 160.64 982.33 160.73 983.88 161.39 985.43 161.55 986.98 161.84 988.54 161.64 990.09 162.28 991.64 161.97 993.19 161.49 994.74 161.12 996.29 161.17 997.84 160.66 999.39 159.56 1000.94 159.07 1002.49 159.4 1004.04 159.78 1005.59 160.56 1007.14 160.92 1008.69 161.07 1010.24 161.26 1011.79 161.5 1013.35 161.67 1014.9 161.64 1016.45 162.21 1018 162.21 1019.55 161.91 1021.1 162.14 1022.65 162.35 1024.2 162.95 1025.75 163.62 1027.3 163.77 1028.85 163.94 1030.4 164.18 1031.95 164.06 1033.5 163.75 1035.05 164.32 1036.6 164.5 1038.15 164.88 1039.71 164.54 1041.26 164.34 1042.81 164.75 1044.36 164.63 1045.91 165.23 1047.46 165.15 1049.01 165.13 1050.56 165.44 1052.11 165.38 1053.66 165.91 1055.21 165.67 1056.76 165.72 1058.31 165.68 1059.86 166.08 1061.41 165.59 1062.97 165.21 1064.52 165.22 1066.07 164.74 1067.62 164.85 1069.17 165.22 1070.72 164.11 1072.27 163.91 1073.82 164.49 1075.37 163.81 1076.92 163.84 1078.47 163.36 1080.02 163.9 1081.57 163.29 1083.12 162.94 1084.67 162.9 1086.22 163.15 1087.78 163.45 1089.33 163.17 1090.88 163.16 1092.43 162.32 1093.98 161.31 1095.53 160.52 1097.08 160.24 1098.63 159.84 1100.18 160.18 1101.73 160.31 1103.28 160.58 1104.83 161.1 1106.38 161.97 1107.93 162.23 1109.48 162.69 1111.03 162.57 1112.59 162.98 1114.14 163.14 1115.69 163.05 1117.24 163.22 1118.79 163.5 1120.34 163.8 1121.89 164.11 1123.44 164.07 1124.99 164.25 1126.54 164.61 1128.09 164.92 1129.64 164.89 1131.19 165.18 1132.74 165.43 1134.29 165.41 1135.84 165.17 1137.39 164.96 1138.95 164.76 1140.5 165.16 1142.05 165.15 1143.6 165.28 1145.15 164.89 1146.7 164.36 1148.25 165.13 1149.8 165.1 1151.35 165.24 1152.9 164.75 1154.45 164.98 1156 165.05 1157.55 165.12 1159.1 165.01 1160.65 164.4 1162.21 164.34 1163.76 163.59 1165.31 163.79 1166.86 162.82 1168.41 162.33 1169.96 162.65 1171.51 162.91 1173.06 162.37 1174.61 162.34 1176.16 162.45 1177.71 162.46 1179.26 162.18 1180.81 162.29 1182.36 161.77 1183.91 161.82 1185.46 162.3 1187.02 161.89 1188.57 160.74 1190.12 159.7 1191.67 159.27 1193.22 159.6 1194.77 159.65 1196.32 159.87 1197.87 160.5 1199.42 160.87 1200.97 161.3 1202.52 161.41 1204.07 161.83 1205.62 162.71 1207.17 162.46 1208.72 162.79 1210.27 162.86 1211.83 163.02 1213.38 162.95 1214.93 163.2 1216.48 163.34 1218.03 163.98 1219.58 163.8 1221.13 163.72 1222.68 164.47 1224.23 164.41 1225.78 164.82 1227.33 164.92 1228.88 164.93 1230.43 165.01 1231.98 165.14 1233.53 165.44 1235.08 166.01 1236.64 165.72 1238.19 165.7 1239.74 166.25 1241.29 166.31 1242.84 166.9 1244.39 166.74 1245.94 166.71 1247.49 166.2 1249.04 166.18 1250.59 165.85 1252.14 166.15 1253.69 165.7 1255.24 165.09 1256.79 164.42 1258.34 163.77 1259.89 163.73 1261.45 163.13 1263 163.46 1264.55 162.85 1266.1 163.08 1267.65 163.6 1269.2 163.47 1270.75 164.15 1272.3 163.3 1273.85 163.95 1275.4 163.54 1276.95 162.98 1278.5 162.57 1280.05 162.92 1281.6 162.57 1283.15 162.07 1284.7 161.87 1286.26 160.29 1287.81 159.26 1289.36 158.49 1290.91 158.13 1292.46 158.65 1294.01 159.14 1295.56 159.17 1297.11 159.5 1298.66 159.96 1300.21 160.27 1301.76 160.9 1303.31 161.39 1304.86 161.16 1306.41 161.58 1307.96 161.85 1309.51 162.11 1311.07 161.91 1312.62 162.44 1314.17 162.35 1315.72 162.96 1317.27 163.46 1318.82 163.82 1320.37 163.72 1321.92 163.51 1323.47 164.12 1325.02 164.48 1326.57 165.16 1328.12 165.26 1329.67 165.12 1331.22 165.58 1332.77 165.69 1334.32 165.49 1335.88 165.6 1337.43 165.31 1338.98 165.39 1340.53 165.74 1342.08 165.35 1343.63 165.2 1345.18 165.25 1346.73 164.61 1348.28 164.67 1349.83 164.22 1351.38 164.41 1352.93 163.25 1354.48 162.67 1356.03 162.24 1357.58 161.96 1359.13 162.17 1360.69 162.63 1362.24 162.49 1363.79 162.69 1365.34 163.27 1366.89 163.57 1368.44 163.32 1369.99 162.89 1371.54 163.25 1373.09 163.28 1374.64 163.11 1376.19 163.45 1377.74 163.39 1379.29 163.79 1380.84 164.67" stroke="#000" stroke-width="4.2" fill="none" stroke-linejoin="round"/>
</g>
<path d="M997.84 284.9V37.8M1093.98 284.9V37.8M1190.12 284.9V37.8M1286.26 284.9V37.8" stroke="#d3d3d3" stroke-width="3.7" stroke-dasharray="13.3 5.6" fill="none"/>
<path d="M901.7 37.8H1397.9V284.9H901.7" stroke="#555555" stroke-width="1.2" fill="none"/>
<path d="M901.7 37.8V284.9" stroke="#6a6a6a" stroke-width="1.8" fill="none"/>
<path d="M898.5 284.9H901.7M898.5 243.72H901.7M898.5 202.53H901.7M898.5 161.35H901.7M898.5 120.17H901.7M898.5 78.98H901.7M898.5 37.8H901.7M900.1 276.66H901.7M900.1 268.43H901.7M900.1 260.19H901.7M900.1 251.95H901.7M900.1 235.48H901.7M900.1 227.24H901.7M900.1 219.01H901.7M900.1 210.77H901.7M900.1 194.3H901.7M900.1 186.06H901.7M900.1 177.82H901.7M900.1 169.59H901.7M900.1 153.11H901.7M900.1 144.88H901.7M900.1 136.64H901.7M900.1 128.4H901.7M900.1 111.93H901.7M900.1 103.69H901.7M900.1 95.46H901.7M900.1 87.22H901.7M900.1 70.75H901.7M900.1 62.51H901.7M900.1 54.27H901.7M900.1 46.04H901.7" stroke="#555555" stroke-width="1" fill="none"/>
<text x="896.8" y="289.7" font-size="13.2" text-anchor="end">150</text>
<text x="896.8" y="248.52" font-size="13.2" text-anchor="end">160</text>
<text x="896.8" y="207.34" font-size="13.2" text-anchor="end">170</text>
<text x="896.8" y="166.15" font-size="13.2" text-anchor="end">180</text>
<text x="896.8" y="124.97" font-size="13.2" text-anchor="end">190</text>
<text x="896.8" y="83.79" font-size="13.2" text-anchor="end">200</text>
<text x="896.8" y="42.6" font-size="13.2" text-anchor="end">210</text>
<path d="M901.7 284.9V288.1M979.23 284.9V288.1M1056.76 284.9V288.1M1134.29 284.9V288.1M1211.83 284.9V288.1M1289.36 284.9V288.1M1366.89 284.9V288.1M917.21 284.9V286.5M932.71 284.9V286.5M948.22 284.9V286.5M963.73 284.9V286.5M994.74 284.9V286.5M1010.24 284.9V286.5M1025.75 284.9V286.5M1041.26 284.9V286.5M1072.27 284.9V286.5M1087.78 284.9V286.5M1103.28 284.9V286.5M1118.79 284.9V286.5M1149.8 284.9V286.5M1165.31 284.9V286.5M1180.81 284.9V286.5M1196.32 284.9V286.5M1227.33 284.9V286.5M1242.84 284.9V286.5M1258.34 284.9V286.5M1273.85 284.9V286.5M1304.86 284.9V286.5M1320.37 284.9V286.5M1335.88 284.9V286.5M1351.38 284.9V286.5M1382.39 284.9V286.5M1397.9 284.9V286.5" stroke="#555555" stroke-width="1" fill="none"/>
<text x="901.7" y="304.2" font-size="13.3" text-anchor="middle">1700</text>
<text x="979.23" y="304.2" font-size="13.3" text-anchor="middle">1750</text>
<text x="1056.76" y="304.2" font-size="13.3" text-anchor="middle">1800</text>
<text x="1134.29" y="304.2" font-size="13.3" text-anchor="middle">1850</text>
<text x="1211.83" y="304.2" font-size="13.3" text-anchor="middle">1900</text>
<text x="1289.36" y="304.2" font-size="13.3" text-anchor="middle">1950</text>
<text x="1366.89" y="304.2" font-size="13.3" text-anchor="middle">2000</text>
<text x="1149.8" y="29.7" font-size="17.8" text-anchor="middle">OMIP1 Global Mean Dissolved Oxygen 0-700m</text>
<text x="863.3" y="161.35" font-size="15.5" text-anchor="middle" transform="rotate(-90 863.3 161.35)">mmol/m<tspan font-size="11.78" dy="-7.28">3</tspan></text>
<clipPath id="c3"><rect x="72.4" y="355.4" width="497.2" height="246.9"/></clipPath>
<path d="M139.59 355.4V602.3M206.78 355.4V602.3M273.97 355.4V602.3M341.16 355.4V602.3M408.35 355.4V602.3M475.54 355.4V602.3M542.72 355.4V602.3M72.4 552.92H569.6M72.4 503.54H569.6M72.4 454.16H569.6M72.4 404.78H569.6" stroke="#ebebeb" stroke-width="1" fill="none"/>
<g clip-path="url(#c3)">
<path d="M76.43 465.28 77.78 465.3 79.12 466.08 80.46 466.78 81.81 467.39 83.15 467.57 84.49 467.73 85.84 468.16 87.18 468.57 88.53 468.3 89.87 467.76 91.21 467.24 92.56 467.78 93.9 467.59 95.24 467.74 96.59 467.45 97.93 465.92 99.28 466.02 100.62 466.07 101.96 465.73 103.31 465.36 104.65 464.65 105.99 463.43 107.34 461.9 108.68 462.45 110.03 462.7 111.37 462.25 112.71 461.69 114.06 461.17 115.4 460.89 116.74 461.13 118.09 459.51 119.43 458.97 120.78 457.69 122.12 457.36 123.46 456.73 124.81 457.24 126.15 456.32 127.5 454.47 128.84 453.98 130.18 453.77 131.53 453.23 132.87 453.18 134.21 451.36 135.56 451.23 136.9 450.76 138.25 449.59 139.59 448.85 140.93 448.06 142.28 447.45 143.62 445.42 144.96 445.14 146.31 443.53 147.65 443.16 149 441.46 150.34 441.85 151.68 441.35 153.03 440.6 154.37 440.2 155.71 439.33 157.06 439.62 158.4 439.99 159.75 439.83 161.09 439.55 162.43 440.98 163.78 440.71 165.12 441.58 166.46 442.54 167.81 442.35 169.15 442.32 170.5 441.65 171.84 440.51 173.18 441.34 174.53 440.37 175.87 440.13 177.22 439.46 178.56 439.28 179.9 439.18 181.25 439.01 182.59 438.13 183.93 437.28 185.28 438.05 186.62 437.09 187.97 437.43 189.31 436.73 190.65 437.09 192 435.23 193.34 434.85 194.68 434.62 196.03 434.82 197.37 434.24 198.72 433.33 200.06 433.6 201.4 433.45 202.75 433.15 204.09 433.01 205.43 431.22 206.78 431.47 208.12 430.54 209.47 430.11 210.81 429.39 212.15 430.06 213.5 429.51 214.84 429.19 216.18 428.01 217.53 427.23 218.87 426.97 220.22 425.53 221.56 426.38 222.9 425.31 224.25 424.25 225.59 423.91 226.94 422.97 228.28 421.37 229.62 420.76 230.97 419.76 232.31 420.1 233.65 419.43 235 417.38 236.34 416.3 237.69 416.55 239.03 417 240.37 418.9 241.72 419.44 243.06 420.54 244.4 422.24 245.75 422.44 247.09 422.42 248.44 423.83 249.78 423.27 251.12 423.7 252.47 423.95 253.81 423.58 255.15 423.54 256.5 424.33 257.84 424.17 259.19 423.76 260.53 424.3 261.87 423.12 263.22 423.05 264.56 421.97 265.9 422.01 267.25 422.96 268.59 423.49 269.94 423.6 271.28 422.8 272.62 422.2 273.97 422.18 275.31 420.87 276.66 420.94 278 421.02 279.34 420.69 280.69 420.1 282.03 419.99 283.37 419.44 284.72 419.61 286.06 419.87 287.41 419.98 288.75 419.1 290.09 418.59 291.44 418.35 292.78 417.65 294.12 417.45 295.47 416.29 296.81 416.19 298.16 416.32 299.5 416.24 300.84 416.12 302.19 416.42 303.53 415.9 304.87 415.16 306.22 415.26 307.56 415.07 308.91 414.72 310.25 414.37 311.59 414.04 312.94 413.76 314.28 413.3 315.62 412.15 316.97 412.23 318.31 413.25 319.66 413.12 321 412.44 322.34 412.7 323.69 414.16 325.03 416.26 326.38 415.85 327.72 416.97 329.06 417.31 330.41 417.65 331.75 417.44 333.09 419.84 334.44 420.59 335.78 420.5 337.13 419.56 338.47 419.34 339.81 418.1 341.16 417.01 342.5 417.58 343.84 417.4 345.19 417.08 346.53 417.27 347.88 418.06 349.22 417.96 350.56 417.61 351.91 417.76 353.25 416.77 354.59 417.12 355.94 417.08 357.28 417.15 358.63 417.54 359.97 417.45 361.31 417.08 362.66 416.89 364 417.04 365.34 418.1 366.69 416.87 368.03 417.32 369.38 416.53 370.72 416.2 372.06 416.51 373.41 417.22 374.75 416.61 376.1 416.35 377.44 416.97 378.78 415.96 380.13 417.55 381.47 416.8 382.81 416.01 384.16 416.6 385.5 415.23 386.85 414.5 388.19 413.98 389.53 413.49 390.88 413.4 392.22 412.84 393.56 413.57 394.91 413.66 396.25 413.14 397.6 412.94 398.94 412.56 400.28 411.09 401.63 410.75 402.97 411.78 404.31 411.73 405.66 413.97 407 414.1 408.35 415.01 409.69 415.04 411.03 415.85 412.38 416.91 413.72 417.86 415.06 418.39 416.41 418.41 417.75 418.79 419.1 419.83 420.44 420.58 421.78 420.52 423.13 419.82 424.47 420.11 425.82 419.81 427.16 418.81 428.5 418.85 429.85 419.96 431.19 419.43 432.53 420.1 433.88 419.98 435.22 419.99 436.57 419.89 437.91 419.57 439.25 420.49 440.6 419.22 441.94 418.48 443.28 418.9 444.63 419.47 445.97 419.29 447.32 418.84 448.66 419.41 450 419.39 451.35 420.13 452.69 420.5 454.03 420.29 455.38 420.12 456.72 419.47 458.07 419.96 459.41 419.28 460.75 419.07 462.1 417.74 463.44 418.66 464.78 418.05 466.13 417.58 467.47 417.42 468.82 418.16 470.16 418.01 471.5 417.59 472.85 417.59 474.19 417.5 475.54 416.42 476.88 416.36 478.22 416.66 479.57 415.47 480.91 415.78 482.25 415.3 483.6 415.06 484.94 415.91 486.29 417.37 487.63 419.02 488.97 419.19 490.32 419.22 491.66 420.3 493 420.69 494.35 420.86 495.69 421.23 497.04 422.07 498.38 422.26 499.72 422.53 501.07 422.66 502.41 423.11 503.75 422.32 505.1 422.96 506.44 422.75 507.79 423.36 509.13 423.14 510.47 422.3 511.82 423.21 513.16 423.42 514.5 423.47 515.85 422.89 517.19 423.68 518.54 423.11 519.88 423.97 521.22 423.66 522.57 424.3 523.91 423.33 525.26 422.29 526.6 421.99 527.94 422.19 529.29 422.11 530.63 422.21 531.97 422.9 533.32 423.37 534.66 423.88 536.01 423.95 537.35 424.65 538.69 425.42 540.04 424.82 541.38 425.48 542.72 424.34 544.07 424.98 545.41 424.43 546.76 423.56 548.1 422.9 549.44 421.97 550.79 422.11 552.13 421.86 553.47 422.46 554.82 421.27 556.16 422.13 557.51 421.59 558.85 420.74 560.19 419.85 561.54 420.77 562.88 420.29 564.22 420.1 565.57 420.2 566.91 419.4" stroke="#ff00ff" stroke-width="2.4" fill="none" stroke-linejoin="round"/>
<path d="M76.43 464.45 77.78 463.27 79.12 462.36 80.46 462.19 81.81 462.54 83.15 461.73 84.49 462.44 85.84 462.24 87.18 462.26 88.53 461.81 89.87 461.7 91.21 461.22 92.56 458.88 93.9 459.63 95.24 459.43 96.59 458.68 97.93 459.26 99.28 458.64 100.62 458.35 101.96 457 103.31 456.75 104.65 456 105.99 454.99 107.34 454.68 108.68 453.97 110.03 452.19 111.37 452.1 112.71 451.96 114.06 452.29 115.4 452.26 116.74 450.66 118.09 450.54 119.43 448.75 120.78 448.44 122.12 448.83 123.46 448.48 124.81 447.07 126.15 447.56 127.5 447.05 128.84 446.52 130.18 446.37 131.53 446.17 132.87 445.15 134.21 444.67 135.56 443.39 136.9 442.75 138.25 442.18 139.59 441.67 140.93 441.07 142.28 439.85 143.62 439.92 144.96 439.35 146.31 437.85 147.65 436.73 149 436.67 150.34 436.01 151.68 436.07 153.03 435.91 154.37 434.74 155.71 433.07 157.06 434.54 158.4 437.03 159.75 438.87 161.09 438.64 162.43 439.04 163.78 440.26 165.12 441.12 166.46 442.19 167.81 441.09 169.15 441.07 170.5 441.57 171.84 440.26 173.18 440.16 174.53 440.19 175.87 439.69 177.22 439.2 178.56 439.17 179.9 439.45 181.25 439.27 182.59 438.36 183.93 438.39 185.28 437.48 186.62 437.06 187.97 436.38 189.31 436.38 190.65 436.16 192 434.86 193.34 434.4 194.68 434.14 196.03 433.64 197.37 434.38 198.72 434.72 200.06 434.33 201.4 435.03 202.75 434.43 204.09 433.68 205.43 434.29 206.78 433.76 208.12 433.75 209.47 432.93 210.81 431.82 212.15 431.43 213.5 431.07 214.84 430.11 216.18 430.65 217.53 428.53 218.87 428.83 220.22 429.02 221.56 428.69 222.9 428.61 224.25 429.03 225.59 428.27 226.94 427.26 228.28 426.82 229.62 427.71 230.97 427.8 232.31 425.9 233.65 425.86 235 425.12 236.34 426.05 237.69 425.9 239.03 424.52 240.37 426.65 241.72 427.07 243.06 427.99 244.4 427.98 245.75 428.92 247.09 429.76 248.44 429.87 249.78 430.51 251.12 430.83 252.47 432.88 253.81 433.85 255.15 433.2 256.5 432.5 257.84 432.43 259.19 431.56 260.53 432.16 261.87 431.31 263.22 431.5 264.56 431.13 265.9 431.6 267.25 431.68 268.59 431.15 269.94 430.35 271.28 429.62 272.62 430.33 273.97 430.16 275.31 430.17 276.66 429.66 278 428.63 279.34 428.76 280.69 428.69 282.03 428.47 283.37 427.61 284.72 427.17 286.06 426.61 287.41 427.05 288.75 426.92 290.09 426.51 291.44 426.85 292.78 426.32 294.12 427.42 295.47 426.72 296.81 426.93 298.16 425.69 299.5 425.15 300.84 425.51 302.19 424.41 303.53 423.94 304.87 424.26 306.22 423.67 307.56 423.94 308.91 423.95 310.25 423.4 311.59 422.41 312.94 422.89 314.28 422.96 315.62 422.1 316.97 421.93 318.31 422.02 319.66 421.66 321 421.12 322.34 420.42 323.69 423.35 325.03 424.99 326.38 426.11 327.72 427.66 329.06 428.59 330.41 430.52 331.75 430.06 333.09 430.58 334.44 430.54 335.78 430.5 337.13 430.62 338.47 431.22 339.81 430.73 341.16 430.27 342.5 430.13 343.84 429.6 345.19 428.41 346.53 428.66 347.88 427.94 349.22 428.4 350.56 428.5 351.91 429.03 353.25 428.5 354.59 429.4 355.94 428.82 357.28 428.15 358.63 427.74 359.97 427.84 361.31 429.15 362.66 429.43 364 428.86 365.34 429.5 366.69 429.3 368.03 428.16 369.38 427.22 370.72 427.16 372.06 427.75 373.41 428.07 374.75 427.89 376.1 427.29 377.44 427.51 378.78 427.13 380.13 428.63 381.47 427.57 382.81 426.78 384.16 427.66 385.5 426.63 386.85 426.22 388.19 425.7 389.53 426.04 390.88 426.13 392.22 425.75 393.56 424.17 394.91 422.58 396.25 423.81 397.6 422.47 398.94 421.42 400.28 421.97 401.63 421.65 402.97 422.39 404.31 424.48 405.66 427.26 407 428.85 408.35 428.6 409.69 429.43 411.03 428.97 412.38 428.22 413.72 429.07 415.06 430.79 416.41 430.96 417.75 431.27 419.1 430.67 420.44 431.93 421.78 431.51 423.13 430.82 424.47 430.78 425.82 429.81 427.16 430.17 428.5 430.09 429.85 430.48 431.19 429.36 432.53 430.15 433.88 429.46 435.22 429.3 436.57 429.52 437.91 429.64 439.25 430.09 440.6 429.32 441.94 429.64 443.28 429.79 444.63 429.89 445.97 430.07 447.32 429.97 448.66 430.23 450 430.19 451.35 429.8 452.69 428.94 454.03 428.94 455.38 429.72 456.72 429.42 458.07 430.07 459.41 430.2 460.75 430.65 462.1 428.87 463.44 429.01 464.78 427.81 466.13 427.98 467.47 427.62 468.82 427.02 470.16 427 471.5 426.47 472.85 426.35 474.19 426.13 475.54 424.93 476.88 425.75 478.22 424.36 479.57 423.74 480.91 423.28 482.25 423.09 483.6 423.49 484.94 426.95 486.29 428.88 487.63 429.1 488.97 429.44 490.32 430.43 491.66 431.31 493 431.98 494.35 432.24 495.69 433.06 497.04 433.17 498.38 433.1 499.72 435.37 501.07 435.53 502.41 434.94 503.75 434.92 505.1 434.89 506.44 434 507.79 434.38 509.13 433.56 510.47 433.31 511.82 432.57 513.16 433.54 514.5 431.98 515.85 431.91 517.19 431.44 518.54 431.81 519.88 432.16 521.22 432.49 522.57 431.82 523.91 431.63 525.26 432.01 526.6 431.61 527.94 431.79 529.29 433.19 530.63 431.48 531.97 431.28 533.32 431.5 534.66 430.87 536.01 431.51 537.35 430.92 538.69 430.72 540.04 431.04 541.38 431.15 542.72 431.69 544.07 431.62 545.41 430.85 546.76 431.18 548.1 429.96 549.44 429.52 550.79 429.09 552.13 428.48 553.47 427.37 554.82 428.04 556.16 427.17 557.51 427.22 558.85 427.09 560.19 426.39 561.54 426.13 562.88 426.09 564.22 426.37 565.57 425.53 566.91 425.51" stroke="#ff0000" stroke-width="2.4" fill="none" stroke-linejoin="round"/>
<path d="M76.43 463.89 77.78 464.22 79.12 464.76 80.46 464.18 81.81 466.45 83.15 466.26 84.49 467.93 85.84 468.58 87.18 468.99 88.53 469.52 89.87 469.75 91.21 469.88 92.56 469.89 93.9 471.84 95.24 471.5 96.59 471.96 97.93 472.63 99.28 473.2 100.62 472.88 101.96 473.37 103.31 472.68 104.65 472.14 105.99 473.07 107.34 472.86 108.68 472.97 110.03 473.71 111.37 473.81 112.71 473.99 114.06 474.31 115.4 474.76 116.74 475.75 118.09 476.38 119.43 476.63 120.78 475.52 122.12 475.82 123.46 476.48 124.81 476.24 126.15 476.13 127.5 476.25 128.84 476.02 130.18 476.4 131.53 476.22 132.87 476.59 134.21 476.08 135.56 476.13 136.9 475.98 138.25 474.95 139.59 475.72 140.93 475.51 142.28 474.84 143.62 474 144.96 474.4 146.31 474.03 147.65 473.78 149 473.44 150.34 472.56 151.68 472.14 153.03 471.91 154.37 472.67 155.71 471.9 157.06 472.37 158.4 474.71 159.75 476.24 161.09 476.27 162.43 476.93 163.78 478.68 165.12 478.44 166.46 478.61 167.81 478.98 169.15 478.82 170.5 478.7 171.84 478.88 173.18 478.49 174.53 479.44 175.87 478.93 177.22 478.69 178.56 478.45 179.9 477.58 181.25 477.59 182.59 477.75 183.93 477.38 185.28 477.16 186.62 477.44 187.97 476.48 189.31 476.23 190.65 475.9 192 475.88 193.34 475.44 194.68 475.32 196.03 474.72 197.37 475.24 198.72 474.58 200.06 473.85 201.4 473.8 202.75 474.44 204.09 473.39 205.43 472.6 206.78 472.59 208.12 472.43 209.47 472.47 210.81 472.46 212.15 473.38 213.5 472.62 214.84 472.04 216.18 471.45 217.53 471.63 218.87 472.57 220.22 471.75 221.56 471.45 222.9 471.92 224.25 472.08 225.59 472.8 226.94 471.76 228.28 471.57 229.62 472.22 230.97 471.49 232.31 472.03 233.65 471.06 235 470.66 236.34 470.28 237.69 469.92 239.03 470.03 240.37 472.24 241.72 473.75 243.06 475 244.4 474.95 245.75 475.63 247.09 475.24 248.44 476.41 249.78 478.29 251.12 477.96 252.47 478.31 253.81 478 255.15 478.32 256.5 478.54 257.84 478.19 259.19 479.4 260.53 478.51 261.87 477.47 263.22 476.62 264.56 477.07 265.9 476.56 267.25 476.14 268.59 475.87 269.94 475 271.28 474.7 272.62 474.61 273.97 475.15 275.31 475.44 276.66 476.18 278 476.17 279.34 475.83 280.69 474.95 282.03 474.58 283.37 474.56 284.72 475.48 286.06 474.24 287.41 473.89 288.75 474.06 290.09 473.92 291.44 473.95 292.78 473.47 294.12 473.71 295.47 473.74 296.81 472.84 298.16 471.83 299.5 471.63 300.84 471.86 302.19 472.08 303.53 472.2 304.87 470.79 306.22 471.78 307.56 471.1 308.91 471.12 310.25 470.61 311.59 471.75 312.94 470.91 314.28 470.58 315.62 469.86 316.97 470.4 318.31 470.49 319.66 470.15 321 470.32 322.34 469.73 323.69 470.89 325.03 472.78 326.38 474.77 327.72 475.65 329.06 476.37 330.41 476.78 331.75 477.99 333.09 478.8 334.44 479.55 335.78 479.62 337.13 479.66 338.47 478.5 339.81 478.56 341.16 478.51 342.5 478.15 343.84 477.87 345.19 476.66 346.53 476.79 347.88 476.02 349.22 475.32 350.56 475.51 351.91 475.9 353.25 475.21 354.59 474.59 355.94 476.01 357.28 475.67 358.63 475.57 359.97 475.08 361.31 475.11 362.66 475.06 364 475.16 365.34 474.72 366.69 474.45 368.03 474.67 369.38 475.01 370.72 473.81 372.06 473.33 373.41 473.75 374.75 473.42 376.1 473.96 377.44 473.71 378.78 474 380.13 473.63 381.47 473.55 382.81 473.01 384.16 473.28 385.5 473.72 386.85 472.34 388.19 471.91 389.53 472.87 390.88 472.41 392.22 473.05 393.56 473.04 394.91 472.92 396.25 471.98 397.6 472.27 398.94 472.23 400.28 471.69 401.63 471.83 402.97 472.21 404.31 472.76 405.66 473.79 407 475.18 408.35 476.46 409.69 476.63 411.03 478.38 412.38 479.59 413.72 480.58 415.06 480.8 416.41 481.84 417.75 481.14 419.1 480.92 420.44 480.34 421.78 480.32 423.13 480.32 424.47 479.95 425.82 478.55 427.16 478.84 428.5 479.78 429.85 477.33 431.19 478.49 432.53 477.9 433.88 476.49 435.22 475.47 436.57 475.71 437.91 476 439.25 475.12 440.6 475.27 441.94 476.46 443.28 475.98 444.63 475.2 445.97 474.51 447.32 474.53 448.66 474.94 450 474.78 451.35 474.75 452.69 475.14 454.03 475.34 455.38 475.01 456.72 474.45 458.07 474.25 459.41 473.78 460.75 474.33 462.1 474.27 463.44 474.09 464.78 473.95 466.13 473.97 467.47 474.72 468.82 475.04 470.16 475.67 471.5 474.21 472.85 473.14 474.19 473.73 475.54 474.41 476.88 473.63 478.22 472.47 479.57 471.91 480.91 471.15 482.25 471.12 483.6 472.59 484.94 473.54 486.29 475.87 487.63 476.26 488.97 477.49 490.32 478.33 491.66 479 493 479.88 494.35 480.78 495.69 481.09 497.04 480.77 498.38 481.15 499.72 481.11 501.07 480 502.41 479.7 503.75 479.25 505.1 479.4 506.44 478.97 507.79 478.79 509.13 478.85 510.47 478.29 511.82 478.73 513.16 477.84 514.5 477.66 515.85 476.74 517.19 476.51 518.54 476.36 519.88 477.24 521.22 476.53 522.57 475.71 523.91 475.8 525.26 475.94 526.6 475.73 527.94 475.91 529.29 475.73 530.63 475.12 531.97 476.18 533.32 476.24 534.66 476.08 536.01 475.87 537.35 476.19 538.69 475.8 540.04 475.89 541.38 475.67 542.72 476.22 544.07 474.86 545.41 474.1 546.76 473.06 548.1 473.22 549.44 473.06 550.79 473.54 552.13 473.84 553.47 473.7 554.82 473.95 556.16 472.8 557.51 472.39 558.85 471.96 560.19 472.54 561.54 471.77 562.88 472.73 564.22 473.44 565.57 472.02 566.91 471.98" stroke="#fa7410" stroke-width="2.4" fill="none" stroke-linejoin="round"/>
<path d="M76.43 464.42 77.78 464.36 79.12 463.78 80.46 463.78 81.81 462.96 83.15 462.05 84.49 462.55 85.84 461.43 87.18 461.42 88.53 461.46 89.87 460.44 91.21 460.44 92.56 458.69 93.9 457.17 95.24 456.02 96.59 455.51 97.93 454.63 99.28 452.74 100.62 452.4 101.96 451.96 103.31 450.39 104.65 449.37 105.99 449.32 107.34 448.43 108.68 447.42 110.03 447.67 111.37 445.92 112.71 444.63 114.06 442.9 115.4 442.48 116.74 442.56 118.09 441.17 119.43 439.9 120.78 438.41 122.12 437.59 123.46 436.46 124.81 435.96 126.15 434.48 127.5 433.04 128.84 431.63 130.18 430.98 131.53 429.71 132.87 429.1 134.21 428.22 135.56 427.59 136.9 427.22 138.25 425.46 139.59 424.77 140.93 423.62 142.28 422.18 143.62 420.75 144.96 419.47 146.31 418.68 147.65 418.59 149 417.9 150.34 418.15 151.68 415.43 153.03 415.94 154.37 414.64 155.71 413.15 157.06 413.17 158.4 413.48 159.75 413.59 161.09 413.9 162.43 415.68 163.78 415.97 165.12 416.68 166.46 415.95 167.81 416.97 169.15 417.37 170.5 417.17 171.84 417.7 173.18 416.79 174.53 415.79 175.87 415.63 177.22 414.68 178.56 414.61 179.9 413.37 181.25 413.1 182.59 412.25 183.93 411.46 185.28 410.92 186.62 410.43 187.97 409.94 189.31 409 190.65 407.42 192 407.57 193.34 408.09 194.68 407.09 196.03 406.53 197.37 404.79 198.72 405.22 200.06 405.63 201.4 405.09 202.75 405.67 204.09 404.69 205.43 404.39 206.78 402.68 208.12 403.2 209.47 403.23 210.81 402.03 212.15 401.29 213.5 400.86 214.84 401 216.18 400.34 217.53 399.71 218.87 398.56 220.22 397.84 221.56 397.08 222.9 397.58 224.25 396.36 225.59 394.15 226.94 394.39 228.28 393.82 229.62 394.46 230.97 394.52 232.31 392.14 233.65 391.1 235 391.24 236.34 392.08 237.69 390.38 239.03 389.44 240.37 390.67 241.72 391.97 243.06 392.67 244.4 394.12 245.75 394.61 247.09 396.56 248.44 396.95 249.78 397.81 251.12 399.13 252.47 398.2 253.81 397.7 255.15 398.27 256.5 397.73 257.84 397.69 259.19 397.14 260.53 396.9 261.87 396.97 263.22 396.67 264.56 395.84 265.9 395.42 267.25 396.23 268.59 395.13 269.94 396.01 271.28 395.11 272.62 394.2 273.97 393.67 275.31 394.53 276.66 393.81 278 393.41 279.34 393.7 280.69 393.58 282.03 392.93 283.37 393.72 284.72 392.9 286.06 393.02 287.41 394.02 288.75 392.16 290.09 390.87 291.44 392.21 292.78 392.34 294.12 391.51 295.47 390.11 296.81 390.07 298.16 389.35 299.5 388.95 300.84 388.51 302.19 388.48 303.53 389.01 304.87 387.67 306.22 386.24 307.56 386.99 308.91 385.13 310.25 384.79 311.59 384.81 312.94 384.54 314.28 384.24 315.62 383.72 316.97 384.27 318.31 383.8 319.66 383.22 321 383.34 322.34 384.42 323.69 385.38 325.03 387.07 326.38 387.68 327.72 389.82 329.06 391 330.41 391.15 331.75 392.44 333.09 393 334.44 394.12 335.78 393.42 337.13 394.48 338.47 394.92 339.81 394.72 341.16 394.85 342.5 394.3 343.84 394.14 345.19 393.75 346.53 394.42 347.88 393.98 349.22 394.1 350.56 393.47 351.91 393.43 353.25 392.81 354.59 392.35 355.94 392.35 357.28 391.96 358.63 391.27 359.97 390.65 361.31 391.24 362.66 391.65 364 391.99 365.34 392.08 366.69 391.88 368.03 391.28 369.38 391.82 370.72 390.84 372.06 389.89 373.41 389.44 374.75 389.7 376.1 390.04 377.44 389.01 378.78 388.83 380.13 389.08 381.47 388.95 382.81 388.39 384.16 387.53 385.5 387.54 386.85 388.07 388.19 388.61 389.53 388.75 390.88 388.89 392.22 388.67 393.56 387.77 394.91 386.51 396.25 387.06 397.6 386.76 398.94 386.79 400.28 385.6 401.63 384.84 402.97 384.76 404.31 385.98 405.66 387.35 407 389.59 408.35 391.33 409.69 392.13 411.03 392.13 412.38 393.34 413.72 393.32 415.06 394.99 416.41 393.82 417.75 395.15 419.1 396.23 420.44 396.54 421.78 396.89 423.13 397.43 424.47 397.21 425.82 396.59 427.16 395.85 428.5 395.64 429.85 395.17 431.19 397.57 432.53 396.6 433.88 395.89 435.22 395.35 436.57 396.04 437.91 395.55 439.25 395.35 440.6 393.67 441.94 393.47 443.28 393.87 444.63 393.86 445.97 393.68 447.32 393.96 448.66 394.17 450 395.69 451.35 394.18 452.69 394.09 454.03 394.7 455.38 394.24 456.72 394.4 458.07 393.54 459.41 394.09 460.75 394.25 462.1 393.94 463.44 393.77 464.78 392.38 466.13 391.8 467.47 392.7 468.82 392.14 470.16 391.91 471.5 392.32 472.85 392.44 474.19 392.29 475.54 392.7 476.88 391.26 478.22 390.85 479.57 390.46 480.91 390.49 482.25 390.61 483.6 391.2 484.94 392.07 486.29 393.12 487.63 394.15 488.97 396.19 490.32 396.31 491.66 397.63 493 396.6 494.35 397.4 495.69 398.77 497.04 399.36 498.38 401.29 499.72 402.41 501.07 402.17 502.41 401.58 503.75 401.38 505.1 401.47 506.44 401.41 507.79 402.26 509.13 402.76 510.47 402.98 511.82 402.66 513.16 402.73 514.5 403.83 515.85 404.93 517.19 403.45 518.54 402.64 519.88 402.09 521.22 401.95 522.57 401.86 523.91 401.33 525.26 400.14 526.6 400.25 527.94 400.71 529.29 400.44 530.63 399.85 531.97 399.46 533.32 400.18 534.66 401.02 536.01 401.04 537.35 401.16 538.69 400.66 540.04 400.89 541.38 399.98 542.72 400.57 544.07 399.48 545.41 398.89 546.76 398.11 548.1 399.03 549.44 399 550.79 399.09 552.13 398.93 553.47 398.34 554.82 398.03 556.16 398.82 557.51 398.75 558.85 398.39 560.19 397.7 561.54 397.36 562.88 396.76 564.22 396.31 565.57 396.77 566.91 396.66" stroke="#0000ff" stroke-width="3.3" fill="none" stroke-linejoin="round" stroke-dasharray="10.6 4.3"/>
<path d="M76.43 461.43 77.78 456.84 79.12 453.48 80.46 450.43 81.81 449.46 83.15 448.96 84.49 448.36 85.84 448.59 87.18 448.83 88.53 446.68 89.87 445.9 91.21 446.06 92.56 447.13 93.9 446.16 95.24 444.74 96.59 443.47 97.93 443.25 99.28 443.08 100.62 442.35 101.96 440.86 103.31 440.74 104.65 440.53 105.99 439.45 107.34 438.17 108.68 437.16 110.03 437.22 111.37 437.03 112.71 436.4 114.06 437.56 115.4 437.64 116.74 437.3 118.09 436.42 119.43 436.43 120.78 436.39 122.12 435.91 123.46 435.2 124.81 436.28 126.15 435.41 127.5 433.99 128.84 433.5 130.18 433.7 131.53 434.26 132.87 433.13 134.21 433.09 135.56 432.32 136.9 432.78 138.25 432 139.59 431.92 140.93 433.15 142.28 432.08 143.62 432.69 144.96 431.2 146.31 431.21 147.65 431.19 149 431.76 150.34 430.6 151.68 430.01 153.03 429.85 154.37 428.98 155.71 429.18 157.06 429.2 158.4 430.17 159.75 431.15 161.09 432.77 162.43 433.94 163.78 433.89 165.12 434.8 166.46 434.93 167.81 435.27 169.15 436.47 170.5 437.05 171.84 436.44 173.18 436.3 174.53 436.89 175.87 436.53 177.22 435.03 178.56 434.57 179.9 434.14 181.25 433.8 182.59 434.06 183.93 431.89 185.28 430.78 186.62 430.51 187.97 429.99 189.31 429.94 190.65 428.8 192 429.75 193.34 429.4 194.68 429.08 196.03 428.09 197.37 428.27 198.72 428.61 200.06 428.63 201.4 428.12 202.75 427.01 204.09 427.32 205.43 427.56 206.78 427.53 208.12 428.12 209.47 428.88 210.81 428.38 212.15 428.5 213.5 427.75 214.84 426.18 216.18 426 217.53 426.1 218.87 425.7 220.22 424.78 221.56 425.93 222.9 426.13 224.25 425.76 225.59 424.64 226.94 423.63 228.28 424.1 229.62 423.39 230.97 422.23 232.31 421.88 233.65 421.84 235 421.28 236.34 421.65 237.69 421.32 239.03 421.71 240.37 424.19 241.72 425.22 243.06 427.82 244.4 427.49 245.75 427.51 247.09 428.84 248.44 429.74 249.78 430.32 251.12 429.8 252.47 429.66 253.81 430.56 255.15 431.13 256.5 430.78 257.84 429.73 259.19 429.55 260.53 429.3 261.87 428.62 263.22 428.39 264.56 428.94 265.9 429.02 267.25 428.86 268.59 427.87 269.94 428.28 271.28 428.36 272.62 428.36 273.97 429.27 275.31 428.23 276.66 427.14 278 426.73 279.34 426.01 280.69 425.62 282.03 426.11 283.37 425.4 284.72 425.14 286.06 424.17 287.41 423.66 288.75 424.21 290.09 423.98 291.44 424.08 292.78 423.82 294.12 422.77 295.47 421.62 296.81 421.94 298.16 423.19 299.5 422.32 300.84 422.52 302.19 421.63 303.53 420.44 304.87 421.1 306.22 420.75 307.56 420.5 308.91 420.48 310.25 419.55 311.59 419.54 312.94 419.77 314.28 419.22 315.62 418.55 316.97 418.78 318.31 418.96 319.66 419.61 321 419.54 322.34 418.45 323.69 419.39 325.03 420.28 326.38 422.05 327.72 423.34 329.06 422.24 330.41 423.93 331.75 424.09 333.09 424.69 334.44 425.92 335.78 427.12 337.13 427.07 338.47 426.32 339.81 425.61 341.16 425.76 342.5 424.61 343.84 423.65 345.19 423.42 346.53 423.84 347.88 422.25 349.22 422.63 350.56 422.6 351.91 422.12 353.25 422.98 354.59 422.69 355.94 422.77 357.28 421.84 358.63 422.61 359.97 420.92 361.31 421.25 362.66 420.38 364 420.01 365.34 419.6 366.69 420.84 368.03 420.98 369.38 420.15 370.72 420.77 372.06 420.04 373.41 420.16 374.75 419.42 376.1 419.24 377.44 419.83 378.78 419.34 380.13 419.2 381.47 419.17 382.81 419.3 384.16 418.67 385.5 418.16 386.85 418.16 388.19 418.33 389.53 418.07 390.88 417.64 392.22 417.12 393.56 416.69 394.91 416.65 396.25 416.35 397.6 416.53 398.94 415.51 400.28 415.98 401.63 415.59 402.97 416.91 404.31 417.87 405.66 417.92 407 418.19 408.35 418.22 409.69 418.84 411.03 418.53 412.38 419.91 413.72 420.72 415.06 421.71 416.41 422.3 417.75 423.77 419.1 424.6 420.44 424.09 421.78 423.88 423.13 422.85 424.47 422.89 425.82 423.1 427.16 423.45 428.5 422.95 429.85 422.3 431.19 421.61 432.53 421.22 433.88 421.14 435.22 420.2 436.57 420.37 437.91 419.99 439.25 419.11 440.6 418.09 441.94 417.51 443.28 418.04 444.63 417.57 445.97 418.09 447.32 418.4 448.66 418.93 450 419.09 451.35 419.13 452.69 417.19 454.03 417.61 455.38 417.67 456.72 417.44 458.07 417.58 459.41 418.16 460.75 417.58 462.1 416.58 463.44 416 464.78 415.77 466.13 416.7 467.47 416.36 468.82 416.43 470.16 416.5 471.5 416.55 472.85 415.84 474.19 415.96 475.54 415.85 476.88 415.23 478.22 415.54 479.57 415.77 480.91 416 482.25 415.27 483.6 414.41 484.94 415.24 486.29 417.38 487.63 417.43 488.97 418.27 490.32 419.49 491.66 420.42 493 421.48 494.35 421.54 495.69 421.63 497.04 421.13 498.38 422.62 499.72 423.4 501.07 425.46 502.41 424.66 503.75 424.7 505.1 423.63 506.44 423.56 507.79 423.77 509.13 422.91 510.47 422.99 511.82 422.79 513.16 421.36 514.5 422.24 515.85 422.51 517.19 422.33 518.54 421.94 519.88 420.98 521.22 421.68 522.57 420.89 523.91 419.71 525.26 420.24 526.6 420.27 527.94 420.6 529.29 419.57 530.63 419.46 531.97 419.01 533.32 419.17 534.66 418.92 536.01 419.33 537.35 418.47 538.69 417.16 540.04 416.71 541.38 415.79 542.72 417 544.07 417.41 545.41 416.91 546.76 416.58 548.1 416.18 549.44 416.2 550.79 415.93 552.13 416.38 553.47 415.57 554.82 415.35 556.16 414.78 557.51 415.07 558.85 414.52 560.19 414.33 561.54 414.18 562.88 413.58 564.22 413.8 565.57 413.61 566.91 414.92" stroke="#00ffff" stroke-width="3.3" fill="none" stroke-linejoin="round" stroke-dasharray="10.6 4.3"/>
<path d="M76.43 464.01 77.78 463.79 79.12 463.86 80.46 464.23 81.81 464.04 83.15 464.01 84.49 463.87 85.84 463.76 87.18 463.53 88.53 463.39 89.87 462.57 91.21 462.18 92.56 462.09 93.9 462.11 95.24 461.78 96.59 460.92 97.93 460.37 99.28 460.19 100.62 459.39 101.96 458.55 103.31 457.56 104.65 456.74 105.99 456.27 107.34 456.47 108.68 456.18 110.03 455.3 111.37 455.45 112.71 455 114.06 453.69 115.4 453 116.74 452.95 118.09 453.13 119.43 452.58 120.78 452 122.12 451.28 123.46 450.59 124.81 449.94 126.15 449.52 127.5 449.02 128.84 448.69 130.18 448.2 131.53 448.13 132.87 447.36 134.21 447.07 135.56 446.18 136.9 445.21 138.25 444.34 139.59 443.38 140.93 443.86 142.28 443.63 143.62 442.83 144.96 441.82 146.31 441.16 147.65 440.64 149 440.34 150.34 439.06 151.68 438.13 153.03 437.24 154.37 436.72 155.71 436.59 157.06 436.87 158.4 439.35 159.75 440 161.09 440.48 162.43 441.19 163.78 441.39 165.12 441.74 166.46 443.33 167.81 443.67 169.15 444.06 170.5 443.38 171.84 442.62 173.18 442.13 174.53 441 175.87 441.07 177.22 441.62 178.56 440.89 179.9 440.58 181.25 439.4 182.59 439.69 183.93 439.63 185.28 438.63 186.62 438.46 187.97 437.92 189.31 437.67 190.65 437.11 192 437.57 193.34 436.97 194.68 436.54 196.03 436.05 197.37 435.95 198.72 435.48 200.06 435.59 201.4 435.03 202.75 435.24 204.09 435.04 205.43 434.93 206.78 434.36 208.12 434.31 209.47 434.14 210.81 433.81 212.15 433.93 213.5 433.59 214.84 433.12 216.18 433.01 217.53 432.1 218.87 432.08 220.22 431.61 221.56 431.04 222.9 430.72 224.25 430.78 225.59 429.51 226.94 429.92 228.28 429.26 229.62 428.1 230.97 427.96 232.31 426.94 233.65 426.61 235 425.87 236.34 424.75 237.69 424.62 239.03 425.3 240.37 427.53 241.72 428.97 243.06 429.54 244.4 430.52 245.75 431.09 247.09 431.65 248.44 431.52 249.78 431.6 251.12 432.63 252.47 433.49 253.81 434.16 255.15 434.21 256.5 434.44 257.84 434.03 259.19 433.77 260.53 433.71 261.87 433.51 263.22 433.05 264.56 432.32 265.9 431.88 267.25 431.75 268.59 431.2 269.94 431.11 271.28 431.04 272.62 430.64 273.97 430.88 275.31 430.42 276.66 429.75 278 429.68 279.34 430.1 280.69 429.46 282.03 428.58 283.37 428.92 284.72 428.53 286.06 428.57 287.41 427.8 288.75 427.82 290.09 427.53 291.44 427.13 292.78 427.18 294.12 426.94 295.47 426.51 296.81 427.12 298.16 426.87 299.5 426.7 300.84 426.83 302.19 426.04 303.53 425.63 304.87 425.74 306.22 425.96 307.56 425.46 308.91 424.53 310.25 423.93 311.59 423.91 312.94 424.12 314.28 423.93 315.62 423.12 316.97 422.88 318.31 423.2 319.66 423.05 321 423.27 322.34 423.47 323.69 424.64 325.03 425.25 326.38 426.4 327.72 427.26 329.06 428.16 330.41 428.12 331.75 428.37 333.09 428.62 334.44 429.45 335.78 429.85 337.13 429.25 338.47 429.93 339.81 429.78 341.16 430 342.5 429.73 343.84 429.51 345.19 429.2 346.53 429.36 347.88 429.12 349.22 429.04 350.56 428.48 351.91 427.75 353.25 427.58 354.59 427.25 355.94 427.04 357.28 426.97 358.63 427.36 359.97 427.22 361.31 427.06 362.66 427.47 364 426.82 365.34 427.54 366.69 427.64 368.03 427.29 369.38 426.93 370.72 426.53 372.06 426.7 373.41 426.82 374.75 427.04 376.1 427.23 377.44 427.1 378.78 427.01 380.13 426.36 381.47 426.06 382.81 426.03 384.16 426 385.5 425.51 386.85 425.09 388.19 425.25 389.53 425.07 390.88 423.56 392.22 424.23 393.56 423.31 394.91 422.9 396.25 422.72 397.6 422.11 398.94 421.15 400.28 420.23 401.63 419.71 402.97 420.87 404.31 423.97 405.66 426.49 407 426.97 408.35 426.82 409.69 428.03 411.03 428.12 412.38 429.15 413.72 429.6 415.06 429.66 416.41 430.65 417.75 430.83 419.1 431.16 420.44 431.96 421.78 431.03 423.13 431.15 424.47 430.35 425.82 431.26 427.16 430.29 428.5 431.01 429.85 430.78 431.19 430.62 432.53 430.39 433.88 429.96 435.22 429.32 436.57 429.34 437.91 429.69 439.25 430.21 440.6 430.32 441.94 429.72 443.28 429.69 444.63 429.37 445.97 428.94 447.32 429.15 448.66 428.01 450 428.02 451.35 429.05 452.69 429.22 454.03 429.19 455.38 429.57 456.72 429.2 458.07 429.09 459.41 428.8 460.75 428.28 462.1 428.54 463.44 427.44 464.78 426.98 466.13 426.68 467.47 425.78 468.82 425.66 470.16 426.38 471.5 425.79 472.85 425.26 474.19 425.39 475.54 424.69 476.88 424.71 478.22 424.18 479.57 423.86 480.91 423.09 482.25 422.83 483.6 424.44 484.94 425.94 486.29 427.67 487.63 429.28 488.97 429.75 490.32 429.94 491.66 430.45 493 431.72 494.35 431.82 495.69 432.27 497.04 432.83 498.38 433.65 499.72 433.97 501.07 434.42 502.41 434.14 503.75 433.9 505.1 433.41 506.44 433.62 507.79 433.26 509.13 432.82 510.47 432.18 511.82 431.71 513.16 431.61 514.5 431.61 515.85 431.66 517.19 431.28 518.54 430.83 519.88 430.42 521.22 430.01 522.57 429.54 523.91 430.07 525.26 430.08 526.6 429.97 527.94 430.01 529.29 431.31 530.63 431.18 531.97 430.58 533.32 430.64 534.66 429.83 536.01 430.19 537.35 429.99 538.69 430.25 540.04 430.66 541.38 430.34 542.72 429.99 544.07 430.74 545.41 430.57 546.76 429.39 548.1 429.39 549.44 429.07 550.79 428.33 552.13 427.94 553.47 426.91 554.82 427.31 556.16 426.51 557.51 425.69 558.85 426.51 560.19 426.49 561.54 426.09 562.88 425.33 564.22 424.52 565.57 424.58 566.91 424.52" stroke="#000" stroke-width="4.2" fill="none" stroke-linejoin="round"/>
</g>
<path d="M158.4 602.3V355.4M240.37 602.3V355.4M322.34 602.3V355.4M404.31 602.3V355.4M486.29 602.3V355.4" stroke="#d3d3d3" stroke-width="3.7" stroke-dasharray="13.3 5.6" fill="none"/>
<path d="M72.4 355.4H569.6V602.3H72.4" stroke="#555555" stroke-width="1.2" fill="none"/>
<path d="M72.4 355.4V602.3" stroke="#555555" stroke-width="1.2" fill="none"/>
<path d="M69.2 602.3H72.4M69.2 552.92H72.4M69.2 503.54H72.4M69.2 454.16H72.4M69.2 404.78H72.4M69.2 355.4H72.4M70.8 592.42H72.4M70.8 582.55H72.4M70.8 572.67H72.4M70.8 562.8H72.4M70.8 543.04H72.4M70.8 533.17H72.4M70.8 523.29H72.4M70.8 513.42H72.4M70.8 493.66H72.4M70.8 483.79H72.4M70.8 473.91H72.4M70.8 464.04H72.4M70.8 444.28H72.4M70.8 434.41H72.4M70.8 424.53H72.4M70.8 414.66H72.4M70.8 394.9H72.4M70.8 385.03H72.4M70.8 375.15H72.4M70.8 365.28H72.4" stroke="#555555" stroke-width="1" fill="none"/>
<text x="65.5" y="607.1" font-size="13.2" text-anchor="end">9</text>
<text x="66.9" y="557.72" font-size="13.2" text-anchor="end">9.5</text>
<text x="66.5" y="508.34" font-size="13.2" text-anchor="end">10</text>
<text x="67.5" y="458.96" font-size="13.2" text-anchor="end">10.5</text>
<text x="66.3" y="409.58" font-size="13.2" text-anchor="end">11</text>
<text x="67.5" y="360.2" font-size="13.2" text-anchor="end">11.5</text>
<path d="M72.4 602.3V605.5M139.59 602.3V605.5M206.78 602.3V605.5M273.97 602.3V605.5M341.16 602.3V605.5M408.35 602.3V605.5M475.54 602.3V605.5M542.72 602.3V605.5M85.84 602.3V603.9M99.28 602.3V603.9M112.71 602.3V603.9M126.15 602.3V603.9M153.03 602.3V603.9M166.46 602.3V603.9M179.9 602.3V603.9M193.34 602.3V603.9M220.22 602.3V603.9M233.65 602.3V603.9M247.09 602.3V603.9M260.53 602.3V603.9M287.41 602.3V603.9M300.84 602.3V603.9M314.28 602.3V603.9M327.72 602.3V603.9M354.59 602.3V603.9M368.03 602.3V603.9M381.47 602.3V603.9M394.91 602.3V603.9M421.78 602.3V603.9M435.22 602.3V603.9M448.66 602.3V603.9M462.1 602.3V603.9M488.97 602.3V603.9M502.41 602.3V603.9M515.85 602.3V603.9M529.29 602.3V603.9M556.16 602.3V603.9M569.6 602.3V603.9" stroke="#555555" stroke-width="1" fill="none"/>
<text x="72.4" y="621.9" font-size="13.3" text-anchor="middle">1650</text>
<text x="139.59" y="621.9" font-size="13.3" text-anchor="middle">1700</text>
<text x="206.78" y="621.9" font-size="13.3" text-anchor="middle">1750</text>
<text x="273.97" y="621.9" font-size="13.3" text-anchor="middle">1800</text>
<text x="341.16" y="621.9" font-size="13.3" text-anchor="middle">1850</text>
<text x="408.35" y="621.9" font-size="13.3" text-anchor="middle">1900</text>
<text x="475.54" y="621.9" font-size="13.3" text-anchor="middle">1950</text>
<text x="542.72" y="621.9" font-size="13.3" text-anchor="middle">2000</text>
<text x="321" y="346.9" font-size="17.8" text-anchor="middle">OMIP2 Global Mean Temperature 0-700m</text>
<text x="321" y="645.3" font-size="17.8" text-anchor="middle">Year</text>
<text x="32.2" y="478.85" font-size="17.8" text-anchor="middle" transform="rotate(-90 32.2 478.85)">degC</text>
<clipPath id="c4"><rect x="902.3" y="354.5" width="496.2" height="247.1"/></clipPath>
<path d="M969.35 354.5V601.6M1036.41 354.5V601.6M1103.46 354.5V601.6M1170.52 354.5V601.6M1237.57 354.5V601.6M1304.62 354.5V601.6M1371.68 354.5V601.6M902.3 560.42H1398.5M902.3 519.23H1398.5M902.3 478.05H1398.5M902.3 436.87H1398.5M902.3 395.68H1398.5" stroke="#ebebeb" stroke-width="1" fill="none"/>
<g clip-path="url(#c4)">
<path d="M906.32 489.47 907.66 483.51 909.01 480.26 910.35 475.39 911.69 469.86 913.03 465.2 914.37 461.08 915.71 455.46 917.05 451 918.39 449.23 919.73 446.34 921.08 444.65 922.42 441.63 923.76 438.79 925.1 436.56 926.44 435.4 927.78 434.49 929.12 433.39 930.46 431.14 931.8 429.7 933.14 429.5 934.49 427.18 935.83 426.29 937.17 425.7 938.51 424.13 939.85 423.49 941.19 422.26 942.53 422.31 943.87 421.58 945.21 420.33 946.56 419.42 947.9 418.11 949.24 417.64 950.58 416.34 951.92 416.61 953.26 415.69 954.6 415.88 955.94 415.14 957.28 414.07 958.63 413.71 959.97 413.86 961.31 413.66 962.65 412.39 963.99 411.81 965.33 411.08 966.67 411.11 968.01 410.24 969.35 410.27 970.7 409.66 972.04 408.53 973.38 407.85 974.72 408 976.06 406.94 977.4 406.45 978.74 408.18 980.08 408.11 981.42 407.45 982.76 407.43 984.11 407.27 985.45 407.12 986.79 406.59 988.13 404.48 989.47 402.83 990.81 402.86 992.15 402.32 993.49 403.02 994.83 403.77 996.18 401.19 997.52 401.65 998.86 402.18 1000.2 402.36 1001.54 402.17 1002.88 402.33 1004.22 400 1005.56 400.44 1006.9 401.56 1008.25 401.95 1009.59 401.63 1010.93 401.77 1012.27 402.4 1013.61 401.83 1014.95 401.34 1016.29 402.1 1017.63 402.04 1018.97 401.16 1020.32 400.67 1021.66 399.73 1023 401.01 1024.34 400.36 1025.68 401.13 1027.02 401.74 1028.36 402.14 1029.7 400.72 1031.04 401.75 1032.38 402.29 1033.73 402.75 1035.07 405 1036.41 404.09 1037.75 401.89 1039.09 400.84 1040.43 401.03 1041.77 399.91 1043.11 399.86 1044.45 399.63 1045.8 399.07 1047.14 398.87 1048.48 398.45 1049.82 398.79 1051.16 398.62 1052.5 397.37 1053.84 397.13 1055.18 397.69 1056.52 396.82 1057.87 395.88 1059.21 395.07 1060.55 395.29 1061.89 394.49 1063.23 395.08 1064.57 393.91 1065.91 393.58 1067.25 392.69 1068.59 392.92 1069.94 390.68 1071.28 390.22 1072.62 390.02 1073.96 390.78 1075.3 390.22 1076.64 390.91 1077.98 389 1079.32 390.02 1080.66 390.38 1082 389.64 1083.35 388.91 1084.69 390.28 1086.03 389.79 1087.37 390.35 1088.71 389.85 1090.05 389.45 1091.39 389.86 1092.73 389.76 1094.07 390.57 1095.42 389.94 1096.76 390.1 1098.1 390.72 1099.44 391.18 1100.78 391.5 1102.12 391.15 1103.46 391.12 1104.8 391.39 1106.14 391.39 1107.49 391.06 1108.83 391.3 1110.17 391.76 1111.51 392.6 1112.85 392.16 1114.19 391.6 1115.53 391.02 1116.87 390.75 1118.21 390.55 1119.56 390.8 1120.9 389.39 1122.24 389.37 1123.58 388.76 1124.92 388.91 1126.26 387.93 1127.6 386.94 1128.94 386.43 1130.28 386.31 1131.62 387.46 1132.97 387.38 1134.31 386.72 1135.65 386.41 1136.99 386.91 1138.33 386.02 1139.67 385.78 1141.01 385.14 1142.35 385.18 1143.69 385.03 1145.04 384.29 1146.38 383.29 1147.72 383.19 1149.06 383.79 1150.4 384.46 1151.74 382.4 1153.08 381.41 1154.42 381.54 1155.76 381.5 1157.11 382.07 1158.45 381.22 1159.79 381.39 1161.13 382.44 1162.47 382.83 1163.81 383.62 1165.15 383.35 1166.49 383.32 1167.83 382.76 1169.18 384.07 1170.52 383.15 1171.86 384 1173.2 385.35 1174.54 385.62 1175.88 383.78 1177.22 384.83 1178.56 383.91 1179.9 384.26 1181.24 385.01 1182.59 384.78 1183.93 385.52 1185.27 386.06 1186.61 386.27 1187.95 386.86 1189.29 385.86 1190.63 384.86 1191.97 384.77 1193.31 383.96 1194.66 384.72 1196 383.63 1197.34 382.6 1198.68 382.53 1200.02 383.94 1201.36 383.61 1202.7 383.35 1204.04 382.98 1205.38 382.79 1206.73 381.66 1208.07 381.63 1209.41 380.92 1210.75 380.85 1212.09 382.05 1213.43 382.24 1214.77 382.47 1216.11 382.21 1217.45 382.14 1218.8 381.89 1220.14 381.41 1221.48 381.82 1222.82 382.3 1224.16 382.01 1225.5 380.79 1226.84 380.07 1228.18 380.06 1229.52 381.08 1230.86 380.3 1232.21 381.67 1233.55 379.84 1234.89 378.51 1236.23 379.22 1237.57 379.93 1238.91 378.42 1240.25 378.48 1241.59 378.34 1242.93 379.56 1244.28 378.82 1245.62 377.97 1246.96 377.57 1248.3 379.9 1249.64 380.64 1250.98 380.38 1252.32 381.1 1253.66 380.52 1255 379.79 1256.35 380.8 1257.69 380.51 1259.03 380.87 1260.37 381.11 1261.71 381.9 1263.05 382.94 1264.39 382.21 1265.73 381.91 1267.07 382.07 1268.42 383.2 1269.76 382.71 1271.1 384.23 1272.44 383.6 1273.78 383.2 1275.12 382.75 1276.46 381.73 1277.8 382.36 1279.14 382.44 1280.48 382.05 1281.83 380.93 1283.17 382.44 1284.51 381.41 1285.85 379.99 1287.19 380.54 1288.53 381.31 1289.87 381.45 1291.21 380.78 1292.55 380.14 1293.9 381.06 1295.24 381.32 1296.58 379.94 1297.92 380.64 1299.26 380.48 1300.6 379.67 1301.94 379.69 1303.28 379.34 1304.62 379.06 1305.97 379.02 1307.31 379.4 1308.65 377.63 1309.99 378.99 1311.33 379.11 1312.67 379.44 1314.01 378.2 1315.35 377.38 1316.69 377.04 1318.04 377.4 1319.38 376.57 1320.72 377.2 1322.06 378.85 1323.4 378.62 1324.74 377.79 1326.08 377.65 1327.42 377.25 1328.76 376.67 1330.1 377.31 1331.45 377.14 1332.79 377.49 1334.13 377.98 1335.47 378.9 1336.81 380.3 1338.15 379.38 1339.49 380.12 1340.83 382.05 1342.17 381.79 1343.52 382.78 1344.86 382.11 1346.2 381.99 1347.54 381.67 1348.88 380.96 1350.22 382.01 1351.56 381.62 1352.9 381.33 1354.24 381.89 1355.59 383.05 1356.93 382.6 1358.27 381.38 1359.61 380.9 1360.95 381.08 1362.29 381.82 1363.63 380.4 1364.97 379.17 1366.31 378.05 1367.66 378.71 1369 378.95 1370.34 378.95 1371.68 381.19 1373.02 381.89 1374.36 380.99 1375.7 380.35 1377.04 379.08 1378.38 379.05 1379.72 379.3 1381.07 379.57 1382.41 379.92 1383.75 379.91 1385.09 380.11 1386.43 380.35 1387.77 380.65 1389.11 382.05 1390.45 381.19 1391.79 381.2 1393.14 381.56 1394.48 380.43 1395.82 381.29" stroke="#ff00ff" stroke-width="2.4" fill="none" stroke-linejoin="round"/>
<path d="M906.32 488.34 907.66 488.59 909.01 489.21 910.35 488.49 911.69 488.36 913.03 487.6 914.37 489.1 915.71 490.71 917.05 491.64 918.39 492.23 919.73 493.85 921.08 494.4 922.42 494.59 923.76 495.42 925.1 495.82 926.44 497.31 927.78 498.88 929.12 499.65 930.46 501.92 931.8 502.67 933.14 504.65 934.49 506.73 935.83 509.39 937.17 510.63 938.51 512.46 939.85 513.94 941.19 515.54 942.53 516.65 943.87 517.69 945.21 518.95 946.56 519.42 947.9 519.99 949.24 520.59 950.58 521.89 951.92 522.8 953.26 523.92 954.6 524.82 955.94 525.53 957.28 526.84 958.63 527.55 959.97 527.65 961.31 528.73 962.65 529.44 963.99 530.79 965.33 531.87 966.67 532.38 968.01 532.52 969.35 533.22 970.7 534.38 972.04 535.79 973.38 536.37 974.72 536.23 976.06 537.85 977.4 538.54 978.74 538.73 980.08 540.31 981.42 540.02 982.76 541.78 984.11 542.16 985.45 543.14 986.79 544.11 988.13 542.66 989.47 541.41 990.81 539.93 992.15 540.02 993.49 541.08 994.83 540.92 996.18 542.38 997.52 542.28 998.86 541.26 1000.2 541.45 1001.54 541.41 1002.88 541.83 1004.22 542.33 1005.56 542.75 1006.9 543.29 1008.25 543.57 1009.59 544.37 1010.93 544.15 1012.27 543.22 1013.61 544.9 1014.95 546.06 1016.29 546.86 1017.63 546.18 1018.97 545.74 1020.32 547.5 1021.66 547.71 1023 548.46 1024.34 548.93 1025.68 547.59 1027.02 549.19 1028.36 549.59 1029.7 550.31 1031.04 549.9 1032.38 550.22 1033.73 551.1 1035.07 551.27 1036.41 551.34 1037.75 551.57 1039.09 552.02 1040.43 552.35 1041.77 552.91 1043.11 553.39 1044.45 553.62 1045.8 553.71 1047.14 552.93 1048.48 553.12 1049.82 553.61 1051.16 553.28 1052.5 554.25 1053.84 554.41 1055.18 554.45 1056.52 553.81 1057.87 554.27 1059.21 552.91 1060.55 552.59 1061.89 553.15 1063.23 553.57 1064.57 553.67 1065.91 553.51 1067.25 553.96 1068.59 554.5 1069.94 552.49 1071.28 551.05 1072.62 550.46 1073.96 550.65 1075.3 551.1 1076.64 550.42 1077.98 549.86 1079.32 549.5 1080.66 548.98 1082 550.4 1083.35 550.46 1084.69 549.75 1086.03 550.82 1087.37 551.84 1088.71 551.55 1090.05 552.24 1091.39 552.15 1092.73 552.02 1094.07 551.34 1095.42 552.77 1096.76 553.12 1098.1 553.08 1099.44 553.43 1100.78 553.95 1102.12 553.63 1103.46 554.56 1104.8 555.07 1106.14 554.26 1107.49 553.38 1108.83 553.69 1110.17 554.19 1111.51 555.14 1112.85 555.59 1114.19 554.99 1115.53 555.2 1116.87 554.2 1118.21 555.75 1119.56 555.85 1120.9 556.13 1122.24 555.38 1123.58 555.02 1124.92 554.6 1126.26 554.94 1127.6 554.27 1128.94 554.47 1130.28 554.95 1131.62 555.16 1132.97 554.59 1134.31 555.42 1135.65 555.35 1136.99 555.01 1138.33 554.63 1139.67 555.22 1141.01 554.41 1142.35 554.91 1143.69 555.02 1145.04 555.27 1146.38 555.34 1147.72 555.39 1149.06 556.16 1150.4 556.45 1151.74 553.58 1153.08 551.54 1154.42 551.86 1155.76 551.35 1157.11 550.72 1158.45 550.01 1159.79 550.2 1161.13 550.01 1162.47 548.91 1163.81 548.73 1165.15 550.05 1166.49 551.34 1167.83 551.29 1169.18 550.99 1170.52 552.09 1171.86 551.78 1173.2 552.13 1174.54 553.37 1175.88 553.24 1177.22 552.75 1178.56 553.08 1179.9 554.42 1181.24 554.46 1182.59 554.05 1183.93 553.89 1185.27 553.58 1186.61 553.78 1187.95 553 1189.29 554.03 1190.63 554.67 1191.97 554.38 1193.31 556.09 1194.66 556.75 1196 555.71 1197.34 556.23 1198.68 555.69 1200.02 555.71 1201.36 555.99 1202.7 557.11 1204.04 557.65 1205.38 556.64 1206.73 556.14 1208.07 555.85 1209.41 556.46 1210.75 556.62 1212.09 556.79 1213.43 556.73 1214.77 556.41 1216.11 556.76 1217.45 557.29 1218.8 557.42 1220.14 557.48 1221.48 557.47 1222.82 556.78 1224.16 555.96 1225.5 555.99 1226.84 556.29 1228.18 556.32 1229.52 556.58 1230.86 556.9 1232.21 556.53 1233.55 553.41 1234.89 552.48 1236.23 552.8 1237.57 553.69 1238.91 553.18 1240.25 551.97 1241.59 552.18 1242.93 552.03 1244.28 551.18 1245.62 550.71 1246.96 550.54 1248.3 551.47 1249.64 551.6 1250.98 551.63 1252.32 551.03 1253.66 551.31 1255 551.97 1256.35 551.79 1257.69 554.06 1259.03 553.6 1260.37 553.75 1261.71 554.38 1263.05 554.58 1264.39 553.93 1265.73 553.17 1267.07 554.1 1268.42 554.89 1269.76 555.19 1271.1 555.46 1272.44 554.51 1273.78 554.4 1275.12 554.84 1276.46 555.96 1277.8 555.27 1279.14 555.89 1280.48 556.72 1281.83 556.06 1283.17 556.58 1284.51 556.91 1285.85 556.42 1287.19 557.04 1288.53 556.33 1289.87 556.91 1291.21 556.2 1292.55 558.3 1293.9 558.33 1295.24 557.24 1296.58 556.71 1297.92 558.36 1299.26 557.42 1300.6 556.95 1301.94 556.24 1303.28 555.46 1304.62 555.94 1305.97 555.97 1307.31 557.19 1308.65 557.51 1309.99 556.27 1311.33 556.44 1312.67 557.51 1314.01 555.96 1315.35 554.26 1316.69 552.33 1318.04 552.12 1319.38 553.36 1320.72 552.93 1322.06 553.19 1323.4 552.36 1324.74 552.15 1326.08 552.49 1327.42 551.88 1328.76 551.79 1330.1 551.79 1331.45 552.6 1332.79 553.19 1334.13 552.48 1335.47 553.07 1336.81 554.07 1338.15 554.88 1339.49 554.12 1340.83 554.83 1342.17 555.22 1343.52 555.3 1344.86 555.4 1346.2 556.33 1347.54 556.25 1348.88 556.51 1350.22 556.86 1351.56 556.86 1352.9 557.66 1354.24 557.22 1355.59 557.2 1356.93 558.11 1358.27 557.51 1359.61 558.42 1360.95 558.72 1362.29 557.21 1363.63 557.92 1364.97 557.72 1366.31 559.03 1367.66 558.53 1369 558.64 1370.34 559.16 1371.68 558.29 1373.02 557.04 1374.36 557.71 1375.7 558.72 1377.04 558.54 1378.38 557.93 1379.72 558.13 1381.07 558.17 1382.41 559.41 1383.75 559.42 1385.09 559.57 1386.43 559.02 1387.77 559.39 1389.11 559.48 1390.45 559.01 1391.79 558.9 1393.14 558.87 1394.48 558.55 1395.82 559.29" stroke="#ff0000" stroke-width="2.4" fill="none" stroke-linejoin="round"/>
<path d="M906.32 491.49 907.66 487.06 909.01 483.2 910.35 479.04 911.69 475.24 913.03 473.2 914.37 471.94 915.71 471.01 917.05 469.66 918.39 469.19 919.73 468.67 921.08 466.93 922.42 466.28 923.76 465.01 925.1 465.3 926.44 465.36 927.78 464.62 929.12 464.53 930.46 464.48 931.8 463.63 933.14 464.52 934.49 464.43 935.83 463.72 937.17 463.43 938.51 461.78 939.85 461.94 941.19 461.5 942.53 461.37 943.87 461.04 945.21 461.49 946.56 462.45 947.9 461.27 949.24 460.73 950.58 459.83 951.92 460.09 953.26 460.15 954.6 458.93 955.94 459.61 957.28 459.64 958.63 460.14 959.97 460.02 961.31 460.14 962.65 461.35 963.99 461.12 965.33 459.67 966.67 459.44 968.01 459.89 969.35 460.66 970.7 460.27 972.04 460.37 973.38 459.94 974.72 459.65 976.06 461.09 977.4 460.39 978.74 460.04 980.08 460.13 981.42 460.59 982.76 460.36 984.11 461.01 985.45 460.81 986.79 461.02 988.13 458.33 989.47 457.87 990.81 456.45 992.15 455.99 993.49 456.57 994.83 456.86 996.18 456.52 997.52 456.81 998.86 456 1000.2 455.86 1001.54 455.3 1002.88 456.2 1004.22 455.84 1005.56 456.51 1006.9 456.02 1008.25 455.77 1009.59 456.27 1010.93 457.18 1012.27 457.83 1013.61 458.84 1014.95 460.14 1016.29 460.52 1017.63 459.66 1018.97 459.54 1020.32 459.08 1021.66 459.38 1023 459.99 1024.34 459.15 1025.68 459.3 1027.02 460.12 1028.36 460.31 1029.7 459.64 1031.04 458.79 1032.38 459.08 1033.73 459.97 1035.07 460.46 1036.41 459.61 1037.75 460.84 1039.09 460.36 1040.43 460.16 1041.77 460.1 1043.11 460.62 1044.45 460.77 1045.8 461.24 1047.14 463.47 1048.48 462.54 1049.82 462.12 1051.16 461.88 1052.5 461.82 1053.84 460.91 1055.18 459.89 1056.52 460.47 1057.87 460.99 1059.21 460.8 1060.55 460.91 1061.89 460.7 1063.23 461.09 1064.57 461 1065.91 460.96 1067.25 460.01 1068.59 460.33 1069.94 457.88 1071.28 456.52 1072.62 458.1 1073.96 457.23 1075.3 457.25 1076.64 456.37 1077.98 457.15 1079.32 457.27 1080.66 456.67 1082 457.25 1083.35 456.87 1084.69 457.28 1086.03 456.23 1087.37 456.91 1088.71 456.83 1090.05 457.36 1091.39 457.6 1092.73 457.31 1094.07 457.64 1095.42 457.84 1096.76 457.68 1098.1 457.55 1099.44 457.71 1100.78 459.41 1102.12 460.45 1103.46 460.79 1104.8 460.51 1106.14 460.63 1107.49 460.99 1108.83 461.51 1110.17 461.81 1111.51 462.21 1112.85 462.27 1114.19 462.78 1115.53 461.13 1116.87 461.48 1118.21 461.65 1119.56 460.86 1120.9 460.96 1122.24 461.45 1123.58 461.75 1124.92 461.54 1126.26 461.4 1127.6 461.81 1128.94 461.76 1130.28 461.93 1131.62 461.67 1132.97 460.55 1134.31 460.46 1135.65 460.74 1136.99 460.79 1138.33 460.13 1139.67 461.74 1141.01 461.32 1142.35 461.5 1143.69 461.56 1145.04 462 1146.38 462.19 1147.72 463.34 1149.06 462.69 1150.4 461.69 1151.74 460.67 1153.08 457.82 1154.42 457.83 1155.76 458.28 1157.11 458.3 1158.45 458.3 1159.79 457.76 1161.13 458.04 1162.47 459.12 1163.81 458.12 1165.15 457.66 1166.49 458.16 1167.83 457.32 1169.18 458.43 1170.52 458.74 1171.86 458.08 1173.2 459.56 1174.54 460.33 1175.88 460.43 1177.22 461.25 1178.56 461.88 1179.9 461.97 1181.24 461.73 1182.59 461.79 1183.93 462.28 1185.27 462.66 1186.61 462.84 1187.95 462.68 1189.29 462.27 1190.63 462.34 1191.97 462.61 1193.31 463.06 1194.66 462.39 1196 462.91 1197.34 463.38 1198.68 463.87 1200.02 464.1 1201.36 464.75 1202.7 464.53 1204.04 463.78 1205.38 463.31 1206.73 463.25 1208.07 463.39 1209.41 463.47 1210.75 463.45 1212.09 463.83 1213.43 463.24 1214.77 463.83 1216.11 463.44 1217.45 463.38 1218.8 464.3 1220.14 464.61 1221.48 464.3 1222.82 463.52 1224.16 463.44 1225.5 462.8 1226.84 462.05 1228.18 462.37 1229.52 462.86 1230.86 462.55 1232.21 462.44 1233.55 459.73 1234.89 459.3 1236.23 458.63 1237.57 458.62 1238.91 458.29 1240.25 458.15 1241.59 457.38 1242.93 456.89 1244.28 456.64 1245.62 457.68 1246.96 458.02 1248.3 458.36 1249.64 457.89 1250.98 458.04 1252.32 458.4 1253.66 458.44 1255 457.79 1256.35 458.87 1257.69 459.6 1259.03 460.05 1260.37 459.76 1261.71 459.99 1263.05 460.12 1264.39 460.52 1265.73 460.85 1267.07 460.43 1268.42 459.71 1269.76 460.2 1271.1 460.87 1272.44 460.93 1273.78 460.97 1275.12 461.75 1276.46 461.74 1277.8 461.74 1279.14 461.16 1280.48 460.35 1281.83 461.09 1283.17 463.03 1284.51 462.26 1285.85 461.65 1287.19 462.13 1288.53 462.35 1289.87 462.77 1291.21 463.26 1292.55 464 1293.9 463.92 1295.24 462.87 1296.58 461.92 1297.92 461.49 1299.26 461.3 1300.6 461.21 1301.94 460.86 1303.28 461.89 1304.62 462.43 1305.97 462.26 1307.31 461.74 1308.65 462.29 1309.99 462.44 1311.33 461.71 1312.67 462.45 1314.01 461.37 1315.35 459.24 1316.69 459.08 1318.04 458.98 1319.38 460.11 1320.72 459.06 1322.06 458.05 1323.4 457.65 1324.74 457.36 1326.08 457.92 1327.42 457.99 1328.76 458.4 1330.1 458.23 1331.45 459.43 1332.79 459.67 1334.13 459.69 1335.47 459.97 1336.81 460.05 1338.15 459.81 1339.49 459.96 1340.83 459.5 1342.17 460.74 1343.52 459.47 1344.86 459.78 1346.2 460.84 1347.54 461.07 1348.88 461.82 1350.22 462.1 1351.56 461.91 1352.9 461.53 1354.24 461.65 1355.59 462.11 1356.93 461 1358.27 460.9 1359.61 460.88 1360.95 461.87 1362.29 462.04 1363.63 461.46 1364.97 462.12 1366.31 460.74 1367.66 461.99 1369 462.34 1370.34 463.54 1371.68 463.03 1373.02 463.4 1374.36 462.78 1375.7 462.8 1377.04 462.32 1378.38 461.92 1379.72 462.04 1381.07 462.28 1382.41 462.32 1383.75 463.25 1385.09 462.34 1386.43 463.02 1387.77 462.39 1389.11 462.73 1390.45 463.51 1391.79 463.56 1393.14 463.29 1394.48 463.62 1395.82 463.64" stroke="#fa7410" stroke-width="2.4" fill="none" stroke-linejoin="round"/>
<path d="M906.32 490.95 907.66 489.24 909.01 488.62 910.35 486.74 911.69 485.14 913.03 483.79 914.37 481.74 915.71 478.82 917.05 478.22 918.39 476.01 919.73 474.3 921.08 474.59 922.42 474.4 923.76 474.45 925.1 474.98 926.44 475.53 927.78 475.86 929.12 475.71 930.46 476.98 931.8 476.55 933.14 475.38 934.49 475.39 935.83 476.12 937.17 476.14 938.51 476.55 939.85 476.65 941.19 476.56 942.53 476.25 943.87 476.31 945.21 475.4 946.56 475.33 947.9 474.9 949.24 475.43 950.58 475 951.92 474.1 953.26 473.7 954.6 474.32 955.94 475.16 957.28 474.99 958.63 473.84 959.97 472.64 961.31 472.6 962.65 472.35 963.99 471.68 965.33 470.12 966.67 469.87 968.01 470.37 969.35 470.7 970.7 470.56 972.04 471.3 973.38 471 974.72 469.93 976.06 470.72 977.4 470.66 978.74 470.69 980.08 469.25 981.42 469.44 982.76 468.5 984.11 468.57 985.45 468.98 986.79 469.07 988.13 464.67 989.47 461.01 990.81 459.42 992.15 459.49 993.49 459.39 994.83 459.12 996.18 459.1 997.52 458.61 998.86 458.64 1000.2 457.86 1001.54 457.76 1002.88 457.91 1004.22 456.9 1005.56 458.3 1006.9 459.01 1008.25 459.08 1009.59 459.6 1010.93 458.75 1012.27 459.63 1013.61 458.75 1014.95 458.75 1016.29 459.25 1017.63 460.4 1018.97 459.42 1020.32 459.05 1021.66 458.5 1023 458.06 1024.34 458.18 1025.68 458.27 1027.02 458.14 1028.36 457.53 1029.7 457.22 1031.04 457.37 1032.38 457.18 1033.73 456.99 1035.07 455.79 1036.41 455.78 1037.75 455.83 1039.09 455.59 1040.43 454.76 1041.77 454.46 1043.11 454.06 1044.45 454.58 1045.8 453.43 1047.14 452.79 1048.48 451.86 1049.82 451.74 1051.16 452.53 1052.5 451.33 1053.84 452.5 1055.18 452.2 1056.52 451.25 1057.87 451.53 1059.21 450.28 1060.55 449.86 1061.89 450.94 1063.23 451.2 1064.57 451.73 1065.91 451 1067.25 449.82 1068.59 449.5 1069.94 447.05 1071.28 444.71 1072.62 444.22 1073.96 443.32 1075.3 443.91 1076.64 444.83 1077.98 444.03 1079.32 443.45 1080.66 443.08 1082 442.96 1083.35 443.56 1084.69 443.44 1086.03 442.93 1087.37 444.17 1088.71 444.49 1090.05 445.39 1091.39 445.4 1092.73 445.59 1094.07 444.96 1095.42 444.81 1096.76 444.33 1098.1 444.02 1099.44 444.55 1100.78 444.4 1102.12 444.63 1103.46 445.26 1104.8 445.62 1106.14 446.53 1107.49 445.64 1108.83 445.87 1110.17 446.56 1111.51 446.13 1112.85 445.58 1114.19 445.99 1115.53 446.69 1116.87 446.56 1118.21 446.47 1119.56 444.83 1120.9 445.69 1122.24 444.81 1123.58 444.24 1124.92 443.62 1126.26 444.12 1127.6 445.22 1128.94 444.46 1130.28 444.42 1131.62 444.44 1132.97 443.87 1134.31 444.02 1135.65 443.86 1136.99 443.12 1138.33 443.35 1139.67 443.19 1141.01 442.46 1142.35 443 1143.69 442.46 1145.04 442.29 1146.38 442.13 1147.72 441.73 1149.06 440.24 1150.4 440.22 1151.74 438.03 1153.08 435.98 1154.42 435.83 1155.76 435.88 1157.11 435.64 1158.45 435.71 1159.79 435.7 1161.13 435.07 1162.47 434.39 1163.81 434.94 1165.15 434.09 1166.49 434.68 1167.83 434.36 1169.18 436.16 1170.52 435.83 1171.86 435.8 1173.2 436.2 1174.54 436.77 1175.88 437.76 1177.22 437.26 1178.56 438.04 1179.9 437.67 1181.24 438.21 1182.59 439.2 1183.93 438.78 1185.27 439.69 1186.61 439.28 1187.95 438.45 1189.29 438.06 1190.63 438.45 1191.97 438.03 1193.31 438.77 1194.66 437.97 1196 437.84 1197.34 437.46 1198.68 438.55 1200.02 438.14 1201.36 437.54 1202.7 437.91 1204.04 437.47 1205.38 437.16 1206.73 437.64 1208.07 436.92 1209.41 437.06 1210.75 437.09 1212.09 437.44 1213.43 437.72 1214.77 438.02 1216.11 437.1 1217.45 437.21 1218.8 435.86 1220.14 435.5 1221.48 436.17 1222.82 436.21 1224.16 435.37 1225.5 434.21 1226.84 434.96 1228.18 435.53 1229.52 435.14 1230.86 435.34 1232.21 435.67 1233.55 433.36 1234.89 431.65 1236.23 432.17 1237.57 431.16 1238.91 430.35 1240.25 430.71 1241.59 429.38 1242.93 429.01 1244.28 429.04 1245.62 428.46 1246.96 429.21 1248.3 429.82 1249.64 430.15 1250.98 431.08 1252.32 431.45 1253.66 432.6 1255 433.41 1256.35 433.9 1257.69 435.25 1259.03 433.98 1260.37 433.5 1261.71 433.82 1263.05 434.33 1264.39 434.53 1265.73 434.88 1267.07 435.46 1268.42 435.03 1269.76 434.91 1271.1 434.87 1272.44 435.67 1273.78 436.96 1275.12 436.85 1276.46 436.36 1277.8 436.27 1279.14 435.82 1280.48 435.63 1281.83 435.56 1283.17 435.45 1284.51 435.99 1285.85 435.83 1287.19 436.41 1288.53 436.33 1289.87 435.85 1291.21 436.23 1292.55 436.04 1293.9 435.56 1295.24 435.34 1296.58 435.36 1297.92 435.94 1299.26 435.09 1300.6 434.42 1301.94 435.69 1303.28 435.77 1304.62 436.18 1305.97 435.8 1307.31 434.68 1308.65 435.01 1309.99 434.93 1311.33 435.06 1312.67 434.27 1314.01 432.54 1315.35 429.54 1316.69 430.06 1318.04 430 1319.38 430.21 1320.72 430.13 1322.06 429.57 1323.4 430.59 1324.74 429.38 1326.08 428.5 1327.42 428.76 1328.76 428.84 1330.1 428.42 1331.45 428.99 1332.79 430.19 1334.13 429.74 1335.47 430.63 1336.81 430.85 1338.15 431.09 1339.49 431.16 1340.83 431.74 1342.17 431.69 1343.52 430.9 1344.86 430.62 1346.2 431.87 1347.54 431.85 1348.88 432.03 1350.22 433.31 1351.56 434.24 1352.9 433.83 1354.24 434.47 1355.59 434.56 1356.93 434.96 1358.27 434.47 1359.61 434.35 1360.95 435.71 1362.29 435.51 1363.63 434.98 1364.97 435.23 1366.31 434.74 1367.66 434.88 1369 434.02 1370.34 435.58 1371.68 434.47 1373.02 434.65 1374.36 434.2 1375.7 434.68 1377.04 435.38 1378.38 435.23 1379.72 434.16 1381.07 434.22 1382.41 433.03 1383.75 434.13 1385.09 434.58 1386.43 435.08 1387.77 433.98 1389.11 433.32 1390.45 434.03 1391.79 435.01 1393.14 434.32 1394.48 433.13 1395.82 432.52" stroke="#0000ff" stroke-width="3.3" fill="none" stroke-linejoin="round" stroke-dasharray="10.6 4.3"/>
<path d="M906.32 490.46 907.66 488.25 909.01 486.11 910.35 482.68 911.69 480.52 913.03 478.16 914.37 477.43 915.71 477.3 917.05 477.41 918.39 477.4 919.73 478.67 921.08 477.48 922.42 477.26 923.76 477.43 925.1 476.89 926.44 476.72 927.78 477.51 929.12 478.07 930.46 478.84 931.8 478.07 933.14 476.64 934.49 475.51 935.83 476.59 937.17 476.73 938.51 477.4 939.85 477.96 941.19 477.8 942.53 477.79 943.87 478.73 945.21 479.06 946.56 479.65 947.9 478.54 949.24 478.69 950.58 478.6 951.92 478.51 953.26 478.83 954.6 479.52 955.94 479.31 957.28 480.3 958.63 479.32 959.97 480.1 961.31 479.9 962.65 479.72 963.99 479.81 965.33 479.79 966.67 479.9 968.01 480.79 969.35 480.51 970.7 479.77 972.04 479.7 973.38 480.19 974.72 479.49 976.06 478.89 977.4 478.66 978.74 478.92 980.08 478.56 981.42 479.17 982.76 480.22 984.11 480.4 985.45 480.22 986.79 479.59 988.13 478.77 989.47 476.49 990.81 477.35 992.15 477.33 993.49 476.53 994.83 476.23 996.18 476.67 997.52 476.36 998.86 475.97 1000.2 476.92 1001.54 477.51 1002.88 478 1004.22 478.21 1005.56 477.66 1006.9 478.03 1008.25 478.64 1009.59 477.85 1010.93 478.51 1012.27 477.98 1013.61 477.06 1014.95 477.39 1016.29 478.12 1017.63 477.85 1018.97 479.22 1020.32 478.55 1021.66 478.57 1023 479.11 1024.34 478.25 1025.68 479.11 1027.02 480.07 1028.36 478.56 1029.7 479.3 1031.04 479.69 1032.38 480.49 1033.73 479.97 1035.07 479.05 1036.41 479.84 1037.75 479.42 1039.09 480.9 1040.43 479.37 1041.77 480.03 1043.11 479.99 1044.45 479.11 1045.8 478.74 1047.14 479.07 1048.48 478.95 1049.82 479.32 1051.16 478.43 1052.5 478.24 1053.84 478.55 1055.18 479.1 1056.52 477.91 1057.87 478.84 1059.21 478.44 1060.55 477.94 1061.89 478.83 1063.23 478.6 1064.57 478.5 1065.91 477.5 1067.25 478.27 1068.59 478.36 1069.94 477.51 1071.28 476.61 1072.62 476.31 1073.96 475.31 1075.3 475.62 1076.64 475.19 1077.98 475.73 1079.32 476.28 1080.66 475.62 1082 474.91 1083.35 474.61 1084.69 475.52 1086.03 475.41 1087.37 475.18 1088.71 473.88 1090.05 475.12 1091.39 475.92 1092.73 475.83 1094.07 476.42 1095.42 477.06 1096.76 477.54 1098.1 478.04 1099.44 477.12 1100.78 478.32 1102.12 477.76 1103.46 477.7 1104.8 478.03 1106.14 477.73 1107.49 477.41 1108.83 477.4 1110.17 478.07 1111.51 478.91 1112.85 479.51 1114.19 479.75 1115.53 479.49 1116.87 478.84 1118.21 478.46 1119.56 478.6 1120.9 478.36 1122.24 478.36 1123.58 479.45 1124.92 479.52 1126.26 479.41 1127.6 478.12 1128.94 478.52 1130.28 479.05 1131.62 478.47 1132.97 477.37 1134.31 476.97 1135.65 477.36 1136.99 477.33 1138.33 476.95 1139.67 476.96 1141.01 476.92 1142.35 477.5 1143.69 477.74 1145.04 478.53 1146.38 477.75 1147.72 477.7 1149.06 478.17 1150.4 477.68 1151.74 477.24 1153.08 474.85 1154.42 475.12 1155.76 475.88 1157.11 474.95 1158.45 474.59 1159.79 474.28 1161.13 473.13 1162.47 474.33 1163.81 472.87 1165.15 473.22 1166.49 472.57 1167.83 472.87 1169.18 473.8 1170.52 474.79 1171.86 475.21 1173.2 474.67 1174.54 474.45 1175.88 473.85 1177.22 473.72 1178.56 473.47 1179.9 473.83 1181.24 473.98 1182.59 474.98 1183.93 475.42 1185.27 475.72 1186.61 476.17 1187.95 474.11 1189.29 474.93 1190.63 475.37 1191.97 476.17 1193.31 475.16 1194.66 475.63 1196 475.62 1197.34 475.54 1198.68 476.36 1200.02 476.38 1201.36 476 1202.7 476.25 1204.04 476.05 1205.38 476.36 1206.73 475.45 1208.07 475.77 1209.41 476.09 1210.75 476.64 1212.09 477.02 1213.43 476.41 1214.77 476.67 1216.11 477.35 1217.45 477.31 1218.8 475.67 1220.14 475.49 1221.48 475.2 1222.82 476.31 1224.16 476.64 1225.5 477.23 1226.84 477.77 1228.18 477.79 1229.52 477.63 1230.86 477.87 1232.21 478.18 1233.55 475.35 1234.89 473.15 1236.23 472.8 1237.57 472.69 1238.91 472 1240.25 472.33 1241.59 472.14 1242.93 472.3 1244.28 472.33 1245.62 472.15 1246.96 471.94 1248.3 471.98 1249.64 472.79 1250.98 472.54 1252.32 472.61 1253.66 473.26 1255 472.84 1256.35 473.35 1257.69 472.86 1259.03 473.04 1260.37 472.73 1261.71 472.38 1263.05 472.36 1264.39 473.34 1265.73 474.99 1267.07 474.45 1268.42 475.54 1269.76 474.79 1271.1 474.04 1272.44 474.41 1273.78 475.59 1275.12 475.78 1276.46 475.44 1277.8 476.34 1279.14 475.56 1280.48 475.78 1281.83 474.76 1283.17 475.36 1284.51 475.4 1285.85 475.08 1287.19 475.81 1288.53 476.82 1289.87 476.67 1291.21 476.7 1292.55 476.06 1293.9 475.42 1295.24 475.27 1296.58 475.39 1297.92 475.35 1299.26 475 1300.6 476.52 1301.94 475.96 1303.28 475.03 1304.62 474.55 1305.97 474.61 1307.31 474.86 1308.65 475.4 1309.99 474.38 1311.33 475.48 1312.67 474.66 1314.01 473.06 1315.35 472.8 1316.69 472.15 1318.04 471.8 1319.38 471.47 1320.72 471.73 1322.06 470.72 1323.4 470.03 1324.74 470.9 1326.08 470.5 1327.42 471.04 1328.76 470.99 1330.1 470.29 1331.45 470.62 1332.79 470.91 1334.13 470.46 1335.47 470.8 1336.81 470.81 1338.15 471.43 1339.49 471.2 1340.83 471.91 1342.17 472.16 1343.52 473.41 1344.86 472.41 1346.2 472.85 1347.54 472.96 1348.88 473.52 1350.22 473.14 1351.56 472.36 1352.9 471.56 1354.24 473.24 1355.59 472.94 1356.93 472.98 1358.27 473.58 1359.61 474.15 1360.95 473.8 1362.29 474 1363.63 474.51 1364.97 474.3 1366.31 474.83 1367.66 473.89 1369 474.92 1370.34 474.85 1371.68 475.15 1373.02 475.57 1374.36 476.25 1375.7 476.2 1377.04 475.12 1378.38 474.98 1379.72 475.62 1381.07 475.88 1382.41 475.6 1383.75 474.94 1385.09 475.56 1386.43 475.18 1387.77 475.3 1389.11 475.38 1390.45 475.4 1391.79 475.49 1393.14 475.44 1394.48 474.58 1395.82 474.87" stroke="#00ffff" stroke-width="3.3" fill="none" stroke-linejoin="round" stroke-dasharray="10.6 4.3"/>
<path d="M906.32 490.27 907.66 487.49 909.01 485.57 910.35 482.84 911.69 480.53 913.03 478.45 914.37 475.99 915.71 474.42 917.05 472.86 918.39 472.42 919.73 471.21 921.08 470.51 922.42 470.03 923.76 469.67 925.1 470.32 926.44 469.85 927.78 470.1 929.12 469.99 930.46 470.59 931.8 469.74 933.14 470.06 934.49 470.02 935.83 470.1 937.17 470.19 938.51 469.85 939.85 470.23 941.19 470.15 942.53 470.15 943.87 469.99 945.21 470.15 946.56 470.7 947.9 470.24 949.24 470.69 950.58 470.65 951.92 470.49 953.26 470.22 954.6 470.8 955.94 469.98 957.28 470.09 958.63 470.95 959.97 471.12 961.31 470.93 962.65 470.5 963.99 470.61 965.33 471.18 966.67 471.74 968.01 471.82 969.35 471.32 970.7 471.4 972.04 471.79 973.38 471.11 974.72 470.55 976.06 470.49 977.4 470.65 978.74 470.92 980.08 471.38 981.42 471.65 982.76 471.92 984.11 471.95 985.45 472.05 986.79 471.8 988.13 470.03 989.47 468.53 990.81 467.73 992.15 467.77 993.49 468.48 994.83 468.43 996.18 468 997.52 467.24 998.86 467.49 1000.2 468.31 1001.54 468.35 1002.88 468.74 1004.22 468.45 1005.56 469.1 1006.9 469.12 1008.25 468.89 1009.59 468.72 1010.93 469.28 1012.27 468.86 1013.61 468.71 1014.95 469.09 1016.29 469.55 1017.63 470.68 1018.97 470.6 1020.32 470.29 1021.66 470.53 1023 470.06 1024.34 470.12 1025.68 470.19 1027.02 469.7 1028.36 469.74 1029.7 469.68 1031.04 470.3 1032.38 470.38 1033.73 470.32 1035.07 469.35 1036.41 469.28 1037.75 469.4 1039.09 469.61 1040.43 470.17 1041.77 469.78 1043.11 470.15 1044.45 469.26 1045.8 469.06 1047.14 468.88 1048.48 469.98 1049.82 469.56 1051.16 468.97 1052.5 468.33 1053.84 468.25 1055.18 468.02 1056.52 467.68 1057.87 468.29 1059.21 468.56 1060.55 468.25 1061.89 468.68 1063.23 468.21 1064.57 468.03 1065.91 468.5 1067.25 468.78 1068.59 468.57 1069.94 465.96 1071.28 463.58 1072.62 463.74 1073.96 462.56 1075.3 462.1 1076.64 462.49 1077.98 462.37 1079.32 462.08 1080.66 462.43 1082 463.27 1083.35 462.88 1084.69 462.83 1086.03 463.07 1087.37 463.07 1088.71 463.14 1090.05 463.6 1091.39 464.07 1092.73 463.41 1094.07 463.64 1095.42 463.55 1096.76 463.62 1098.1 464.34 1099.44 464.8 1100.78 465.28 1102.12 465.81 1103.46 466.07 1104.8 465.08 1106.14 465.59 1107.49 465.84 1108.83 465.01 1110.17 466.71 1111.51 466.73 1112.85 467.12 1114.19 465.8 1115.53 465.25 1116.87 465.56 1118.21 464.99 1119.56 465.1 1120.9 465.67 1122.24 466 1123.58 466.1 1124.92 465.1 1126.26 465.24 1127.6 464.81 1128.94 464.75 1130.28 465.39 1131.62 464.72 1132.97 464.45 1134.31 464.39 1135.65 463.64 1136.99 464.43 1138.33 464.11 1139.67 464.14 1141.01 464.39 1142.35 464.68 1143.69 464.13 1145.04 464.4 1146.38 464.7 1147.72 464.92 1149.06 464.57 1150.4 464.44 1151.74 462.49 1153.08 460.79 1154.42 461.15 1155.76 460.41 1157.11 460.11 1158.45 460 1159.79 459.99 1161.13 459.66 1162.47 459.99 1163.81 460.05 1165.15 460.44 1166.49 460.18 1167.83 460.23 1169.18 460.61 1170.52 460.8 1171.86 460.91 1173.2 461.28 1174.54 461.95 1175.88 461.39 1177.22 461.96 1178.56 462.35 1179.9 462.84 1181.24 462.42 1182.59 463.2 1183.93 462.05 1185.27 463.19 1186.61 463.95 1187.95 463.29 1189.29 463.93 1190.63 464.7 1191.97 464.6 1193.31 464.52 1194.66 464.23 1196 464.21 1197.34 463.88 1198.68 464.4 1200.02 464.68 1201.36 464.36 1202.7 464.31 1204.04 464.71 1205.38 464.66 1206.73 465.45 1208.07 465.31 1209.41 465.17 1210.75 464.7 1212.09 464.59 1213.43 464.4 1214.77 464.69 1216.11 463.76 1217.45 464.84 1218.8 464.42 1220.14 464.57 1221.48 463.35 1222.82 463.31 1224.16 464.28 1225.5 463.91 1226.84 463.55 1228.18 462.58 1229.52 462.43 1230.86 462.05 1232.21 463.35 1233.55 461.76 1234.89 459.47 1236.23 459.6 1237.57 459.2 1238.91 458.58 1240.25 458.66 1241.59 459.18 1242.93 458.89 1244.28 459.4 1245.62 458.75 1246.96 459.3 1248.3 459.7 1249.64 458.98 1250.98 460.07 1252.32 459.26 1253.66 458.83 1255 459.66 1256.35 460.71 1257.69 461.36 1259.03 461.25 1260.37 461.05 1261.71 461.13 1263.05 461.15 1264.39 461.2 1265.73 461.02 1267.07 461.52 1268.42 460.38 1269.76 461.4 1271.1 460.93 1272.44 461.37 1273.78 461.89 1275.12 461.59 1276.46 462 1277.8 462.3 1279.14 462.78 1280.48 462.38 1281.83 461.87 1283.17 462.16 1284.51 462.06 1285.85 461.96 1287.19 461.99 1288.53 462.5 1289.87 462.63 1291.21 462.11 1292.55 462.72 1293.9 462.94 1295.24 463.45 1296.58 463.05 1297.92 462.43 1299.26 462.21 1300.6 461.65 1301.94 462.31 1303.28 462.38 1304.62 462.93 1305.97 463.42 1307.31 463.49 1308.65 463.9 1309.99 463.2 1311.33 462.67 1312.67 462.89 1314.01 462.35 1315.35 460.86 1316.69 460.11 1318.04 459.58 1319.38 460.09 1320.72 459.4 1322.06 459.46 1323.4 460.29 1324.74 459.77 1326.08 459.1 1327.42 459.29 1328.76 459.97 1330.1 459.95 1331.45 460.42 1332.79 459.78 1334.13 460.42 1335.47 460.07 1336.81 460.26 1338.15 460.57 1339.49 460.94 1340.83 460.57 1342.17 460.46 1343.52 460.69 1344.86 460.29 1346.2 461.3 1347.54 461.56 1348.88 462.48 1350.22 462.6 1351.56 462.99 1352.9 462.44 1354.24 462.64 1355.59 463.23 1356.93 462.52 1358.27 462.7 1359.61 463.03 1360.95 462.34 1362.29 462.95 1363.63 462.25 1364.97 461.72 1366.31 462.22 1367.66 462.83 1369 462.99 1370.34 462.33 1371.68 462.92 1373.02 462.5 1374.36 462.35 1375.7 462.95 1377.04 463.09 1378.38 462.96 1379.72 463.83 1381.07 463.62 1382.41 462.76 1383.75 463.49 1385.09 462.66 1386.43 463.03 1387.77 463.05 1389.11 463.5 1390.45 464.22 1391.79 463.26 1393.14 463.12 1394.48 463.31 1395.82 463.05" stroke="#000" stroke-width="4.2" fill="none" stroke-linejoin="round"/>
</g>
<path d="M988.13 601.6V354.5M1069.94 601.6V354.5M1151.74 601.6V354.5M1233.55 601.6V354.5M1315.35 601.6V354.5" stroke="#d3d3d3" stroke-width="3.7" stroke-dasharray="13.3 5.6" fill="none"/>
<path d="M902.3 354.5H1398.5V601.6H902.3" stroke="#555555" stroke-width="1.2" fill="none"/>
<path d="M902.3 354.5V601.6" stroke="#555555" stroke-width="1.2" fill="none"/>
<path d="M899.1 601.6H902.3M899.1 560.42H902.3M899.1 519.23H902.3M899.1 478.05H902.3M899.1 436.87H902.3M899.1 395.68H902.3M899.1 354.5H902.3M900.7 593.36H902.3M900.7 585.13H902.3M900.7 576.89H902.3M900.7 568.65H902.3M900.7 552.18H902.3M900.7 543.94H902.3M900.7 535.71H902.3M900.7 527.47H902.3M900.7 511H902.3M900.7 502.76H902.3M900.7 494.52H902.3M900.7 486.29H902.3M900.7 469.81H902.3M900.7 461.58H902.3M900.7 453.34H902.3M900.7 445.1H902.3M900.7 428.63H902.3M900.7 420.39H902.3M900.7 412.16H902.3M900.7 403.92H902.3M900.7 387.45H902.3M900.7 379.21H902.3M900.7 370.97H902.3M900.7 362.74H902.3" stroke="#555555" stroke-width="1" fill="none"/>
<text x="897.4" y="606.4" font-size="13.2" text-anchor="end">150</text>
<text x="897.4" y="565.22" font-size="13.2" text-anchor="end">160</text>
<text x="897.4" y="524.04" font-size="13.2" text-anchor="end">170</text>
<text x="897.4" y="482.85" font-size="13.2" text-anchor="end">180</text>
<text x="897.4" y="441.67" font-size="13.2" text-anchor="end">190</text>
<text x="897.4" y="400.49" font-size="13.2" text-anchor="end">200</text>
<text x="897.4" y="359.3" font-size="13.2" text-anchor="end">210</text>
<path d="M902.3 601.6V604.8M969.35 601.6V604.8M1036.41 601.6V604.8M1103.46 601.6V604.8M1170.52 601.6V604.8M1237.57 601.6V604.8M1304.62 601.6V604.8M1371.68 601.6V604.8M915.71 601.6V603.2M929.12 601.6V603.2M942.53 601.6V603.2M955.94 601.6V603.2M982.76 601.6V603.2M996.18 601.6V603.2M1009.59 601.6V603.2M1023 601.6V603.2M1049.82 601.6V603.2M1063.23 601.6V603.2M1076.64 601.6V603.2M1090.05 601.6V603.2M1116.87 601.6V603.2M1130.28 601.6V603.2M1143.69 601.6V603.2M1157.11 601.6V603.2M1183.93 601.6V603.2M1197.34 601.6V603.2M1210.75 601.6V603.2M1224.16 601.6V603.2M1250.98 601.6V603.2M1264.39 601.6V603.2M1277.8 601.6V603.2M1291.21 601.6V603.2M1318.04 601.6V603.2M1331.45 601.6V603.2M1344.86 601.6V603.2M1358.27 601.6V603.2M1385.09 601.6V603.2M1398.5 601.6V603.2" stroke="#555555" stroke-width="1" fill="none"/>
<text x="902.3" y="621.2" font-size="13.3" text-anchor="middle">1650</text>
<text x="969.35" y="621.2" font-size="13.3" text-anchor="middle">1700</text>
<text x="1036.41" y="621.2" font-size="13.3" text-anchor="middle">1750</text>
<text x="1103.46" y="621.2" font-size="13.3" text-anchor="middle">1800</text>
<text x="1170.52" y="621.2" font-size="13.3" text-anchor="middle">1850</text>
<text x="1237.57" y="621.2" font-size="13.3" text-anchor="middle">1900</text>
<text x="1304.62" y="621.2" font-size="13.3" text-anchor="middle">1950</text>
<text x="1371.68" y="621.2" font-size="13.3" text-anchor="middle">2000</text>
<text x="1150.4" y="346.5" font-size="17.8" text-anchor="middle">OMIP2 Global Mean Dissolved Oxygen 0-700m</text>
<text x="1150.4" y="642.2" font-size="17.8" text-anchor="middle">Year</text>
<text x="863.3" y="478.05" font-size="15.5" text-anchor="middle" transform="rotate(-90 863.3 478.05)">mmol/m<tspan font-size="11.78" dy="-7.28">3</tspan></text>
<clipPath id="c5"><rect x="632.7" y="38.3" width="180.1" height="246.6"/></clipPath>
<path d="M657.05 38.3V284.9M689.9 38.3V284.9M722.75 38.3V284.9M755.6 38.3V284.9M788.45 38.3V284.9M632.7 271.2H812.8M632.7 243.8H812.8M632.7 216.4H812.8M632.7 189H812.8M632.7 161.6H812.8M632.7 134.2H812.8M632.7 106.8H812.8M632.7 79.4H812.8M632.7 52H812.8" stroke="#ebebeb" stroke-width="1" fill="none"/>
<path d="M632.7 161.6H812.8" stroke="#000" stroke-width="2.3" stroke-dasharray="8.4 4.2" fill="none"/>
<circle cx="722.75" cy="122.83" r="3.1" fill="#ff0000"/>
<circle cx="722.75" cy="117.07" r="3.1" fill="#9400d3"/>
<circle cx="722.75" cy="194.75" r="3.1" fill="#0000ff"/>
<circle cx="722.75" cy="94.47" r="3.1" fill="#707000"/>
<circle cx="722.75" cy="156.12" r="3.1" fill="#fa7410"/>
<circle cx="722.75" cy="168.45" r="3.1" fill="#a2ff30"/>
<path d="M718.95 139.99L726.55 147.59M718.95 147.59L726.55 139.99" stroke="#a2ff30" stroke-width="1.4"/>
<path d="M718.95 214.79L726.55 222.39M718.95 222.39L726.55 214.79" stroke="#ff00ff" stroke-width="1.4"/>
<path d="M718.95 129.03L726.55 136.63M718.95 136.63L726.55 129.03" stroke="#ff0000" stroke-width="1.4"/>
<path d="M718.95 85.88L726.55 93.48M718.95 93.48L726.55 85.88" stroke="#0000ff" stroke-width="1.4"/>
<path d="M718.95 136.98L726.55 144.58M718.95 144.58L726.55 136.98" stroke="#00ffff" stroke-width="1.4"/>
<path d="M718.95 157.8L726.55 165.4M718.95 165.4L726.55 157.8" stroke="#fa7410" stroke-width="1.4"/>
<path d="M722.75 137.19L726.75 141.19L722.75 145.19L718.75 141.19Z" fill="#000"/>
<path d="M632.7 38.3H812.8V284.9H632.7" stroke="#555555" stroke-width="1.2" fill="none"/>
<path d="M632.7 38.3V284.9" stroke="#555555" stroke-width="1.2" fill="none"/>
<path d="M630.9 271.2H632.7M630.9 243.8H632.7M630.9 216.4H632.7M630.9 189H632.7M630.9 161.6H632.7M630.9 134.2H632.7M630.9 106.8H632.7M630.9 79.4H632.7M630.9 52H632.7M631.7 284.9H632.7M631.7 278.05H632.7M631.7 264.35H632.7M631.7 257.5H632.7M631.7 250.65H632.7M631.7 236.95H632.7M631.7 230.1H632.7M631.7 223.25H632.7M631.7 209.55H632.7M631.7 202.7H632.7M631.7 195.85H632.7M631.7 182.15H632.7M631.7 175.3H632.7M631.7 168.45H632.7M631.7 154.75H632.7M631.7 147.9H632.7M631.7 141.05H632.7M631.7 127.35H632.7M631.7 120.5H632.7M631.7 113.65H632.7M631.7 99.95H632.7M631.7 93.1H632.7M631.7 86.25H632.7M631.7 72.55H632.7M631.7 65.7H632.7M631.7 58.85H632.7M631.7 45.15H632.7M631.7 38.3H632.7" stroke="#555555" stroke-width="1" fill="none"/>
<text x="630.3" y="275.75" font-size="12.5" text-anchor="end">−0.8</text>
<text x="630.3" y="248.35" font-size="12.5" text-anchor="end">−0.6</text>
<text x="630.3" y="220.95" font-size="12.5" text-anchor="end">−0.4</text>
<text x="630.3" y="193.55" font-size="12.5" text-anchor="end">−0.2</text>
<text x="626.8" y="166.15" font-size="12.5" text-anchor="end">0</text>
<text x="630.3" y="138.75" font-size="12.5" text-anchor="end">0.2</text>
<text x="630.3" y="111.35" font-size="12.5" text-anchor="end">0.4</text>
<text x="630.3" y="83.95" font-size="12.5" text-anchor="end">0.6</text>
<text x="630.3" y="56.55" font-size="12.5" text-anchor="end">0.8</text>
<text x="722.75" y="31.2" font-size="14.3" text-anchor="middle">OMIP1 Drift</text>
<text x="722.75" y="303.8" font-size="14.3" text-anchor="middle">Temperature 0-700m</text>
<text x="595.7" y="161.6" font-size="17.8" text-anchor="middle" transform="rotate(-90 595.7 161.6)">degC</text>
<clipPath id="c6"><rect x="632.6" y="353.5" width="179.9" height="247.1"/></clipPath>
<path d="M656.85 353.5V600.6M689.7 353.5V600.6M722.55 353.5V600.6M755.4 353.5V600.6M788.25 353.5V600.6M632.6 586.87H812.5M632.6 559.42H812.5M632.6 531.96H812.5M632.6 504.51H812.5M632.6 477.05H812.5M632.6 449.59H812.5M632.6 422.14H812.5M632.6 394.68H812.5M632.6 367.23H812.5" stroke="#ebebeb" stroke-width="1" fill="none"/>
<path d="M632.6 477.05H812.5" stroke="#000" stroke-width="2.3" stroke-dasharray="8.4 4.2" fill="none"/>
<circle cx="722.55" cy="415.27" r="3.1" fill="#ff00ff"/>
<circle cx="722.55" cy="430.92" r="3.1" fill="#ff0000"/>
<circle cx="722.55" cy="491.46" r="3.1" fill="#fa7410"/>
<path d="M718.75 381.27L726.35 388.87M718.75 388.87L726.35 381.27" stroke="#0000ff" stroke-width="1.4"/>
<path d="M718.75 414.22L726.35 421.82M718.75 421.82L726.35 414.22" stroke="#00ffff" stroke-width="1.4"/>
<path d="M722.55 423.9L726.55 427.9L722.55 431.9L718.55 427.9Z" fill="#000"/>
<path d="M632.6 353.5H812.5V600.6H632.6" stroke="#555555" stroke-width="1.2" fill="none"/>
<path d="M632.6 353.5V600.6" stroke="#555555" stroke-width="1.2" fill="none"/>
<path d="M630.8 586.87H632.6M630.8 559.42H632.6M630.8 531.96H632.6M630.8 504.51H632.6M630.8 477.05H632.6M630.8 449.59H632.6M630.8 422.14H632.6M630.8 394.68H632.6M630.8 367.23H632.6M631.6 600.6H632.6M631.6 593.74H632.6M631.6 580.01H632.6M631.6 573.14H632.6M631.6 566.28H632.6M631.6 552.55H632.6M631.6 545.69H632.6M631.6 538.83H632.6M631.6 525.1H632.6M631.6 518.23H632.6M631.6 511.37H632.6M631.6 497.64H632.6M631.6 490.78H632.6M631.6 483.91H632.6M631.6 470.19H632.6M631.6 463.32H632.6M631.6 456.46H632.6M631.6 442.73H632.6M631.6 435.87H632.6M631.6 429H632.6M631.6 415.27H632.6M631.6 408.41H632.6M631.6 401.55H632.6M631.6 387.82H632.6M631.6 380.96H632.6M631.6 374.09H632.6M631.6 360.36H632.6M631.6 353.5H632.6" stroke="#555555" stroke-width="1" fill="none"/>
<text x="630.2" y="591.42" font-size="12.5" text-anchor="end">−0.8</text>
<text x="630.2" y="563.97" font-size="12.5" text-anchor="end">−0.6</text>
<text x="630.2" y="536.51" font-size="12.5" text-anchor="end">−0.4</text>
<text x="630.2" y="509.06" font-size="12.5" text-anchor="end">−0.2</text>
<text x="626.7" y="481.6" font-size="12.5" text-anchor="end">0</text>
<text x="630.2" y="454.14" font-size="12.5" text-anchor="end">0.2</text>
<text x="630.2" y="426.69" font-size="12.5" text-anchor="end">0.4</text>
<text x="630.2" y="399.23" font-size="12.5" text-anchor="end">0.6</text>
<text x="630.2" y="371.78" font-size="12.5" text-anchor="end">0.8</text>
<text x="722.55" y="346.9" font-size="14.3" text-anchor="middle">OMIP2 Drift</text>
<text x="722.55" y="619" font-size="14.3" text-anchor="middle">Temperature 0-700m</text>
<text x="595.7" y="477.05" font-size="17.8" text-anchor="middle" transform="rotate(-90 595.7 477.05)">degC</text>
<clipPath id="c7"><rect x="1441.9" y="38.3" width="180.3" height="247.2"/></clipPath>
<path d="M1466.35 38.3V285.5M1499.2 38.3V285.5M1532.05 38.3V285.5M1564.9 38.3V285.5M1597.75 38.3V285.5M1441.9 285.5H1622.2M1441.9 244.3H1622.2M1441.9 203.1H1622.2M1441.9 161.9H1622.2M1441.9 120.7H1622.2M1441.9 79.5H1622.2M1441.9 38.3H1622.2" stroke="#ebebeb" stroke-width="1" fill="none"/>
<path d="M1441.9 161.9H1622.2" stroke="#000" stroke-width="2.3" stroke-dasharray="8.4 4.2" fill="none"/>
<circle cx="1532.05" cy="243.89" r="3.1" fill="#ff0000"/>
<circle cx="1532.05" cy="191.56" r="3.1" fill="#9400d3"/>
<circle cx="1532.05" cy="164.78" r="3.1" fill="#0000ff"/>
<circle cx="1532.05" cy="99.28" r="3.1" fill="#00ffff"/>
<circle cx="1532.05" cy="133.88" r="3.1" fill="#707000"/>
<circle cx="1532.05" cy="172.61" r="3.1" fill="#fa7410"/>
<circle cx="1532.05" cy="133.06" r="3.1" fill="#a2ff30"/>
<path d="M1528.25 127.2L1535.85 134.8M1528.25 134.8L1535.85 127.2" stroke="#a2ff30" stroke-width="1.4"/>
<path d="M1528.25 175.82L1535.85 183.42M1528.25 183.42L1535.85 175.82" stroke="#ff00ff" stroke-width="1.4"/>
<path d="M1528.25 119.37L1535.85 126.97M1528.25 126.97L1535.85 119.37" stroke="#ff0000" stroke-width="1.4"/>
<path d="M1528.25 107.42L1535.85 115.02M1528.25 115.02L1535.85 107.42" stroke="#0000ff" stroke-width="1.4"/>
<path d="M1528.25 158.1L1535.85 165.7M1528.25 165.7L1535.85 158.1" stroke="#00ffff" stroke-width="1.4"/>
<path d="M1528.25 192.3L1535.85 199.9M1528.25 199.9L1535.85 192.3" stroke="#fa7410" stroke-width="1.4"/>
<path d="M1532.05 152.54L1536.05 156.54L1532.05 160.54L1528.05 156.54Z" fill="#000"/>
<path d="M1441.9 38.3H1622.2V285.5H1441.9" stroke="#555555" stroke-width="1.2" fill="none"/>
<path d="M1441.9 38.3V285.5" stroke="#555555" stroke-width="1.2" fill="none"/>
<path d="M1440.1 285.5H1441.9M1440.1 244.3H1441.9M1440.1 203.1H1441.9M1440.1 161.9H1441.9M1440.1 120.7H1441.9M1440.1 79.5H1441.9M1440.1 38.3H1441.9M1440.9 277.26H1441.9M1440.9 269.02H1441.9M1440.9 260.78H1441.9M1440.9 252.54H1441.9M1440.9 236.06H1441.9M1440.9 227.82H1441.9M1440.9 219.58H1441.9M1440.9 211.34H1441.9M1440.9 194.86H1441.9M1440.9 186.62H1441.9M1440.9 178.38H1441.9M1440.9 170.14H1441.9M1440.9 153.66H1441.9M1440.9 145.42H1441.9M1440.9 137.18H1441.9M1440.9 128.94H1441.9M1440.9 112.46H1441.9M1440.9 104.22H1441.9M1440.9 95.98H1441.9M1440.9 87.74H1441.9M1440.9 71.26H1441.9M1440.9 63.02H1441.9M1440.9 54.78H1441.9M1440.9 46.54H1441.9" stroke="#555555" stroke-width="1" fill="none"/>
<text x="1438.6" y="290.05" font-size="12.5" text-anchor="end">−30</text>
<text x="1438.6" y="248.85" font-size="12.5" text-anchor="end">−20</text>
<text x="1438.6" y="207.65" font-size="12.5" text-anchor="end">−10</text>
<text x="1439.2" y="166.45" font-size="12.5" text-anchor="end">0</text>
<text x="1440.6" y="125.25" font-size="12.5" text-anchor="end">10</text>
<text x="1440.6" y="84.05" font-size="12.5" text-anchor="end">20</text>
<text x="1440.6" y="42.85" font-size="12.5" text-anchor="end">30</text>
<text x="1532.05" y="31" font-size="14.3" text-anchor="middle">OMIP1 Drift</text>
<text x="1532.05" y="305" font-size="14.3" text-anchor="middle">Dissolved Oxygen 0-700m</text>
<text x="1422.2" y="161.9" font-size="12.4" text-anchor="middle" transform="rotate(-90 1422.2 161.9)">mmol/m<tspan font-size="9.42" dy="-5.83">3</tspan></text>
<clipPath id="c8"><rect x="1442.3" y="355.4" width="180.1" height="246.9"/></clipPath>
<path d="M1466.65 355.4V602.3M1499.5 355.4V602.3M1532.35 355.4V602.3M1565.2 355.4V602.3M1598.05 355.4V602.3M1442.3 602.3H1622.4M1442.3 561.15H1622.4M1442.3 520H1622.4M1442.3 478.85H1622.4M1442.3 437.7H1622.4M1442.3 396.55H1622.4M1442.3 355.4H1622.4" stroke="#ebebeb" stroke-width="1" fill="none"/>
<path d="M1442.3 478.85H1622.4" stroke="#000" stroke-width="2.3" stroke-dasharray="8.4 4.2" fill="none"/>
<circle cx="1532.35" cy="367.75" r="3.1" fill="#ff00ff"/>
<circle cx="1532.35" cy="545.51" r="3.1" fill="#ff0000"/>
<circle cx="1532.35" cy="454.98" r="3.1" fill="#fa7410"/>
<path d="M1528.55 414.97L1536.15 422.57M1528.55 422.57L1536.15 414.97" stroke="#0000ff" stroke-width="1.4"/>
<path d="M1528.55 454.47L1536.15 462.07M1528.55 462.07L1536.15 454.47" stroke="#00ffff" stroke-width="1.4"/>
<path d="M1532.35 444.81L1536.35 448.81L1532.35 452.81L1528.35 448.81Z" fill="#000"/>
<path d="M1442.3 355.4H1622.4V602.3H1442.3" stroke="#555555" stroke-width="1.2" fill="none"/>
<path d="M1442.3 355.4V602.3" stroke="#555555" stroke-width="1.2" fill="none"/>
<path d="M1440.5 602.3H1442.3M1440.5 561.15H1442.3M1440.5 520H1442.3M1440.5 478.85H1442.3M1440.5 437.7H1442.3M1440.5 396.55H1442.3M1440.5 355.4H1442.3M1441.3 594.07H1442.3M1441.3 585.84H1442.3M1441.3 577.61H1442.3M1441.3 569.38H1442.3M1441.3 552.92H1442.3M1441.3 544.69H1442.3M1441.3 536.46H1442.3M1441.3 528.23H1442.3M1441.3 511.77H1442.3M1441.3 503.54H1442.3M1441.3 495.31H1442.3M1441.3 487.08H1442.3M1441.3 470.62H1442.3M1441.3 462.39H1442.3M1441.3 454.16H1442.3M1441.3 445.93H1442.3M1441.3 429.47H1442.3M1441.3 421.24H1442.3M1441.3 413.01H1442.3M1441.3 404.78H1442.3M1441.3 388.32H1442.3M1441.3 380.09H1442.3M1441.3 371.86H1442.3M1441.3 363.63H1442.3" stroke="#555555" stroke-width="1" fill="none"/>
<text x="1439" y="606.85" font-size="12.5" text-anchor="end">−30</text>
<text x="1439" y="565.7" font-size="12.5" text-anchor="end">−20</text>
<text x="1439" y="524.55" font-size="12.5" text-anchor="end">−10</text>
<text x="1439.6" y="483.4" font-size="12.5" text-anchor="end">0</text>
<text x="1441" y="442.25" font-size="12.5" text-anchor="end">10</text>
<text x="1441" y="401.1" font-size="12.5" text-anchor="end">20</text>
<text x="1441" y="359.95" font-size="12.5" text-anchor="end">30</text>
<text x="1532.35" y="348.7" font-size="14.3" text-anchor="middle">OMIP2 Drift</text>
<text x="1532.35" y="622.4" font-size="14.3" text-anchor="middle">Dissolved Oxygen 0-700m</text>
<text x="1422.2" y="478.85" font-size="12.4" text-anchor="middle" transform="rotate(-90 1422.2 478.85)">mmol/m<tspan font-size="9.42" dy="-5.83">3</tspan></text>
<text x="-0.3" y="23.8" font-size="29.5" font-weight="bold" font-family="'Liberation Sans', Arial, sans-serif">A</text>
<text x="579.8" y="23.8" font-size="29.5" font-weight="bold" font-family="'Liberation Sans', Arial, sans-serif">B</text>
<text x="834.8" y="23.8" font-size="29.5" font-weight="bold" font-family="'Liberation Sans', Arial, sans-serif">C</text>
<text x="1404.8" y="23.8" font-size="29.5" font-weight="bold" font-family="'Liberation Sans', Arial, sans-serif">D</text>
<text x="0" y="345.2" font-size="29.5" font-weight="bold" font-family="'Liberation Sans', Arial, sans-serif">E</text>
<text x="579.8" y="345.2" font-size="29.5" font-weight="bold" font-family="'Liberation Sans', Arial, sans-serif">F</text>
<text x="834.8" y="345.2" font-size="29.5" font-weight="bold" font-family="'Liberation Sans', Arial, sans-serif">G</text>
<text x="1404.9" y="345.2" font-size="29.5" font-weight="bold" font-family="'Liberation Sans', Arial, sans-serif">H</text>
<path d="M1653.1 190.2H1679.1" stroke="#ff00ff" stroke-width="2.3"/>
<circle cx="1647.3" cy="190.2" r="3.65" fill="#ff00ff"/>
<text x="1683.7" y="194.6" font-size="11.95" text-anchor="start">ACCESS-OM2</text>
<path d="M1653.1 207.59H1679.1" stroke="#ff0000" stroke-width="2.3"/>
<circle cx="1647.3" cy="207.59" r="3.65" fill="#ff0000"/>
<text x="1683.7" y="211.99" font-size="11.95" text-anchor="start">CESM2</text>
<path d="M1653.1 224.98H1679.1" stroke="#9400d3" stroke-width="2.3"/>
<circle cx="1647.3" cy="224.98" r="3.65" fill="#9400d3"/>
<text x="1683.7" y="229.38" font-size="11.95" text-anchor="start">CMCC-ESM2</text>
<path d="M1653.1 242.37H1679.1" stroke="#0000ff" stroke-width="2.3"/>
<circle cx="1647.3" cy="242.37" r="3.65" fill="#0000ff"/>
<text x="1683.7" y="246.77" font-size="11.95" text-anchor="start">CNRM-ESM2-1</text>
<path d="M1653.1 259.76H1679.1" stroke="#00ffff" stroke-width="2.3"/>
<circle cx="1647.3" cy="259.76" r="3.65" fill="#00ffff"/>
<text x="1683.7" y="264.16" font-size="11.95" text-anchor="start">CanESM5</text>
<path d="M1653.1 277.15H1679.1" stroke="#707000" stroke-width="2.3"/>
<circle cx="1647.3" cy="277.15" r="3.65" fill="#707000"/>
<text x="1683.7" y="281.55" font-size="11.95" text-anchor="start">CanESM5-CanOE</text>
<path d="M1653.1 294.54H1679.1" stroke="#fa7410" stroke-width="2.3"/>
<circle cx="1647.3" cy="294.54" r="3.65" fill="#fa7410"/>
<text x="1683.7" y="298.94" font-size="11.95" text-anchor="start">EC-Earth3</text>
<path d="M1653.1 311.93H1679.1" stroke="#a2ff30" stroke-width="2.3"/>
<circle cx="1647.3" cy="311.93" r="3.65" fill="#a2ff30"/>
<text x="1683.7" y="316.33" font-size="11.95" text-anchor="start">GFDL-CM4</text>
<path d="M1654.2 329.32H1677.7" stroke="#a2ff30" stroke-width="3" stroke-dasharray="10.7 4.4"/>
<path d="M1640.1 324.52L1649.7 334.12M1640.1 334.12L1649.7 324.52" stroke="#a2ff30" stroke-width="1.4"/>
<text x="1683.7" y="333.72" font-size="11.95" text-anchor="start">GFDL-OM4p5B</text>
<path d="M1654.2 346.71H1677.7" stroke="#ff00ff" stroke-width="3" stroke-dasharray="10.7 4.4"/>
<path d="M1640.1 341.91L1649.7 351.51M1640.1 351.51L1649.7 341.91" stroke="#ff00ff" stroke-width="1.4"/>
<text x="1683.7" y="351.11" font-size="11.95" text-anchor="start">IPSL-CM6A-LR</text>
<path d="M1654.2 364.1H1677.7" stroke="#ff0000" stroke-width="3" stroke-dasharray="10.7 4.4"/>
<path d="M1640.1 359.3L1649.7 368.9M1640.1 368.9L1649.7 359.3" stroke="#ff0000" stroke-width="1.4"/>
<text x="1683.7" y="368.5" font-size="11.95" text-anchor="start">MIROC-ES2L</text>
<path d="M1654.2 381.49H1677.7" stroke="#0000ff" stroke-width="3" stroke-dasharray="10.7 4.4"/>
<path d="M1640.1 376.69L1649.7 386.29M1640.1 386.29L1649.7 376.69" stroke="#0000ff" stroke-width="1.4"/>
<text x="1683.7" y="385.89" font-size="11.95" text-anchor="start">MRI-ESM2-0</text>
<path d="M1654.2 398.88H1677.7" stroke="#00ffff" stroke-width="3" stroke-dasharray="10.7 4.4"/>
<path d="M1640.1 394.08L1649.7 403.68M1640.1 403.68L1649.7 394.08" stroke="#00ffff" stroke-width="1.4"/>
<text x="1683.7" y="403.28" font-size="11.95" text-anchor="start">NorESM2-LM</text>
<path d="M1654.2 416.27H1677.7" stroke="#fa7410" stroke-width="3" stroke-dasharray="10.7 4.4"/>
<path d="M1640.1 411.47L1649.7 421.07M1640.1 421.07L1649.7 411.47" stroke="#fa7410" stroke-width="1.4"/>
<text x="1683.7" y="420.67" font-size="11.95" text-anchor="start">UKESM1-0-LL</text>
<path d="M1652.3 433.66H1679.1" stroke="#000" stroke-width="4.1"/>
<path d="M1645.4 429.66L1649.4 433.66L1645.4 437.66L1641.4 433.66Z" fill="#000"/>
<path d="M1645.4 428.66L1650.4 433.66L1645.4 438.66L1640.4 433.66Z" fill="#000"/>
<text x="1683.7" y="438.06" font-size="11.95" text-anchor="start">OMIP-MM-MEAN</text>
</svg></body></html>
